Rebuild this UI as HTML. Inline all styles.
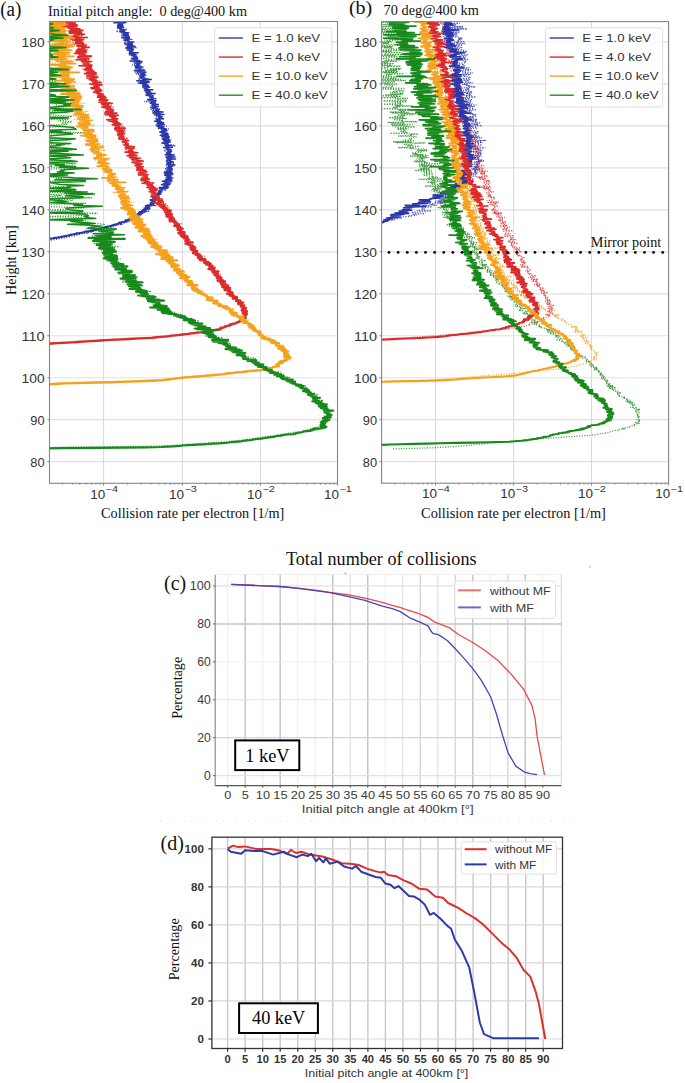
<!DOCTYPE html>
<html><head><meta charset="utf-8"><style>
html,body{margin:0;padding:0;background:#fff;}
body{width:685px;height:1083px;overflow:hidden;}
svg{display:block;}
</style></head><body>
<svg width="685" height="1083" viewBox="0 0 685 1083">
<rect width="685" height="1083" fill="#fff"/>
<clipPath id="ca"><rect x="49.5" y="21.5" width="288" height="461.8"/></clipPath>
<line x1="49.5" y1="461.7" x2="337.5" y2="461.7" stroke="#e0e0e0" stroke-width="1.2"/>
<line x1="49.5" y1="419.72" x2="337.5" y2="419.72" stroke="#e0e0e0" stroke-width="1.2"/>
<line x1="49.5" y1="377.74" x2="337.5" y2="377.74" stroke="#e0e0e0" stroke-width="1.2"/>
<line x1="49.5" y1="335.76" x2="337.5" y2="335.76" stroke="#e0e0e0" stroke-width="1.2"/>
<line x1="49.5" y1="293.78" x2="337.5" y2="293.78" stroke="#e0e0e0" stroke-width="1.2"/>
<line x1="49.5" y1="251.8" x2="337.5" y2="251.8" stroke="#e0e0e0" stroke-width="1.2"/>
<line x1="49.5" y1="209.82" x2="337.5" y2="209.82" stroke="#e0e0e0" stroke-width="1.2"/>
<line x1="49.5" y1="167.84" x2="337.5" y2="167.84" stroke="#e0e0e0" stroke-width="1.2"/>
<line x1="49.5" y1="125.86" x2="337.5" y2="125.86" stroke="#e0e0e0" stroke-width="1.2"/>
<line x1="49.5" y1="83.88" x2="337.5" y2="83.88" stroke="#e0e0e0" stroke-width="1.2"/>
<line x1="49.5" y1="41.9" x2="337.5" y2="41.9" stroke="#e0e0e0" stroke-width="1.2"/>
<line x1="103.6" y1="21.5" x2="103.6" y2="483.3" stroke="#d6d2d2" stroke-width="0.9"/>
<line x1="182.4" y1="21.5" x2="182.4" y2="483.3" stroke="#d6d2d2" stroke-width="0.9"/>
<line x1="260.4" y1="21.5" x2="260.4" y2="483.3" stroke="#d6d2d2" stroke-width="0.9"/>
<clipPath id="cb"><rect x="381.6" y="21.6" width="287" height="461.6"/></clipPath>
<line x1="381.6" y1="461.7" x2="668.6" y2="461.7" stroke="#e0e0e0" stroke-width="1.2"/>
<line x1="381.6" y1="419.72" x2="668.6" y2="419.72" stroke="#e0e0e0" stroke-width="1.2"/>
<line x1="381.6" y1="377.74" x2="668.6" y2="377.74" stroke="#e0e0e0" stroke-width="1.2"/>
<line x1="381.6" y1="335.76" x2="668.6" y2="335.76" stroke="#e0e0e0" stroke-width="1.2"/>
<line x1="381.6" y1="293.78" x2="668.6" y2="293.78" stroke="#e0e0e0" stroke-width="1.2"/>
<line x1="381.6" y1="251.8" x2="668.6" y2="251.8" stroke="#e0e0e0" stroke-width="1.2"/>
<line x1="381.6" y1="209.82" x2="668.6" y2="209.82" stroke="#e0e0e0" stroke-width="1.2"/>
<line x1="381.6" y1="167.84" x2="668.6" y2="167.84" stroke="#e0e0e0" stroke-width="1.2"/>
<line x1="381.6" y1="125.86" x2="668.6" y2="125.86" stroke="#e0e0e0" stroke-width="1.2"/>
<line x1="381.6" y1="83.88" x2="668.6" y2="83.88" stroke="#e0e0e0" stroke-width="1.2"/>
<line x1="381.6" y1="41.9" x2="668.6" y2="41.9" stroke="#e0e0e0" stroke-width="1.2"/>
<line x1="435.5" y1="21.6" x2="435.5" y2="483.2" stroke="#d6d2d2" stroke-width="0.9"/>
<line x1="513.6" y1="21.6" x2="513.6" y2="483.2" stroke="#d6d2d2" stroke-width="0.9"/>
<line x1="591.5" y1="21.6" x2="591.5" y2="483.2" stroke="#d6d2d2" stroke-width="0.9"/>
<g>
<path d="M47.5 19.6L47.5 20.7L47.5 21.8L47.5 22.9L47.5 24.0L47.5 25.1L52.6 26.2L63.1 27.3L47.5 28.4L47.5 29.5L47.5 30.6L47.5 31.7L47.5 32.8L47.5 33.9L47.5 35.0L58.4 36.1L47.5 37.2L47.5 38.3L47.5 39.4L47.5 40.5L47.5 41.6L47.5 42.7L47.5 43.8L47.5 44.9L47.5 46.0L47.5 47.1L47.5 48.2L49.2 49.3L47.5 50.4L47.5 51.5L47.5 52.6L50.1 53.7L47.5 54.8L47.5 55.9L47.5 57.0L47.5 58.1L47.5 59.2L47.5 60.3L49.9 61.4L47.5 62.5L47.5 63.6L47.5 64.7L47.5 65.8L47.5 66.9L47.5 68.0L47.5 69.1L47.5 70.2L56.8 71.3L47.5 72.4L47.5 73.5L47.5 74.6L47.5 75.7L47.5 76.8L47.5 77.9L47.5 79.0L47.5 80.1L56.2 81.2L47.5 82.3L47.5 83.4L47.5 84.5L59.1 85.6L47.5 86.7L47.5 87.8L47.5 88.9L47.5 90.0L56.0 91.1L47.5 92.2L47.5 93.3L47.5 94.4L47.5 95.5L47.5 96.6L47.5 97.7L54.4 98.8L47.5 99.9L70.8 101.0L47.5 102.1L56.1 103.2L55.9 104.3L57.1 105.4L74.2 106.5L47.5 107.6L47.5 108.7L47.5 109.8L59.0 110.9L47.5 112.0L47.5 113.1L47.5 114.2L56.4 115.3L72.3 116.4L47.5 117.5L47.5 118.6L67.9 119.7L58.0 120.8L72.0 121.9L61.6 123.0L67.6 124.1L49.1 125.2L65.6 126.3L47.5 127.4L47.5 128.5L47.5 129.6L53.6 130.7L64.5 131.8L85.8 132.9L47.5 134.0L47.5 135.1L47.5 136.2L47.5 137.3L61.9 138.4L47.5 139.5L47.5 140.6L47.5 141.7L53.5 142.8L47.5 143.9L65.0 145.0L53.7 146.1L47.5 147.2L47.5 148.3L75.5 149.4L67.4 150.5L47.5 151.6L59.4 152.7L64.6 153.8L47.5 154.9L47.5 156.0L47.5 157.1L47.5 158.2L47.5 159.3L47.5 160.4L75.3 161.5L47.5 162.6L75.9 163.7L47.5 164.8L50.9 165.9L47.5 167.0L84.0 168.1L47.5 169.2L47.5 170.3L47.5 171.4L47.5 172.5L47.5 173.6L63.1 174.7L47.5 175.8L47.5 176.9L62.6 178.0L55.2 179.1L84.8 180.2L47.5 181.3L47.5 182.4L47.5 183.5L47.5 184.6L47.5 185.7L64.9 186.8L47.5 187.9L47.5 189.0L68.9 190.1L56.2 191.2L47.5 192.3L93.3 193.4L47.5 194.5L61.5 195.6L47.5 196.7L91.8 197.8L57.8 198.9L73.2 200.0L68.6 201.1L55.5 202.2L85.9 203.3L47.5 204.4L47.5 205.5L47.5 206.6L84.6 207.7L73.2 208.8L47.5 209.9L67.9 211.0L47.5 212.1L97.8 213.2L77.4 214.3L87.3 215.4L47.5 216.5L81.0 217.6L81.3 218.7L47.5 219.8L85.8 220.9L88.5 222.0L91.6 223.1L105.0 224.2L101.6 225.3L100.2 226.4L92.5 227.5L86.3 228.6L108.8 229.7L109.3 230.8L100.1 231.9L106.3 233.0L108.6 234.1L109.2 235.2L110.0 236.3" fill="none" stroke="#2a962a" stroke-width="1.2" stroke-opacity="1.0" stroke-dasharray="1.1 1.5" clip-path="url(#ca)"/>
<path d="M93.1 235.7L92.3 236.1L109.2 236.6L102.0 237.0L105.1 237.5L110.7 237.9L91.7 238.4L98.5 238.8L105.2 239.3L106.8 239.7L101.7 240.2L111.2 240.6L105.9 241.1L96.7 241.5L98.7 242.0L109.9 242.4L107.8 242.9L93.3 243.3L113.4 243.8L108.9 244.2L113.4 244.7L103.3 245.1L104.0 245.6L99.3 246.0L120.4 246.5L105.1 246.9L115.1 247.4L102.9 247.8L107.5 248.3L97.9 248.7L105.0 249.2L112.3 249.6L101.0 250.1L113.0 250.5L109.5 251.0L102.8 251.4L105.8 251.9L106.2 252.3L108.5 252.8L106.4 253.2L105.3 253.7L108.1 254.1L104.9 254.6L103.9 255.0L110.3 255.5L115.2 255.9L103.8 256.4L111.6 256.8L108.8 257.3L107.5 257.7L116.8 258.2L110.5 258.6L120.7 259.1L110.0 259.5L116.0 260.0L113.5 260.4L111.3 260.9L118.2 261.3L115.0 261.8L119.1 262.2L116.4 262.7L111.8 263.1L116.9 263.6L118.1 264.0L122.8 264.5L114.4 264.9L118.9 265.4L111.4 265.8L123.0 266.3L115.3 266.7L112.3 267.2L120.9 267.6L126.8 268.1L114.9 268.5L117.4 269.0L119.4 269.4L118.0 269.9L125.5 270.3L120.4 270.8L121.2 271.2L127.6 271.7L121.8 272.1L127.7 272.6L121.7 273.0L121.0 273.5L118.5 273.9L135.8 274.4L126.2 274.8L129.2 275.3L128.3 275.7L129.6 276.2L129.5 276.6L138.2 277.1L125.4 277.5L123.5 278.0L126.3 278.4L125.3 278.9L135.0 279.3L135.7 279.8L128.2 280.2L126.7 280.7L131.7 281.1L139.8 281.6L121.7 282.0L136.8 282.5L130.2 282.9L139.9 283.4L131.1 283.8L134.9 284.3L130.1 284.7L132.8 285.2L143.5 285.6L141.5 286.1L136.6 286.5L135.1 287.0L131.1 287.4L138.0 287.9L140.1 288.3L140.3 288.8L140.7 289.2L136.8 289.7L141.8 290.1L142.4 290.6L148.5 291.0L151.4 291.5L143.5 291.9L141.3 292.4L144.8 292.8L143.0 293.3L143.0 293.7L146.4 294.2L142.8 294.6L150.1 295.1L147.7 295.5L149.7 296.0L148.4 296.4L146.7 296.9L146.3 297.3L149.7 297.8L149.0 298.2L152.7 298.7L152.3 299.1L147.3 299.6L153.6 300.0L148.5 300.5L152.0 300.9L153.8 301.4L147.2 301.8L156.5 302.3L157.4 302.7L156.7 303.2L156.3 303.6L157.1 304.1L155.3 304.5L158.7 305.0L158.3 305.4L161.5 305.9L157.0 306.3L163.4 306.8L163.7 307.2L163.3 307.7L162.9 308.1L167.5 308.6L159.5 309.0L168.6 309.5L168.6 309.9L169.5 310.4L170.7 310.8L167.5 311.3L169.9 311.7L174.3 312.2L174.3 312.6L174.4 313.1L168.7 313.5L177.6 314.0L181.2 314.4L181.9 314.9L180.4 315.3L175.1 315.8L186.2 316.2L183.5 316.7L175.7 317.1L187.8 317.6L181.7 318.0L183.4 318.5L186.8 318.9L194.8 319.4L189.5 319.8L192.7 320.3L199.0 320.7L199.2 321.2L193.7 321.6L193.9 322.1L190.8 322.5L193.6 323.0L198.5 323.4L199.0 323.9L198.6 324.3L202.5 324.8L196.7 325.2L199.9 325.7L203.4 326.1L203.5 326.6L205.8 327.0L204.0 327.5L202.0 327.9L205.0 328.4L200.7 328.8L199.0 329.3L207.6 329.7L205.9 330.2L207.8 330.6L201.2 331.1L206.6 331.5L206.4 332.0L206.1 332.4L201.8 332.9L209.2 333.3L214.2 333.8L213.0 334.2L210.3 334.7L213.0 335.1L216.4 335.6L204.9 336.0L214.7 336.5L217.7 336.9L218.8 337.4L223.0 337.8L221.7 338.3L219.6 338.7L220.2 339.2L222.5 339.6L218.7 340.1L221.1 340.5L224.9 341.0L229.1 341.4L222.7 341.9L223.7 342.3L225.2 342.8L229.7 343.2L225.8 343.7L231.4 344.1L224.1 344.6L227.3 345.0L227.9 345.5L231.8 345.9L233.3 346.4L225.7 346.8L228.3 347.3L233.1 347.7L230.5 348.2L228.5 348.6L237.4 349.1L236.3 349.5L237.0 350.0L234.6 350.4L240.1 350.9L236.8 351.3L241.7 351.8L236.1 352.2L237.0 352.7L241.0 353.1L238.9 353.6L243.9 354.0L243.3 354.5L240.4 354.9L244.2 355.4L243.7 355.8L248.3 356.3L244.3 356.7L245.7 357.2L251.4 357.6L255.2 358.1L255.3 358.5L250.3 359.0L251.5 359.4L256.2 359.9L252.1 360.3L250.4 360.8L254.4 361.2L256.2 361.7L253.3 362.1L251.7 362.6L253.2 363.0L260.1 363.5L256.8 363.9L259.4 364.4L261.3 364.8L263.2 365.3L261.4 365.7L264.6 366.2L261.5 366.6L263.8 367.1L262.8 367.5L269.7 368.0L267.3 368.4L266.2 368.9L268.1 369.3L269.3 369.8L272.7 370.2L267.3 370.7L269.7 371.1L272.4 371.6L281.1 372.0L277.8 372.5L275.8 372.9L278.9 373.4L283.4 373.8L278.2 374.3L278.7 374.7L283.7 375.2L282.7 375.6L284.0 376.1L281.8 376.5L289.0 377.0L289.2 377.4L287.1 377.9L288.3 378.3L282.2 378.8L289.9 379.2L288.7 379.7L291.2 380.1L292.7 380.6L291.0 381.0L288.4 381.5L294.6 381.9L292.6 382.4L294.5 382.8L294.7 383.3L296.3 383.7L292.1 384.2L302.0 384.6L300.3 385.1L303.3 385.5L306.4 386.0L302.2 386.4L298.3 386.9L301.3 387.3L301.3 387.8L303.8 388.2L306.0 388.7L301.3 389.1L307.9 389.6L303.8 390.0L309.0 390.5L308.5 390.9L308.5 391.4L309.6 391.8L308.9 392.3L309.1 392.7L306.8 393.2L311.3 393.6L316.3 394.1L317.0 394.5L315.6 395.0L314.4 395.4L311.3 395.9L317.0 396.3L313.7 396.8L314.1 397.2L313.9 397.7L315.4 398.1L314.5 398.6L315.9 399.0L313.9 399.5L316.2 399.9L323.3 400.4L318.0 400.8L318.1 401.3L320.5 401.7L321.5 402.2L317.4 402.6L320.2 403.1L323.4 403.5L322.3 404.0L322.3 404.4L326.2 404.9L321.1 405.3L323.4 405.8L322.4 406.2L327.8 406.7L319.8 407.1L323.3 407.6L324.1 408.0L327.5 408.5L327.7 408.9L330.0 409.4L323.1 409.8L329.1 410.3L326.8 410.7L326.2 411.2L329.3 411.6L325.9 412.1L323.1 412.5L327.3 413.0L324.5 413.4L326.5 413.9L328.9 414.3L328.6 414.8L331.5 415.2L327.1 415.7L323.6 416.1L325.3 416.6L324.7 417.0L323.7 417.5L327.5 417.9L324.6 418.4L321.2 418.8L327.4 419.3L325.2 419.7L326.1 420.2L325.3 420.6L326.3 421.1L324.8 421.5L327.3 422.0L325.4 422.4L325.2 422.9L325.0 423.3L321.0 423.8L323.5 424.2L323.1 424.7L323.8 425.1L320.4 425.6L325.9 426.0L322.1 426.5L318.4 426.9L316.0 427.4L316.9 427.8L315.3 428.3L312.0 428.7L311.3 429.2L307.8 429.6L307.8 430.1L303.5 430.5L302.4 431.0L301.7 431.4L301.7 431.9L293.4 432.3L291.6 432.8L288.4 433.2L288.1 433.7L282.4 434.1L280.5 434.6L278.2 435.0L273.9 435.5L270.8 435.9L268.3 436.4L263.0 436.8L260.6 437.3L258.6 437.7L256.0 438.2L252.4 438.6L247.4 439.1L245.5 439.5L243.4 440.0L239.4 440.4L234.9 440.9L229.8 441.3L226.5 441.8L219.9 442.2L212.7 442.7L205.7 443.1L199.7 443.6L191.1 444.0L184.7 444.5L178.2 444.9L173.2 445.4L164.0 445.8L146.0 446.3L110.3 446.7L63.4 447.2L47.5 447.6L47.5 448.1" fill="none" stroke="#2a962a" stroke-width="1.2" stroke-opacity="1.0" stroke-dasharray="1.1 1.5" clip-path="url(#ca)"/>
<path d="M60.1 19.5L66.3 19.9L54.6 20.4L47.5 20.8L56.2 21.3L58.3 21.7L59.0 22.2L67.4 22.6L60.6 23.1L64.0 23.5L51.0 24.0L64.5 24.4L72.9 24.9L63.9 25.3L60.4 25.8L59.8 26.2L70.9 26.7L52.6 27.1L58.2 27.6L62.0 28.0L64.0 28.5L56.1 28.9L61.1 29.4L57.3 29.8L60.0 30.3L58.3 30.7L51.6 31.2L59.1 31.6L65.1 32.1L52.9 32.5L57.8 33.0L63.8 33.4L52.4 33.9L60.7 34.3L52.5 34.8L67.0 35.2L74.8 35.7L72.9 36.1L58.2 36.6L64.5 37.0L60.5 37.5L60.4 37.9L69.9 38.4L51.2 38.8L66.7 39.3L59.6 39.7L69.0 40.2L61.2 40.6L55.6 41.1L61.8 41.5L64.8 42.0L60.3 42.4L63.2 42.9L56.8 43.3L47.5 43.8L65.9 44.2L64.7 44.7L61.2 45.1L60.7 45.6L66.9 46.0L57.4 46.5L55.9 46.9L59.2 47.4L67.9 47.8L51.7 48.3L67.9 48.7L56.4 49.2L53.6 49.6L68.4 50.1L59.9 50.5L52.4 51.0L58.3 51.4L66.4 51.9L68.0 52.3L58.0 52.8L63.2 53.2L65.1 53.7L56.7 54.1L62.9 54.6L60.6 55.0L57.5 55.5L57.8 55.9L61.3 56.4L61.1 56.8L57.5 57.3L58.4 57.7L67.8 58.2L62.3 58.6L66.5 59.1L68.4 59.5L64.8 60.0L75.0 60.4L56.3 60.9L66.2 61.3L59.5 61.8L72.6 62.2L71.7 62.7L50.0 63.1L55.9 63.6L65.7 64.0L66.5 64.5L66.2 64.9L61.6 65.4L64.7 65.8L65.9 66.3L61.8 66.7L68.2 67.2L49.4 67.6L66.1 68.1L56.7 68.5L68.1 69.0L61.5 69.4L57.8 69.9L65.0 70.3L57.9 70.8L58.0 71.2L54.5 71.7L63.2 72.1L66.2 72.6L69.2 73.0L62.9 73.5L69.5 73.9L64.0 74.4L63.5 74.8L67.2 75.3L69.9 75.7L62.5 76.2L63.2 76.6L63.8 77.1L65.2 77.5L60.2 78.0L70.4 78.4L63.1 78.9L67.8 79.3L61.3 79.8L67.5 80.2L67.9 80.7L63.9 81.1L76.5 81.6L68.3 82.0L75.6 82.5L71.6 82.9L63.7 83.4L65.4 83.8L69.7 84.3L68.1 84.7L68.4 85.2L67.0 85.6L59.8 86.1L68.0 86.5L58.5 87.0L71.6 87.4L66.5 87.9L66.8 88.3L69.5 88.8L72.2 89.2L64.1 89.7L62.7 90.1L66.2 90.6L61.7 91.0L67.0 91.5L79.6 91.9L66.9 92.4L75.3 92.8L65.7 93.3L73.8 93.7L71.0 94.2L72.3 94.6L75.4 95.1L81.2 95.5L73.9 96.0L73.6 96.4L68.6 96.9L76.0 97.3L72.2 97.8L77.4 98.2L73.4 98.7L81.9 99.1L64.6 99.6L72.6 100.0L78.2 100.5L72.6 100.9L70.7 101.4L73.3 101.8L68.3 102.3L75.4 102.7L86.3 103.2L80.6 103.6L70.4 104.1L71.7 104.5L74.2 105.0L80.9 105.4L72.8 105.9L73.7 106.3L81.2 106.8L81.4 107.2L76.1 107.7L73.1 108.1L71.4 108.6L75.6 109.0L69.0 109.5L82.6 109.9L76.7 110.4L81.9 110.8L88.3 111.3L85.4 111.7L75.2 112.2L84.3 112.6L85.7 113.1L77.4 113.5L76.7 114.0L80.5 114.4L74.1 114.9L87.7 115.3L70.9 115.8L76.7 116.2L80.4 116.7L80.7 117.1L82.6 117.6L83.1 118.0L81.1 118.5L87.1 118.9L73.0 119.4L82.4 119.8L79.4 120.3L83.2 120.7L83.6 121.2L78.9 121.6L80.2 122.1L86.4 122.5L84.7 123.0L80.5 123.4L92.1 123.9L93.4 124.3L77.7 124.8L85.3 125.2L94.7 125.7L87.6 126.1L85.5 126.6L83.9 127.0L82.8 127.5L84.4 127.9L83.3 128.4L88.9 128.8L84.5 129.3L84.6 129.7L81.8 130.2L86.8 130.6L83.6 131.1L86.9 131.5L92.2 132.0L89.7 132.4L90.6 132.9L90.3 133.3L89.3 133.8L88.9 134.2L88.4 134.7L93.0 135.1L85.9 135.6L95.8 136.0L90.9 136.5L88.0 136.9L89.2 137.4L88.7 137.8L92.2 138.3L89.0 138.7L96.5 139.2L89.1 139.6L83.5 140.1L89.7 140.5L84.9 141.0L92.8 141.4L97.3 141.9L95.8 142.3L88.3 142.8L90.7 143.2L100.7 143.7L95.3 144.1L94.2 144.6L98.4 145.0L103.9 145.5L99.7 145.9L95.5 146.4L96.5 146.8L97.7 147.3L93.2 147.7L91.7 148.2L96.1 148.6L92.6 149.1L96.1 149.5L96.9 150.0L105.5 150.4L93.9 150.9L96.8 151.3L96.9 151.8L99.3 152.2L101.8 152.7L96.4 153.1L95.4 153.6L92.7 154.0L95.5 154.5L101.1 154.9L99.5 155.4L95.9 155.8L98.5 156.3L100.2 156.7L102.1 157.2L98.4 157.6L99.9 158.1L94.5 158.5L97.1 159.0L107.2 159.4L93.9 159.9L100.7 160.3L102.9 160.8L101.0 161.2L99.7 161.7L102.5 162.1L102.9 162.6L102.8 163.0L96.8 163.5L102.9 163.9L100.7 164.4L101.9 164.8L104.8 165.3L106.4 165.7L107.5 166.2L103.0 166.6L108.1 167.1L109.1 167.5L109.3 168.0L110.4 168.4L105.5 168.9L105.7 169.3L109.4 169.8L102.3 170.2L108.0 170.7L105.8 171.1L106.7 171.6L102.5 172.0L105.7 172.5L109.0 172.9L112.4 173.4L113.1 173.8L109.8 174.3L109.8 174.7L108.0 175.2L112.5 175.6L110.6 176.1L113.8 176.5L117.9 177.0L112.2 177.4L107.6 177.9L110.0 178.3L108.3 178.8L109.4 179.2L118.1 179.7L114.7 180.1L109.1 180.6L116.7 181.0L118.9 181.5L113.8 181.9L113.0 182.4L114.4 182.8L116.7 183.3L118.1 183.7L120.2 184.2L120.5 184.6L120.7 185.1L121.5 185.5L119.5 186.0L112.5 186.4L117.3 186.9L119.1 187.3L117.0 187.8L121.5 188.2L117.6 188.7L115.9 189.1L124.0 189.6L121.7 190.0L120.4 190.5L123.0 190.9L123.7 191.4L121.6 191.8L112.6 192.3L118.7 192.7L119.7 193.2L118.2 193.6L122.3 194.1L125.8 194.5L120.5 195.0L118.6 195.4L129.2 195.9L121.4 196.3L119.1 196.8L124.1 197.2L124.9 197.7L121.5 198.1L126.6 198.6L122.7 199.0L121.5 199.5L125.3 199.9L127.5 200.4L123.2 200.8L126.6 201.3L125.4 201.7L135.1 202.2L123.9 202.6L130.9 203.1L126.6 203.5L126.6 204.0L129.6 204.4L130.4 204.9L131.8 205.3L129.0 205.8L126.3 206.2L126.8 206.7L130.4 207.1L130.9 207.6L133.8 208.0L130.9 208.5L133.2 208.9L134.9 209.4L130.9 209.8L125.9 210.3L127.1 210.7L126.6 211.2L136.5 211.6L129.0 212.1L135.9 212.5L134.1 213.0L137.9 213.4L135.9 213.9L132.7 214.3L132.7 214.8L133.9 215.2L134.4 215.7L132.5 216.1L134.3 216.6L139.7 217.0L129.7 217.5L136.1 217.9L132.8 218.4L136.4 218.8L138.7 219.3L136.2 219.7L139.0 220.2L132.2 220.6L140.6 221.1L135.7 221.5L139.7 222.0L138.7 222.4L130.7 222.9L136.5 223.3L139.7 223.8L144.0 224.2L140.5 224.7L140.7 225.1L136.1 225.6L144.8 226.0L146.2 226.5L141.3 226.9L140.9 227.4L137.1 227.8L144.8 228.3L150.4 228.7L144.9 229.2L146.9 229.6L145.1 230.1L141.0 230.5L148.1 231.0L141.0 231.4L144.3 231.9L146.1 232.3L148.2 232.8L147.2 233.2L147.5 233.7L144.6 234.1L143.5 234.6L147.7 235.0L145.9 235.5L144.6 235.9L145.1 236.4L147.7 236.8L144.3 237.3L146.1 237.7L145.7 238.2L151.2 238.6L152.2 239.1L157.0 239.5L147.7 240.0L150.4 240.4L155.2 240.9L152.5 241.3L152.6 241.8L158.6 242.2L153.4 242.7L151.6 243.1L151.6 243.6L156.4 244.0L156.8 244.5L152.7 244.9L154.1 245.4L158.6 245.8L159.1 246.3L156.3 246.7L160.1 247.2L160.3 247.6L154.5 248.1L158.8 248.5L161.1 249.0L158.9 249.4L155.2 249.9L160.5 250.3L163.6 250.8L166.1 251.2L156.7 251.7L169.6 252.1L160.3 252.6L166.0 253.0L167.1 253.5L166.9 253.9L165.1 254.4L162.2 254.8L167.1 255.3L164.1 255.7L159.9 256.2L173.8 256.6L168.8 257.1L172.0 257.5L165.5 258.0L171.9 258.4L172.6 258.9L172.9 259.3L169.3 259.8L166.7 260.2L169.7 260.7L165.0 261.1L166.7 261.6L171.5 262.0L169.2 262.5L171.6 262.9L172.2 263.4L177.6 263.8L176.4 264.3L173.5 264.7L177.0 265.2L172.5 265.6L174.0 266.1L177.4 266.5L172.6 267.0L175.3 267.4L173.2 267.9L177.1 268.3L181.1 268.8L175.8 269.2L178.6 269.7L176.3 270.1L176.2 270.6L176.4 271.0L183.1 271.5L185.7 271.9L181.7 272.4L179.3 272.8L183.1 273.3L181.1 273.7L184.1 274.2L183.3 274.6L183.7 275.1L184.9 275.5L182.6 276.0L183.4 276.4L180.8 276.9L184.2 277.3L182.4 277.8L185.7 278.2L184.3 278.7L187.1 279.1L188.3 279.6L184.5 280.0L186.3 280.5L186.5 280.9L190.7 281.4L193.3 281.8L191.8 282.3L189.6 282.7L194.0 283.2L187.9 283.6L195.0 284.1L190.7 284.5L186.5 285.0L198.9 285.4L197.0 285.9L191.8 286.3L194.9 286.8L194.5 287.2L195.7 287.7L192.8 288.1L195.0 288.6L198.0 289.0L198.0 289.5L200.6 289.9L198.7 290.4L204.1 290.8L198.1 291.3L200.7 291.7L196.7 292.2L198.7 292.6L204.7 293.1L200.5 293.5L204.2 294.0L203.5 294.4L202.1 294.9L204.2 295.3L204.6 295.8L205.3 296.2L208.6 296.7L209.1 297.1L207.3 297.6L207.4 298.0L210.6 298.5L210.6 298.9L213.7 299.4L217.8 299.8L214.9 300.3L213.9 300.7L214.5 301.2L213.9 301.6L214.6 302.1L215.2 302.5L217.3 303.0L218.0 303.4L221.2 303.9L219.8 304.3L221.0 304.8L219.8 305.2L226.3 305.7L224.9 306.1L228.2 306.6L227.0 307.0L229.2 307.5L226.5 307.9L229.2 308.4L233.9 308.8L226.9 309.3L232.3 309.7L234.1 310.2L232.3 310.6L233.6 311.1L235.3 311.5L232.1 312.0L234.9 312.4L233.0 312.9L234.0 313.3L234.7 313.8L236.3 314.2L237.4 314.7L238.6 315.1L235.5 315.6L242.8 316.0L241.7 316.5L241.4 316.9L239.9 317.4L240.9 317.8L242.7 318.3L243.0 318.7L239.4 319.2L244.7 319.6L249.5 320.1L240.7 320.5L246.8 321.0L246.0 321.4L245.6 321.9L249.0 322.3L244.6 322.8L247.7 323.2L250.7 323.7L248.0 324.1L248.1 324.6L249.6 325.0L249.1 325.5L253.4 325.9L249.2 326.4L253.2 326.8L249.6 327.3L253.8 327.7L252.9 328.2L248.7 328.6L254.1 329.1L252.7 329.5L254.4 330.0L258.7 330.4L254.2 330.9L254.9 331.3L260.2 331.8L258.3 332.2L261.5 332.7L259.8 333.1L258.2 333.6L260.3 334.0L263.3 334.5L263.4 334.9L262.3 335.4L263.1 335.8L263.5 336.3L263.3 336.7L268.7 337.2L265.9 337.6L264.6 338.1L266.6 338.5L269.6 339.0L270.3 339.4L269.7 339.9L269.6 340.3L271.7 340.8L269.4 341.2L270.9 341.7L275.5 342.1L274.0 342.6L276.3 343.0L278.5 343.5L278.2 343.9L277.8 344.4L282.2 344.8L280.2 345.3L279.0 345.7L281.4 346.2L281.3 346.6L279.6 347.1L281.6 347.5L281.6 348.0L279.0 348.4L282.5 348.9L282.8 349.3L282.9 349.8L281.3 350.2L283.9 350.7L284.9 351.1L285.5 351.6L283.7 352.0L287.1 352.5L284.2 352.9L286.2 353.4L289.0 353.8L285.8 354.3L286.3 354.7L289.1 355.2L286.7 355.6L286.9 356.1L287.7 356.5L289.0 357.0L283.3 357.4L285.3 357.9L284.6 358.3L284.0 358.8L283.9 359.2L283.4 359.7L284.7 360.1L282.1 360.6L283.1 361.0L282.9 361.5L280.5 361.9L281.2 362.4L282.9 362.8L280.3 363.3L278.3 363.7L278.4 364.2L276.6 364.6L277.5 365.1L277.5 365.5L274.4 366.0L274.2 366.4L274.8 366.9L271.6 367.3L271.1 367.8L267.9 368.2L265.6 368.7L262.6 369.1L261.7 369.6L254.5 370.0L249.9 370.5L245.4 370.9L241.4 371.4L238.3 371.8L234.0 372.3L231.9 372.7L226.3 373.2L223.4 373.6L218.2 374.1L214.0 374.5L207.5 375.0L203.1 375.4L197.4 375.9L191.6 376.3L184.8 376.8L182.1 377.2L177.3 377.7L173.9 378.1L170.7 378.6L167.0 379.0L162.6 379.5L155.3 379.9L146.0 380.4L134.8 380.8L122.0 381.3L106.7 381.7L88.0 382.2L70.4 382.6L59.0 383.1L53.1 383.5L47.5 384.0L47.5 384.4" fill="none" stroke="#f5aa30" stroke-width="1.2" stroke-opacity="1.0" stroke-dasharray="1.1 1.5" clip-path="url(#ca)"/>
<path d="M74.4 19.5L68.8 19.9L74.5 20.4L64.7 20.8L63.7 21.3L65.9 21.7L69.9 22.2L70.5 22.6L69.8 23.1L72.7 23.5L63.1 24.0L74.7 24.4L66.6 24.9L70.1 25.3L71.3 25.8L68.3 26.2L67.5 26.7L69.2 27.1L73.6 27.6L76.3 28.0L76.4 28.5L70.0 28.9L71.0 29.4L70.6 29.8L76.5 30.3L66.4 30.7L80.1 31.2L73.2 31.6L72.1 32.1L76.9 32.5L79.9 33.0L77.3 33.4L80.3 33.9L76.8 34.3L81.3 34.8L81.6 35.2L76.4 35.7L82.7 36.1L77.8 36.6L77.7 37.0L73.9 37.5L76.6 37.9L80.9 38.4L73.0 38.8L80.8 39.3L79.8 39.7L79.7 40.2L70.3 40.6L78.5 41.1L81.5 41.5L76.3 42.0L79.7 42.4L70.6 42.9L82.2 43.3L77.3 43.8L83.2 44.2L73.2 44.7L82.8 45.1L79.5 45.6L83.5 46.0L77.2 46.5L78.5 46.9L89.1 47.4L78.0 47.8L78.6 48.3L80.3 48.7L77.8 49.2L85.9 49.6L87.9 50.1L79.3 50.5L75.8 51.0L86.3 51.4L86.2 51.9L85.4 52.3L86.7 52.8L79.7 53.2L82.3 53.7L78.2 54.1L78.3 54.6L86.8 55.0L81.3 55.5L91.7 55.9L84.2 56.4L82.0 56.8L87.1 57.3L90.7 57.7L86.4 58.2L80.8 58.6L86.4 59.1L90.0 59.5L83.9 60.0L83.2 60.4L89.4 60.9L86.7 61.3L82.8 61.8L85.4 62.2L84.3 62.7L88.0 63.1L87.6 63.6L91.2 64.0L90.0 64.5L82.7 64.9L89.4 65.4L91.2 65.8L89.9 66.3L92.0 66.7L87.0 67.2L85.9 67.6L92.2 68.1L85.9 68.5L82.5 69.0L93.0 69.4L87.5 69.9L89.0 70.3L85.7 70.8L86.1 71.2L86.8 71.7L89.6 72.1L92.1 72.6L83.7 73.0L93.7 73.5L87.6 73.9L88.2 74.4L93.9 74.8L91.7 75.3L87.2 75.7L98.2 76.2L89.7 76.6L93.4 77.1L93.4 77.5L97.5 78.0L91.7 78.4L96.5 78.9L91.1 79.3L97.2 79.8L91.4 80.2L92.8 80.7L100.2 81.1L95.3 81.6L94.9 82.0L101.8 82.5L96.0 82.9L92.5 83.4L97.5 83.8L91.7 84.3L99.1 84.7L99.5 85.2L94.1 85.6L94.1 86.1L96.8 86.5L96.4 87.0L93.5 87.4L98.5 87.9L90.5 88.3L95.7 88.8L95.9 89.2L96.5 89.7L98.5 90.1L93.9 90.6L99.7 91.0L97.5 91.5L96.2 91.9L94.2 92.4L94.9 92.8L99.9 93.3L96.0 93.7L99.4 94.2L102.6 94.6L102.8 95.1L104.6 95.5L99.1 96.0L97.0 96.4L103.7 96.9L101.8 97.3L104.5 97.8L101.4 98.2L105.4 98.7L104.6 99.1L104.5 99.6L104.2 100.0L104.3 100.5L104.1 100.9L104.4 101.4L107.1 101.8L102.9 102.3L110.0 102.7L104.8 103.2L108.4 103.6L105.5 104.1L105.3 104.5L112.5 105.0L105.7 105.4L103.1 105.9L105.1 106.3L106.5 106.8L114.2 107.2L108.6 107.7L111.1 108.1L105.5 108.6L109.8 109.0L111.0 109.5L114.7 109.9L107.4 110.4L111.6 110.8L110.9 111.3L107.2 111.7L110.4 112.2L109.9 112.6L103.9 113.1L112.9 113.5L113.0 114.0L110.3 114.4L107.8 114.9L116.5 115.3L113.1 115.8L115.6 116.2L117.0 116.7L111.4 117.1L115.6 117.6L112.7 118.0L113.4 118.5L113.6 118.9L114.0 119.4L117.6 119.8L114.9 120.3L114.2 120.7L114.1 121.2L116.2 121.6L112.7 122.1L114.1 122.5L115.7 123.0L114.4 123.4L115.9 123.9L114.7 124.3L122.8 124.8L121.0 125.2L118.6 125.7L117.3 126.1L124.2 126.6L118.9 127.0L117.9 127.5L119.3 127.9L119.5 128.4L123.1 128.8L119.0 129.3L125.6 129.7L116.9 130.2L121.9 130.6L117.0 131.1L125.7 131.5L119.5 132.0L120.6 132.4L123.7 132.9L124.9 133.3L118.1 133.8L120.6 134.2L117.8 134.7L122.5 135.1L122.1 135.6L121.6 136.0L120.8 136.5L121.9 136.9L121.1 137.4L125.1 137.8L128.2 138.3L118.3 138.7L123.9 139.2L123.3 139.6L126.2 140.1L122.2 140.5L124.8 141.0L122.4 141.4L127.7 141.9L126.2 142.3L125.7 142.8L127.5 143.2L125.9 143.7L122.3 144.1L128.8 144.6L128.2 145.0L127.1 145.5L130.7 145.9L131.6 146.4L125.1 146.8L126.3 147.3L133.3 147.7L133.1 148.2L127.1 148.6L126.1 149.1L127.9 149.5L128.6 150.0L125.7 150.4L130.6 150.9L127.0 151.3L127.5 151.8L133.8 152.2L129.5 152.7L131.5 153.1L133.7 153.6L134.5 154.0L131.5 154.5L132.8 154.9L130.6 155.4L138.2 155.8L135.3 156.3L130.5 156.7L133.9 157.2L136.2 157.6L135.8 158.1L139.8 158.5L138.8 159.0L133.6 159.4L135.1 159.9L132.0 160.3L136.6 160.8L136.6 161.2L144.0 161.7L136.9 162.1L131.0 162.6L135.2 163.0L137.7 163.5L134.1 163.9L135.4 164.4L137.1 164.8L139.3 165.3L138.2 165.7L136.4 166.2L141.4 166.6L137.9 167.1L138.3 167.5L136.1 168.0L138.0 168.4L142.2 168.9L136.2 169.3L140.7 169.8L143.2 170.2L140.4 170.7L142.3 171.1L138.9 171.6L145.8 172.0L145.5 172.5L143.3 172.9L138.1 173.4L140.3 173.8L146.1 174.3L148.4 174.7L144.8 175.2L147.6 175.6L142.8 176.1L144.2 176.5L145.0 177.0L146.4 177.4L141.4 177.9L148.3 178.3L149.6 178.8L143.2 179.2L142.9 179.7L147.7 180.1L145.3 180.6L140.9 181.0L149.7 181.5L148.2 181.9L146.8 182.4L153.9 182.8L148.9 183.3L146.8 183.7L149.4 184.2L146.6 184.6L147.6 185.1L150.9 185.5L148.7 186.0L149.2 186.4L155.1 186.9L153.2 187.3L153.3 187.8L152.9 188.2L153.0 188.7L155.8 189.1L152.3 189.6L157.4 190.0L150.4 190.5L152.5 190.9L149.9 191.4L152.8 191.8L155.3 192.3L158.0 192.7L152.9 193.2L154.9 193.6L154.2 194.1L153.5 194.5L152.7 195.0L156.2 195.4L151.9 195.9L156.9 196.3L156.9 196.8L155.5 197.2L155.0 197.7L154.3 198.1L162.8 198.6L155.1 199.0L162.7 199.5L160.6 199.9L158.5 200.4L156.9 200.8L162.7 201.3L164.7 201.7L158.4 202.2L160.4 202.6L164.0 203.1L162.6 203.5L167.0 204.0L161.1 204.4L164.1 204.9L160.1 205.3L168.6 205.8L162.0 206.2L158.8 206.7L164.2 207.1L164.5 207.6L169.8 208.0L164.6 208.5L165.8 208.9L167.5 209.4L170.2 209.8L166.6 210.3L169.5 210.7L168.6 211.2L167.0 211.6L168.2 212.1L168.4 212.5L166.5 213.0L171.8 213.4L166.0 213.9L172.3 214.3L172.1 214.8L170.0 215.2L168.7 215.7L170.3 216.1L172.2 216.6L173.2 217.0L172.4 217.5L174.4 217.9L171.1 218.4L173.2 218.8L169.4 219.3L175.1 219.7L174.0 220.2L173.0 220.6L176.9 221.1L176.1 221.5L168.5 222.0L175.3 222.4L172.2 222.9L178.2 223.3L181.7 223.8L175.3 224.2L176.9 224.7L176.5 225.1L178.1 225.6L179.1 226.0L180.8 226.5L176.1 226.9L182.0 227.4L176.9 227.8L179.8 228.3L182.1 228.7L181.4 229.2L178.2 229.6L179.0 230.1L179.8 230.5L181.0 231.0L183.9 231.4L179.0 231.9L183.0 232.3L183.6 232.8L183.8 233.2L183.9 233.7L186.5 234.1L184.6 234.6L185.7 235.0L185.4 235.5L188.2 235.9L180.8 236.4L187.7 236.8L184.9 237.3L185.1 237.7L184.0 238.2L182.5 238.6L185.8 239.1L185.5 239.5L188.2 240.0L184.5 240.4L190.7 240.9L188.7 241.3L188.0 241.8L187.4 242.2L187.5 242.7L187.2 243.1L188.6 243.6L190.1 244.0L190.0 244.5L187.9 244.9L190.5 245.4L189.6 245.8L192.0 246.3L195.7 246.7L193.6 247.2L192.1 247.6L189.9 248.1L190.6 248.5L190.5 249.0L195.5 249.4L193.0 249.9L194.9 250.3L194.0 250.8L195.7 251.2L198.5 251.7L195.0 252.1L196.0 252.6L195.5 253.0L199.1 253.5L195.9 253.9L196.1 254.4L196.1 254.8L196.5 255.3L200.4 255.7L204.7 256.2L198.6 256.6L202.6 257.1L201.8 257.5L199.7 258.0L201.7 258.4L202.2 258.9L201.8 259.3L207.1 259.8L200.6 260.2L205.2 260.7L205.5 261.1L204.3 261.6L206.1 262.0L207.9 262.5L207.0 262.9L208.0 263.4L208.9 263.8L204.5 264.3L211.2 264.7L213.1 265.2L211.2 265.6L211.7 266.1L207.9 266.5L210.6 267.0L209.8 267.4L210.7 267.9L213.8 268.3L211.2 268.8L212.7 269.2L210.1 269.7L213.5 270.1L214.3 270.6L213.4 271.0L213.7 271.5L218.5 271.9L213.6 272.4L214.3 272.8L215.1 273.3L218.8 273.7L220.7 274.2L218.0 274.6L216.6 275.1L217.4 275.5L220.3 276.0L217.3 276.4L221.6 276.9L221.8 277.3L219.9 277.8L221.2 278.2L221.7 278.7L223.3 279.1L219.3 279.6L223.3 280.0L221.1 280.5L220.8 280.9L222.5 281.4L222.3 281.8L221.3 282.3L220.7 282.7L222.0 283.2L226.2 283.6L227.3 284.1L225.5 284.5L226.7 285.0L224.3 285.4L225.3 285.9L226.2 286.3L224.4 286.8L224.8 287.2L226.9 287.7L226.5 288.1L225.7 288.6L228.3 289.0L227.6 289.5L229.9 289.9L228.7 290.4L228.6 290.8L229.6 291.3L229.5 291.7L229.2 292.2L229.9 292.6L232.0 293.1L232.3 293.5L233.6 294.0L229.6 294.4L232.0 294.9L232.4 295.3L233.7 295.8L233.3 296.2L233.7 296.7L236.0 297.1L235.6 297.6L234.2 298.0L238.3 298.5L238.3 298.9L236.5 299.4L239.0 299.8L237.2 300.3L240.3 300.7L238.8 301.2L238.4 301.6L239.4 302.1L239.3 302.5L241.0 303.0L241.3 303.4L241.4 303.9L240.9 304.3L236.9 304.8L242.4 305.2L239.9 305.7L243.2 306.1L244.7 306.6L243.8 307.0L243.2 307.5L243.7 307.9L244.1 308.4L243.7 308.8L243.9 309.3L243.7 309.7L246.7 310.2L245.2 310.6L246.6 311.1L245.0 311.5L245.5 312.0L245.2 312.4L246.0 312.9L246.4 313.3L245.5 313.8L244.2 314.2L243.9 314.7L246.9 315.1L244.2 315.6L244.0 316.0L245.9 316.5L245.2 316.9L244.2 317.4L242.8 317.8L245.7 318.3L243.0 318.7L242.9 319.2L241.7 319.6L239.9 320.1L239.5 320.5L240.6 321.0L239.6 321.4L237.8 321.9L235.5 322.3L233.8 322.8L233.5 323.2L230.9 323.7L231.8 324.1L230.6 324.6L230.9 325.0L227.8 325.5L225.2 325.9L223.8 326.4L220.4 326.8L221.8 327.3L220.9 327.7L220.5 328.2L218.7 328.6L217.0 329.1L214.8 329.5L212.9 330.0L210.8 330.4L206.1 330.9L203.4 331.3L199.4 331.8L197.8 332.2L193.9 332.7L189.8 333.1L184.9 333.6L181.9 334.0L178.0 334.5L174.4 334.9L170.3 335.4L166.4 335.8L161.5 336.3L157.1 336.7L151.3 337.2L144.3 337.6L135.9 338.1L126.5 338.5L117.6 339.0L108.8 339.4L101.5 339.9L94.1 340.3L86.9 340.8L80.6 341.2L73.0 341.7L66.0 342.1L57.9 342.6L50.2 343.0L44.8 343.5L40.4 343.9" fill="none" stroke="#e04040" stroke-width="1.2" stroke-opacity="1.0" stroke-dasharray="1.1 1.5" clip-path="url(#ca)"/>
<path d="M117.2 21.4L116.5 21.8L121.3 22.3L119.1 22.7L120.7 23.2L118.8 23.6L120.7 24.1L118.2 24.5L120.0 25.0L121.5 25.4L120.3 25.9L119.2 26.3L117.8 26.8L120.9 27.2L121.5 27.7L120.1 28.1L119.1 28.6L122.4 29.0L127.3 29.5L120.7 29.9L122.5 30.4L122.8 30.8L115.9 31.3L122.6 31.7L120.8 32.2L126.1 32.6L122.4 33.1L121.4 33.5L123.0 34.0L124.2 34.4L122.7 34.9L124.2 35.3L121.3 35.8L124.3 36.2L127.0 36.7L130.2 37.1L127.4 37.6L126.6 38.0L129.1 38.5L129.0 38.9L130.8 39.4L129.7 39.8L127.0 40.3L128.2 40.7L128.2 41.2L128.8 41.6L128.8 42.1L126.6 42.5L123.6 43.0L127.3 43.4L124.2 43.9L129.5 44.3L129.5 44.8L125.6 45.2L131.6 45.7L132.2 46.1L130.5 46.6L134.5 47.0L135.2 47.5L127.9 47.9L133.5 48.4L132.3 48.8L132.4 49.3L133.8 49.7L130.0 50.2L130.4 50.6L130.0 51.1L130.4 51.5L132.2 52.0L129.0 52.4L130.2 52.9L134.3 53.3L132.9 53.8L134.2 54.2L128.8 54.7L131.7 55.1L132.4 55.6L134.0 56.0L132.7 56.5L136.6 56.9L134.3 57.4L134.6 57.8L134.8 58.3L136.7 58.7L133.9 59.2L138.0 59.6L136.6 60.1L136.0 60.5L135.9 61.0L137.2 61.4L138.6 61.9L138.6 62.3L137.4 62.8L138.8 63.2L137.1 63.7L140.1 64.1L137.1 64.6L132.2 65.0L140.8 65.5L137.9 65.9L134.9 66.4L137.5 66.8L136.0 67.3L143.5 67.7L139.8 68.2L134.8 68.6L140.2 69.1L138.0 69.5L144.0 70.0L136.8 70.4L134.0 70.9L139.9 71.3L139.0 71.8L139.0 72.2L134.9 72.7L141.5 73.1L144.7 73.6L136.0 74.0L143.8 74.5L139.7 74.9L147.1 75.4L142.5 75.8L141.1 76.3L144.5 76.7L143.2 77.2L140.6 77.6L144.0 78.1L141.2 78.5L138.1 79.0L147.8 79.4L142.1 79.9L141.6 80.3L144.1 80.8L139.6 81.2L140.3 81.7L142.6 82.1L142.7 82.6L144.3 83.0L147.1 83.5L143.3 83.9L145.9 84.4L146.4 84.8L142.3 85.3L145.8 85.7L143.0 86.2L148.2 86.6L146.9 87.1L146.0 87.5L142.8 88.0L146.6 88.4L144.5 88.9L148.4 89.3L146.5 89.8L145.0 90.2L149.5 90.7L149.2 91.1L146.1 91.6L150.7 92.0L147.2 92.5L147.3 92.9L148.6 93.4L146.6 93.8L147.6 94.3L148.5 94.7L152.9 95.2L153.0 95.6L148.8 96.1L153.7 96.5L149.7 97.0L150.9 97.4L152.4 97.9L151.1 98.3L156.6 98.8L151.3 99.2L147.9 99.7L154.4 100.1L150.2 100.6L150.7 101.0L144.0 101.5L154.3 101.9L154.1 102.4L154.2 102.8L154.8 103.3L156.8 103.7L152.6 104.2L155.3 104.6L151.2 105.1L152.3 105.5L156.1 106.0L154.6 106.4L150.4 106.9L154.9 107.3L153.7 107.8L152.2 108.2L155.6 108.7L153.6 109.1L150.8 109.6L152.2 110.0L159.7 110.5L151.5 110.9L156.1 111.4L157.3 111.8L157.5 112.3L152.9 112.7L155.4 113.2L156.8 113.6L158.7 114.1L155.1 114.5L154.0 115.0L159.7 115.4L160.2 115.9L158.5 116.3L156.1 116.8L158.9 117.2L158.3 117.7L160.4 118.1L155.1 118.6L158.8 119.0L158.3 119.5L156.0 119.9L159.6 120.4L159.3 120.8L158.3 121.3L160.6 121.7L156.1 122.2L159.7 122.6L161.2 123.1L161.0 123.5L163.2 124.0L157.4 124.4L156.8 124.9L161.5 125.3L162.2 125.8L166.7 126.2L162.9 126.7L159.2 127.1L163.7 127.6L159.6 128.0L158.1 128.5L168.9 128.9L163.1 129.4L164.3 129.8L164.0 130.3L167.4 130.7L163.6 131.2L166.2 131.6L160.5 132.1L159.7 132.5L167.2 133.0L167.5 133.4L165.1 133.9L164.5 134.3L164.5 134.8L162.5 135.2L168.4 135.7L166.2 136.1L166.0 136.6L165.8 137.0L167.7 137.5L166.4 137.9L167.2 138.4L162.4 138.8L166.9 139.3L171.3 139.7L164.5 140.2L165.6 140.6L168.4 141.1L168.7 141.5L168.0 142.0L162.4 142.4L167.9 142.9L163.7 143.3L164.8 143.8L168.4 144.2L166.4 144.7L169.3 145.1L175.4 145.6L169.5 146.0L169.4 146.5L165.4 146.9L166.2 147.4L165.2 147.8L166.7 148.3L165.4 148.7L166.6 149.2L167.8 149.6L165.9 150.1L165.0 150.5L165.2 151.0L170.0 151.4L169.1 151.9L171.6 152.3L171.8 152.8L168.4 153.2L171.0 153.7L165.7 154.1L175.2 154.6L172.5 155.0L169.0 155.5L166.6 155.9L170.6 156.4L164.9 156.8L167.6 157.3L171.5 157.7L169.8 158.2L168.4 158.6L172.0 159.1L167.0 159.5L170.3 160.0L168.3 160.4L167.5 160.9L170.8 161.3L167.1 161.8L174.4 162.2L168.1 162.7L174.6 163.1L166.8 163.6L171.1 164.0L166.5 164.5L166.2 164.9L169.9 165.4L171.2 165.8L166.3 166.3L172.5 166.7L167.5 167.2L169.8 167.6L170.5 168.1L171.0 168.5L165.0 169.0L173.5 169.4L170.9 169.9L168.4 170.3L166.9 170.8L165.3 171.2L166.1 171.7L170.7 172.1L168.5 172.6L166.5 173.0L168.0 173.5L173.0 173.9L168.3 174.4L167.7 174.8L172.2 175.3L170.1 175.7L169.0 176.2L167.4 176.6L165.1 177.1L165.9 177.5L167.5 178.0L168.0 178.4L169.3 178.9L169.6 179.3L168.8 179.8L168.7 180.2L165.8 180.7L163.1 181.1L166.7 181.6L165.6 182.0L166.2 182.5L166.9 182.9L164.6 183.4L164.8 183.8L166.9 184.3L167.2 184.7L165.3 185.2L167.6 185.6L165.7 186.1L163.7 186.5L165.6 187.0L169.2 187.4L163.3 187.9L166.8 188.3L166.8 188.8L166.6 189.2L161.2 189.7L166.7 190.1L162.2 190.6L160.9 191.0L160.5 191.5L161.7 191.9L160.1 192.4L159.2 192.8L161.7 193.3L157.2 193.7L156.2 194.2L159.4 194.6L158.9 195.1L159.3 195.5L154.7 196.0L158.6 196.4L157.2 196.9L159.4 197.3L153.4 197.8L156.0 198.2L154.8 198.7L152.1 199.1L153.6 199.6L156.8 200.0L153.6 200.5L152.9 200.9L155.6 201.4L155.6 201.8L155.4 202.3L151.9 202.7L153.0 203.2L154.7 203.6L151.4 204.1L150.9 204.5L153.3 205.0L154.2 205.4L149.1 205.9L146.2 206.3L147.7 206.8L147.9 207.2L148.9 207.7L149.6 208.1L147.8 208.6L146.3 209.0L147.2 209.5L144.9 209.9L145.8 210.4L144.3 210.8L149.1 211.3L145.6 211.7L142.5 212.2L141.7 212.6L142.0 213.1L139.6 213.5L140.4 214.0L139.8 214.4L141.7 214.9L139.1 215.3L137.9 215.8L136.4 216.2L136.0 216.7L136.9 217.1L135.9 217.6L137.0 218.0L133.7 218.5L135.2 218.9L133.2 219.4L131.8 219.8L128.1 220.3L128.0 220.7L129.6 221.2L129.3 221.6L126.6 222.1L126.1 222.5L123.3 223.0L122.0 223.4L120.3 223.9L121.0 224.3L118.8 224.8L116.7 225.2L115.1 225.7L114.7 226.1L112.9 226.6L110.0 227.0L111.4 227.5L108.1 227.9L106.3 228.4L106.2 228.8L103.9 229.3L100.9 229.7L99.6 230.2L95.9 230.6L94.3 231.1L90.5 231.5L91.9 232.0L86.6 232.4L87.0 232.9L83.4 233.3L81.1 233.8L79.8 234.2L78.1 234.7L76.4 235.1L75.5 235.6L72.2 236.0L70.6 236.5L67.2 236.9L66.0 237.4L63.3 237.8L60.5 238.3L58.2 238.7L55.5 239.2L52.7 239.6L49.3 240.1L44.6 240.5L39.2 241.0" fill="none" stroke="#3a44b0" stroke-width="1.6" stroke-opacity="1.0" stroke-dasharray="1.1 1.5" clip-path="url(#ca)"/>
<path d="M121.0 20.1L115.2 20.4L117.9 20.7L123.3 21.0L113.1 21.3L118.0 21.6L121.4 21.9L115.8 22.2L126.1 22.5L113.7 22.8L123.4 23.1L123.8 23.4L122.3 23.7L119.6 24.0L121.0 24.3L118.0 24.6L122.2 24.9L117.6 25.2L119.7 25.5L122.9 25.8L117.8 26.1L119.7 26.4L121.1 26.7L117.6 27.0L123.7 27.3L121.8 27.6L117.5 27.9L121.1 28.2L119.5 28.5L119.9 28.8L121.8 29.1L120.1 29.4L124.3 29.7L120.4 30.0L124.6 30.3L122.3 30.6L124.6 30.9L121.4 31.2L121.6 31.5L120.2 31.8L124.6 32.1L125.6 32.4L128.7 32.7L126.8 33.0L124.5 33.3L123.6 33.6L125.2 33.9L124.4 34.2L128.2 34.5L127.1 34.8L123.0 35.1L123.5 35.4L128.7 35.7L126.3 36.0L125.1 36.3L128.8 36.6L125.1 36.9L125.6 37.2L125.3 37.5L121.8 37.8L128.9 38.1L124.0 38.4L125.8 38.7L125.5 39.0L129.2 39.3L127.5 39.6L127.8 39.9L123.9 40.2L127.9 40.5L124.7 40.8L129.2 41.1L129.4 41.4L128.7 41.7L133.8 42.0L130.3 42.3L130.6 42.6L129.6 42.9L128.9 43.2L131.8 43.5L132.3 43.8L126.6 44.1L132.5 44.4L131.3 44.7L132.5 45.0L131.4 45.3L127.3 45.6L127.6 45.9L135.1 46.2L131.4 46.5L127.4 46.8L131.8 47.1L130.2 47.4L126.7 47.7L125.8 48.0L127.6 48.3L132.3 48.6L131.6 48.9L131.2 49.2L132.6 49.5L133.5 49.8L127.0 50.1L131.6 50.4L130.4 50.7L129.5 51.0L131.3 51.3L132.5 51.6L132.2 51.9L129.4 52.2L131.9 52.5L138.2 52.8L130.7 53.1L129.3 53.4L134.2 53.7L135.1 54.0L134.9 54.3L131.1 54.6L136.4 54.9L132.2 55.2L131.4 55.5L132.8 55.8L134.2 56.1L136.3 56.4L136.2 56.7L134.7 57.0L137.2 57.3L135.2 57.6L137.3 57.9L131.8 58.2L131.5 58.5L137.4 58.8L132.1 59.1L134.9 59.4L135.5 59.7L134.7 60.0L134.9 60.3L139.5 60.6L130.0 60.9L138.5 61.2L142.1 61.5L136.6 61.8L136.6 62.1L138.6 62.4L141.4 62.7L134.1 63.0L137.4 63.3L136.8 63.6L138.8 63.9L137.9 64.2L139.2 64.5L136.7 64.8L138.0 65.1L136.3 65.4L136.4 65.7L137.8 66.0L137.9 66.3L135.5 66.6L142.4 66.9L138.3 67.2L135.3 67.5L141.6 67.8L137.1 68.1L140.3 68.4L139.2 68.7L139.9 69.0L139.9 69.3L138.1 69.6L139.8 69.9L144.8 70.2L134.3 70.5L140.2 70.8L141.2 71.1L137.6 71.4L136.9 71.7L145.8 72.0L139.6 72.3L145.8 72.6L142.1 72.9L141.1 73.2L142.2 73.5L142.7 73.8L144.2 74.1L142.4 74.4L141.8 74.7L142.0 75.0L145.1 75.3L143.8 75.6L139.4 75.9L140.5 76.2L143.0 76.5L140.7 76.8L141.4 77.1L140.1 77.4L142.0 77.7L143.8 78.0L145.3 78.3L143.0 78.6L148.2 78.9L143.0 79.2L151.3 79.5L145.9 79.8L144.8 80.1L142.4 80.4L136.7 80.7L143.5 81.0L144.4 81.3L148.9 81.6L140.8 81.9L149.1 82.2L143.8 82.5L146.4 82.8L138.3 83.1L145.1 83.4L144.1 83.7L146.7 84.0L145.4 84.3L142.4 84.6L147.8 84.9L147.2 85.2L147.1 85.5L148.3 85.8L148.6 86.1L145.9 86.4L142.7 86.7L142.8 87.0L149.7 87.3L148.3 87.6L146.8 87.9L145.6 88.2L146.9 88.5L147.0 88.8L146.2 89.1L145.4 89.4L152.8 89.7L148.0 90.0L146.0 90.3L144.4 90.6L146.0 90.9L149.7 91.2L150.0 91.5L147.6 91.8L148.4 92.1L147.7 92.4L145.8 92.7L152.0 93.0L149.7 93.3L155.2 93.6L147.1 93.9L148.8 94.2L151.5 94.5L148.8 94.8L146.0 95.1L147.3 95.4L150.0 95.7L150.8 96.0L149.8 96.3L152.7 96.6L152.8 96.9L151.2 97.2L150.6 97.5L150.0 97.8L152.2 98.1L153.2 98.4L151.2 98.7L152.3 99.0L150.4 99.3L147.8 99.6L149.0 99.9L153.6 100.2L152.9 100.5L155.9 100.8L152.1 101.1L154.3 101.4L155.6 101.7L154.9 102.0L150.9 102.3L152.1 102.6L153.0 102.9L150.3 103.2L154.2 103.5L155.7 103.8L152.0 104.1L158.3 104.4L152.7 104.7L153.0 105.0L153.0 105.3L152.0 105.6L155.0 105.9L154.1 106.2L158.4 106.5L155.8 106.8L155.7 107.1L153.9 107.4L151.0 107.7L154.5 108.0L152.7 108.3L157.4 108.6L155.0 108.9L159.5 109.2L157.2 109.5L157.6 109.8L156.1 110.1L156.2 110.4L157.5 110.7L158.3 111.0L154.2 111.3L157.4 111.6L163.0 111.9L156.2 112.2L155.8 112.5L154.8 112.8L153.0 113.1L159.9 113.4L157.1 113.7L157.9 114.0L162.0 114.3L163.8 114.6L155.2 114.9L160.3 115.2L159.3 115.5L158.8 115.8L159.1 116.1L158.0 116.4L162.2 116.7L159.8 117.0L159.3 117.3L161.7 117.6L160.9 117.9L159.9 118.2L159.7 118.5L163.5 118.8L160.4 119.1L158.9 119.4L157.1 119.7L158.5 120.0L156.8 120.3L159.9 120.6L160.4 120.9L154.5 121.2L160.0 121.5L161.7 121.8L160.6 122.1L157.8 122.4L163.7 122.7L158.7 123.0L157.4 123.3L157.9 123.6L160.8 123.9L163.5 124.2L164.1 124.5L161.7 124.8L158.1 125.1L159.6 125.4L159.1 125.7L161.1 126.0L157.0 126.3L162.0 126.6L163.5 126.9L161.6 127.2L163.2 127.5L159.7 127.8L158.5 128.1L160.7 128.4L165.5 128.7L165.2 129.0L161.5 129.3L165.9 129.6L162.0 129.9L166.9 130.2L164.3 130.5L162.0 130.8L165.3 131.1L161.4 131.4L161.1 131.7L159.8 132.0L164.4 132.3L163.7 132.6L163.7 132.9L162.9 133.2L167.8 133.5L163.1 133.8L162.4 134.1L167.6 134.4L168.2 134.7L165.5 135.0L160.2 135.3L163.2 135.6L166.5 135.9L165.0 136.2L169.1 136.5L161.7 136.8L167.0 137.1L163.8 137.4L168.9 137.7L165.4 138.0L168.3 138.3L164.1 138.6L162.2 138.9L163.1 139.2L164.5 139.5L163.5 139.8L169.3 140.1L169.7 140.4L167.1 140.7L163.8 141.0L166.2 141.3L164.9 141.6L170.4 141.9L167.6 142.2L168.1 142.5L165.9 142.8L161.9 143.1L165.2 143.4L164.4 143.7L168.2 144.0L167.6 144.3L165.4 144.6L166.5 144.9L171.6 145.2L165.2 145.5L165.4 145.8L167.2 146.1L166.1 146.4L166.9 146.7L169.4 147.0L172.5 147.3L163.6 147.6L168.2 147.9L168.4 148.2L168.2 148.5L168.0 148.8L167.7 149.1L171.2 149.4L167.5 149.7L168.5 150.0L168.9 150.3L169.2 150.6L168.6 150.9L171.6 151.2L169.1 151.5L169.6 151.8L169.1 152.1L166.8 152.4L167.3 152.7L166.8 153.0L169.9 153.3L167.7 153.6L166.8 153.9L170.2 154.2L170.9 154.5L165.1 154.8L173.9 155.1L169.7 155.4L169.3 155.7L172.3 156.0L169.8 156.3L168.1 156.6L175.1 156.9L166.9 157.2L169.4 157.5L171.7 157.8L166.9 158.1L169.3 158.4L170.6 158.7L175.6 159.0L167.3 159.3L169.5 159.6L171.2 159.9L169.8 160.2L166.6 160.5L170.6 160.8L169.8 161.1L170.7 161.4L172.4 161.7L172.1 162.0L170.6 162.3L170.3 162.6L166.8 162.9L169.2 163.2L170.1 163.5L168.5 163.8L169.8 164.1L167.5 164.4L173.4 164.7L174.9 165.0L168.6 165.3L170.5 165.6L168.9 165.9L172.7 166.2L170.6 166.5L169.7 166.8L169.0 167.1L169.8 167.4L167.0 167.7L171.2 168.0L167.7 168.3L170.8 168.6L169.8 168.9L172.2 169.2L169.4 169.5L172.0 169.8L167.1 170.1L170.9 170.4L168.8 170.7L169.8 171.0L169.5 171.3L171.6 171.6L164.4 171.9L170.0 172.2L165.6 172.5L172.1 172.8L164.4 173.1L166.7 173.4L165.1 173.7L172.9 174.0L165.9 174.3L169.2 174.6L167.6 174.9L164.6 175.2L168.0 175.5L170.3 175.8L168.3 176.1L170.9 176.4L167.8 176.7L168.6 177.0L167.6 177.3L169.2 177.6L172.8 177.9L169.2 178.2L168.7 178.5L166.8 178.8L166.4 179.1L171.4 179.4L165.5 179.7L165.9 180.0L167.6 180.3L166.8 180.6L172.1 180.9L162.3 181.2L168.4 181.5L169.1 181.8L164.9 182.1L165.9 182.4L168.2 182.7L170.8 183.0L165.0 183.3L163.4 183.6L168.9 183.9L169.9 184.2L165.7 184.5L161.4 184.8L169.1 185.1L165.3 185.4L167.9 185.7L165.2 186.0L164.2 186.3L163.8 186.6L167.6 186.9L167.2 187.2L159.3 187.5L161.6 187.8L167.0 188.1L162.1 188.4L159.7 188.7L162.3 189.0L161.7 189.3L161.4 189.6L160.3 189.9L160.3 190.2L159.7 190.5L161.0 190.8L158.4 191.1L159.1 191.4L159.1 191.7L161.8 192.0L159.6 192.3L158.3 192.6L159.3 192.9L158.8 193.2L159.9 193.5L158.5 193.8L160.8 194.1L159.7 194.4L156.7 194.7L155.8 195.0L158.2 195.3L157.3 195.6L155.9 195.9L153.1 196.2L152.3 196.5L156.3 196.8L156.9 197.1L156.8 197.4L152.7 197.7L157.0 198.0L153.9 198.3L155.5 198.6L155.4 198.9L153.0 199.2L153.2 199.5L150.4 199.8L152.4 200.1L150.6 200.4L154.5 200.7L153.7 201.0L155.1 201.3L153.9 201.6L152.0 201.9L153.5 202.2L152.0 202.5L153.6 202.8L152.9 203.1L150.4 203.4L151.9 203.7L151.7 204.0L150.8 204.3L152.6 204.6L153.7 204.9L149.9 205.2L149.6 205.5" fill="none" stroke="#2b36a8" stroke-width="1.5" stroke-opacity="1.0" stroke-linejoin="round" clip-path="url(#ca)"/>
<path d="M146.6 205.2L149.9 205.5L149.0 205.8L145.8 206.1L149.6 206.4L149.7 206.7L147.1 207.0L147.4 207.3L146.1 207.6L148.5 207.9L144.4 208.2L146.1 208.5L149.4 208.8L145.9 209.1L146.3 209.4L144.9 209.7L142.9 210.0L144.4 210.3L144.7 210.6L142.1 210.9L143.9 211.2L144.9 211.5L144.3 211.8L139.8 212.1L140.4 212.4L139.0 212.7L142.7 213.0L141.6 213.3L141.3 213.6L138.6 213.9L137.7 214.2L139.1 214.5L138.7 214.8L136.9 215.1L137.8 215.4L138.1 215.7L137.0 216.0L134.7 216.3L132.7 216.6L134.7 216.9L134.8 217.2L133.6 217.5L132.8 217.8L131.8 218.1L133.1 218.4L131.4 218.7L130.9 219.0L128.7 219.3L128.5 219.6L128.8 219.9L126.5 220.2L125.4 220.5L125.8 220.8L126.9 221.1L124.8 221.4L125.6 221.7L122.7 222.0L121.6 222.3L119.3 222.6L119.4 222.9L121.0 223.2L118.7 223.5L118.2 223.8L117.2 224.1L115.4 224.4L114.2 224.7L113.6 225.0L113.2 225.3L111.9 225.6L110.9 225.9L109.5 226.2L107.4 226.5L106.9 226.8L105.1 227.1L106.2 227.4L101.6 227.7L102.5 228.0L104.1 228.3L99.8 228.6L97.7 228.9L97.5 229.2L97.5 229.5L94.6 229.8L94.0 230.1L92.1 230.4L90.1 230.7L92.3 231.0L87.7 231.3L85.7 231.6L84.3 231.9L83.7 232.2L82.3 232.5L81.2 232.8L79.2 233.1L76.4 233.4L76.9 233.7L74.8 234.0L73.5 234.3L71.0 234.6L70.5 234.9L69.0 235.2L68.2 235.5L65.7 235.8L65.4 236.1L63.9 236.4L61.5 236.7L60.2 237.0L58.4 237.3L57.6 237.6L54.1 237.9L53.2 238.2L50.6 238.5L48.7 238.8L46.3 239.1L42.5 239.4L39.1 239.7L35.2 240.0" fill="none" stroke="#2b36a8" stroke-width="2.1" stroke-opacity="1.0" stroke-linejoin="round" clip-path="url(#ca)"/>
<path d="M79.3 20.1L74.9 20.4L75.9 20.7L65.1 21.0L66.2 21.3L76.1 21.6L70.5 21.9L70.4 22.2L73.1 22.5L66.2 22.8L75.3 23.1L72.1 23.4L74.2 23.7L69.3 24.0L74.5 24.3L69.4 24.6L76.7 24.9L77.5 25.2L76.7 25.5L75.1 25.8L75.7 26.1L61.4 26.4L76.7 26.7L72.1 27.0L73.8 27.3L72.3 27.6L67.7 27.9L71.4 28.2L76.6 28.5L79.9 28.8L71.4 29.1L70.3 29.4L80.3 29.7L70.6 30.0L83.1 30.3L74.7 30.6L71.0 30.9L78.8 31.2L81.9 31.5L69.1 31.8L81.5 32.1L74.1 32.4L81.4 32.7L73.9 33.0L69.1 33.3L77.7 33.6L79.6 33.9L84.4 34.2L83.0 34.5L79.0 34.8L75.3 35.1L74.3 35.4L75.4 35.7L73.4 36.0L75.7 36.3L66.8 36.6L77.7 36.9L77.0 37.2L87.4 37.5L80.4 37.8L75.6 38.1L79.9 38.4L73.0 38.7L75.5 39.0L70.8 39.3L83.7 39.6L80.5 39.9L73.8 40.2L78.2 40.5L82.2 40.8L80.6 41.1L80.3 41.4L75.7 41.7L76.6 42.0L79.5 42.3L82.7 42.6L76.2 42.9L75.2 43.2L83.8 43.5L76.1 43.8L83.8 44.1L80.7 44.4L83.2 44.7L86.5 45.0L82.7 45.3L83.1 45.6L76.9 45.9L77.8 46.2L82.8 46.5L86.2 46.8L85.8 47.1L89.2 47.4L82.0 47.7L81.7 48.0L84.7 48.3L81.2 48.6L81.0 48.9L77.5 49.2L84.9 49.5L77.6 49.8L83.4 50.1L76.5 50.4L85.7 50.7L78.1 51.0L84.9 51.3L76.3 51.6L80.5 51.9L86.4 52.2L79.4 52.5L82.6 52.8L80.8 53.1L74.5 53.4L83.8 53.7L84.3 54.0L79.0 54.3L85.0 54.6L80.4 54.9L79.8 55.2L83.4 55.5L81.1 55.8L91.5 56.1L78.4 56.4L86.4 56.7L87.4 57.0L77.3 57.3L78.3 57.6L86.3 57.9L82.9 58.2L85.9 58.5L88.6 58.8L83.6 59.1L81.4 59.4L76.0 59.7L86.0 60.0L82.3 60.3L86.6 60.6L86.5 60.9L81.2 61.2L91.7 61.5L89.7 61.8L89.1 62.1L82.5 62.4L85.2 62.7L84.9 63.0L85.5 63.3L83.3 63.6L88.5 63.9L88.0 64.2L88.6 64.5L85.8 64.8L91.9 65.1L88.4 65.4L78.9 65.7L85.9 66.0L88.0 66.3L91.4 66.6L87.4 66.9L87.7 67.2L86.5 67.5L91.0 67.8L87.4 68.1L87.1 68.4L86.7 68.7L91.1 69.0L87.6 69.3L84.1 69.6L91.6 69.9L87.5 70.2L91.0 70.5L91.2 70.8L94.0 71.1L93.6 71.4L88.5 71.7L89.9 72.0L86.4 72.3L96.1 72.6L92.2 72.9L95.4 73.2L90.0 73.5L84.5 73.8L96.2 74.1L91.7 74.4L91.9 74.7L91.8 75.0L93.8 75.3L93.5 75.6L86.8 75.9L95.5 76.2L90.5 76.5L90.8 76.8L97.9 77.1L95.4 77.4L91.5 77.7L86.8 78.0L93.4 78.3L94.7 78.6L92.8 78.9L89.2 79.2L90.8 79.5L89.4 79.8L94.2 80.1L96.2 80.4L97.0 80.7L91.6 81.0L94.7 81.3L95.9 81.6L92.6 81.9L93.9 82.2L101.2 82.5L95.2 82.8L97.5 83.1L93.4 83.4L95.0 83.7L89.6 84.0L95.1 84.3L99.0 84.6L102.0 84.9L99.3 85.2L97.8 85.5L95.9 85.8L93.9 86.1L95.4 86.4L98.0 86.7L93.7 87.0L99.2 87.3L93.3 87.6L90.9 87.9L93.4 88.2L91.5 88.5L92.5 88.8L100.4 89.1L96.4 89.4L97.8 89.7L100.8 90.0L101.3 90.3L95.9 90.6L101.7 90.9L98.9 91.2L97.8 91.5L99.3 91.8L93.6 92.1L95.7 92.4L97.9 92.7L100.3 93.0L97.4 93.3L98.3 93.6L101.8 93.9L103.3 94.2L101.4 94.5L103.1 94.8L98.1 95.1L98.5 95.4L100.6 95.7L98.8 96.0L98.3 96.3L105.1 96.6L99.6 96.9L97.4 97.2L102.0 97.5L106.3 97.8L101.2 98.1L104.9 98.4L100.0 98.7L100.0 99.0L99.6 99.3L101.5 99.6L107.7 99.9L98.9 100.2L107.6 100.5L99.8 100.8L102.3 101.1L105.8 101.4L105.4 101.7L104.6 102.0L99.0 102.3L105.3 102.6L101.3 102.9L112.4 103.2L104.2 103.5L105.7 103.8L101.9 104.1L104.1 104.4L101.9 104.7L108.9 105.0L105.4 105.3L108.1 105.6L104.5 105.9L105.3 106.2L110.8 106.5L104.2 106.8L101.9 107.1L108.7 107.4L104.2 107.7L106.5 108.0L110.7 108.3L105.7 108.6L111.0 108.9L106.5 109.2L113.2 109.5L112.8 109.8L107.6 110.1L108.5 110.4L106.9 110.7L110.1 111.0L113.1 111.3L105.5 111.6L112.7 111.9L106.2 112.2L107.7 112.5L105.1 112.8L116.9 113.1L110.9 113.4L111.7 113.7L109.0 114.0L114.4 114.3L105.1 114.6L111.6 114.9L118.3 115.2L110.7 115.5L112.0 115.8L114.1 116.1L109.8 116.4L112.5 116.7L115.5 117.0L113.3 117.3L114.0 117.6L112.0 117.9L114.1 118.2L113.5 118.5L117.8 118.8L115.8 119.1L113.0 119.4L106.6 119.7L116.2 120.0L116.5 120.3L111.6 120.6L108.5 120.9L111.2 121.2L117.6 121.5L111.7 121.8L113.7 122.1L115.9 122.4L119.1 122.7L115.5 123.0L115.4 123.3L114.2 123.6L120.9 123.9L119.3 124.2L116.0 124.5L112.2 124.8L114.2 125.1L118.5 125.4L114.7 125.7L119.7 126.0L118.3 126.3L118.2 126.6L119.5 126.9L119.2 127.2L115.3 127.5L117.0 127.8L125.1 128.1L114.7 128.4L117.0 128.7L121.8 129.0L118.3 129.3L116.5 129.6L115.1 129.9L120.8 130.2L122.4 130.5L123.7 130.8L119.9 131.1L123.0 131.4L117.0 131.7L120.7 132.0L118.3 132.3L121.0 132.6L122.9 132.9L124.0 133.2L118.0 133.5L124.9 133.8L119.9 134.1L118.4 134.4L121.1 134.7L117.4 135.0L121.9 135.3L122.9 135.6L121.6 135.9L123.9 136.2L121.6 136.5L122.7 136.8L118.6 137.1L123.1 137.4L120.6 137.7L122.0 138.0L123.2 138.3L124.2 138.6L118.9 138.9L119.3 139.2L123.2 139.5L125.6 139.8L125.5 140.1L127.2 140.4L128.5 140.7L126.3 141.0L125.0 141.3L122.2 141.6L122.6 141.9L124.1 142.2L126.5 142.5L126.5 142.8L126.0 143.1L125.7 143.4L128.1 143.7L127.1 144.0L127.5 144.3L127.7 144.6L125.4 144.9L124.1 145.2L128.7 145.5L128.6 145.8L126.9 146.1L126.5 146.4L134.5 146.7L125.9 147.0L127.6 147.3L129.2 147.6L125.2 147.9L129.0 148.2L134.1 148.5L131.7 148.8L131.0 149.1L131.1 149.4L129.8 149.7L132.4 150.0L129.4 150.3L128.8 150.6L130.5 150.9L132.9 151.2L131.4 151.5L132.6 151.8L125.0 152.1L134.4 152.4L137.9 152.7L135.1 153.0L130.5 153.3L129.2 153.6L132.6 153.9L129.1 154.2L134.2 154.5L130.8 154.8L135.2 155.1L136.5 155.4L126.9 155.7L133.8 156.0L131.1 156.3L129.2 156.6L131.6 156.9L132.9 157.2L136.7 157.5L129.6 157.8L137.1 158.1L140.0 158.4L136.1 158.7L136.1 159.0L134.7 159.3L131.6 159.6L136.6 159.9L136.3 160.2L137.5 160.5L142.8 160.8L137.8 161.1L137.1 161.4L140.5 161.7L132.4 162.0L133.1 162.3L135.5 162.6L134.9 162.9L138.8 163.2L136.2 163.5L142.1 163.8L141.7 164.1L139.7 164.4L136.6 164.7L139.6 165.0L140.3 165.3L135.2 165.6L139.4 165.9L140.5 166.2L139.3 166.5L143.3 166.8L142.5 167.1L136.9 167.4L139.8 167.7L137.2 168.0L141.4 168.3L137.5 168.6L142.7 168.9L141.3 169.2L143.1 169.5L140.2 169.8L136.7 170.1L145.8 170.4L140.6 170.7L145.1 171.0L142.6 171.3L143.5 171.6L146.8 171.9L142.9 172.2L146.0 172.5L138.2 172.8L144.8 173.1L141.9 173.4L142.4 173.7L143.0 174.0L144.1 174.3L147.8 174.6L138.4 174.9L143.7 175.2L141.8 175.5L147.1 175.8L143.0 176.1L145.5 176.4L143.4 176.7L146.4 177.0L147.6 177.3L143.9 177.6L145.3 177.9L141.5 178.2L146.3 178.5L148.0 178.8L144.3 179.1L149.0 179.4L140.6 179.7L141.4 180.0L142.8 180.3L145.4 180.6L146.9 180.9L146.8 181.2L147.0 181.5L149.3 181.8L146.3 182.1L144.3 182.4L144.6 182.7L153.7 183.0L142.0 183.3L147.9 183.6L152.4 183.9L150.0 184.2L146.7 184.5L149.1 184.8L151.6 185.1L152.6 185.4L147.3 185.7L151.8 186.0L150.6 186.3L153.1 186.6L154.0 186.9L149.6 187.2L146.9 187.5L151.9 187.8L155.7 188.1L153.0 188.4L152.0 188.7L157.8 189.0L149.1 189.3L154.3 189.6L150.7 189.9L152.4 190.2L152.7 190.5L156.6 190.8L150.5 191.1L151.7 191.4L149.1 191.7L154.7 192.0L152.4 192.3L154.9 192.6L151.2 192.9L153.3 193.2L157.0 193.5L154.1 193.8L156.3 194.1L156.3 194.4L154.2 194.7L151.4 195.0L158.0 195.3L156.1 195.6L158.4 195.9L151.0 196.2L152.1 196.5L151.1 196.8L154.5 197.1L159.5 197.4L158.5 197.7L157.2 198.0L157.8 198.3L159.6 198.6L157.2 198.9L159.1 199.2L158.7 199.5L153.1 199.8L157.8 200.1L162.4 200.4L158.2 200.7L159.1 201.0L158.1 201.3L158.7 201.6L162.9 201.9L159.6 202.2L158.0 202.5L153.1 202.8L159.6 203.1L156.4 203.4L156.9 203.7L163.6 204.0L163.6 204.3L157.4 204.6L164.4 204.9L163.7 205.2L160.9 205.5L164.8 205.8L159.3 206.1L160.5 206.4L160.2 206.7L161.2 207.0L166.3 207.3L161.1 207.6L161.8 207.9L162.5 208.2L165.5 208.5L164.4 208.8L167.5 209.1L164.0 209.4L162.8 209.7" fill="none" stroke="#dc2a2a" stroke-width="1.6" stroke-opacity="1.0" stroke-linejoin="round" clip-path="url(#ca)"/>
<path d="M164.5 209.4L166.0 209.7L163.9 210.0L167.0 210.3L170.9 210.6L165.4 210.9L167.1 211.2L170.4 211.5L165.8 211.8L165.6 212.1L165.2 212.4L168.9 212.7L169.4 213.0L168.1 213.3L168.7 213.6L171.8 213.9L171.1 214.2L166.0 214.5L169.4 214.8L169.9 215.1L171.6 215.4L169.6 215.7L168.8 216.0L169.4 216.3L166.6 216.6L170.8 216.9L169.7 217.2L172.4 217.5L169.2 217.8L170.7 218.1L169.7 218.4L169.7 218.7L173.9 219.0L171.5 219.3L173.8 219.6L170.4 219.9L173.4 220.2L169.5 220.5L172.5 220.8L172.6 221.1L175.3 221.4L174.6 221.7L174.0 222.0L176.5 222.3L175.2 222.6L176.2 222.9L176.9 223.2L175.3 223.5L175.0 223.8L176.6 224.1L175.1 224.4L177.1 224.7L178.9 225.0L178.5 225.3L176.0 225.6L174.2 225.9L177.2 226.2L177.2 226.5L180.1 226.8L177.1 227.1L177.6 227.4L179.9 227.7L177.5 228.0L178.4 228.3L182.7 228.6L182.4 228.9L180.7 229.2L180.1 229.5L177.7 229.8L181.2 230.1L180.3 230.4L180.9 230.7L179.5 231.0L180.8 231.3L180.6 231.6L181.9 231.9L184.5 232.2L182.4 232.5L178.3 232.8L180.0 233.1L178.9 233.4L180.8 233.7L183.9 234.0L183.7 234.3L181.8 234.6L183.8 234.9L181.9 235.2L180.7 235.5L181.0 235.8L182.3 236.1L187.3 236.4L181.7 236.7L187.3 237.0L187.7 237.3L184.7 237.6L185.2 237.9L184.2 238.2L185.7 238.5L187.3 238.8L186.1 239.1L188.4 239.4L188.9 239.7L187.4 240.0L187.6 240.3L187.0 240.6L188.0 240.9L185.3 241.2L188.6 241.5L188.4 241.8L186.4 242.1L192.7 242.4L186.6 242.7L187.1 243.0L189.6 243.3L185.4 243.6L187.9 243.9L186.6 244.2L187.9 244.5L189.8 244.8L190.9 245.1L192.7 245.4L192.3 245.7L193.3 246.0L192.3 246.3L190.5 246.6L193.8 246.9L190.9 247.2L190.8 247.5L195.2 247.8L194.0 248.1L193.1 248.4L194.4 248.7L194.9 249.0L190.8 249.3L193.5 249.6L191.6 249.9L194.3 250.2L193.1 250.5L197.2 250.8L195.8 251.1L193.5 251.4L195.3 251.7L193.3 252.0L195.9 252.3L197.1 252.6L196.8 252.9L192.9 253.2L196.2 253.5L198.1 253.8L197.9 254.1L199.8 254.4L195.5 254.7L199.2 255.0L197.3 255.3L199.1 255.6L199.8 255.9L200.6 256.2L198.5 256.5L200.2 256.8L198.0 257.1L197.9 257.4L201.8 257.7L201.0 258.0L198.4 258.3L200.1 258.6L202.0 258.9L205.1 259.2L204.5 259.5L204.3 259.8L199.9 260.1L203.3 260.4L204.6 260.7L204.8 261.0L205.1 261.3L204.3 261.6L208.2 261.9L208.0 262.2L205.5 262.5L204.2 262.8L209.9 263.1L205.6 263.4L209.0 263.7L210.6 264.0L205.8 264.3L208.3 264.6L207.5 264.9L209.3 265.2L209.2 265.5L212.4 265.8L210.3 266.1L209.6 266.4L211.9 266.7L209.7 267.0L209.8 267.3L214.7 267.6L209.6 267.9L210.5 268.2L211.7 268.5L210.1 268.8L208.5 269.1L214.3 269.4L211.4 269.7L212.1 270.0L212.7 270.3L211.9 270.6L212.0 270.9L214.4 271.2L218.5 271.5L215.9 271.8L216.1 272.1L212.6 272.4L215.3 272.7L213.6 273.0L217.2 273.3L215.7 273.6L216.4 273.9L216.4 274.2L215.8 274.5L214.5 274.8L218.3 275.1L215.2 275.4L215.8 275.7L217.5 276.0L217.0 276.3L218.8 276.6L220.3 276.9L219.3 277.2L219.4 277.5L219.3 277.8L220.9 278.1L216.7 278.4L220.5 278.7L218.6 279.0L218.3 279.3L220.6 279.6L220.1 279.9L221.9 280.2L223.0 280.5L217.6 280.8L221.5 281.1L225.0 281.4L223.4 281.7L224.6 282.0L222.6 282.3L220.3 282.6L221.0 282.9L224.2 283.2L224.8 283.5L222.3 283.8L223.2 284.1L224.3 284.4L221.3 284.7L223.7 285.0L227.1 285.3L228.2 285.6L224.8 285.9L228.0 286.2L224.5 286.5L224.3 286.8L222.3 287.1L227.5 287.4L225.6 287.7L230.1 288.0L227.1 288.3L227.1 288.6L224.3 288.9L229.6 289.2L227.0 289.5L227.5 289.8L224.6 290.1L229.6 290.4L229.9 290.7L227.7 291.0L229.0 291.3L229.7 291.6L230.8 291.9L229.8 292.2L232.5 292.5L229.7 292.8L229.4 293.1L229.9 293.4L227.0 293.7L229.9 294.0L232.9 294.3L232.0 294.6L230.7 294.9L232.7 295.2L229.5 295.5L232.4 295.8L233.9 296.1L234.5 296.4L232.6 296.7L235.4 297.0L237.1 297.3L234.1 297.6L236.1 297.9L233.1 298.2L232.8 298.5L236.9 298.8L236.4 299.1L236.9 299.4L236.1 299.7L236.8 300.0L238.8 300.3L240.4 300.6L237.9 300.9L236.1 301.2L240.6 301.5L239.9 301.8L240.3 302.1L239.9 302.4L243.2 302.7L240.3 303.0L241.1 303.3L238.0 303.6L240.1 303.9L240.1 304.2L241.3 304.5L242.0 304.8L240.6 305.1L244.3 305.4L240.6 305.7L241.7 306.0L242.8 306.3L241.0 306.6L243.7 306.9L244.0 307.2L242.9 307.5L246.1 307.8L243.8 308.1L244.2 308.4L242.7 308.7L241.9 309.0L243.5 309.3L244.1 309.6L244.0 309.9L245.8 310.2L241.7 310.5L243.5 310.8L242.7 311.1L247.0 311.4L244.5 311.7L244.6 312.0L243.9 312.3L246.5 312.6L244.8 312.9L245.6 313.2L242.6 313.5L246.8 313.8L245.7 314.1L245.8 314.4L246.7 314.7L244.7 315.0L244.6 315.3L245.7 315.6L245.2 315.9L244.2 316.2L244.4 316.5L243.6 316.8L244.9 317.1L245.0 317.4L243.7 317.7L245.7 318.0L241.4 318.3L242.8 318.6L244.9 318.9L242.1 319.2L240.6 319.5L243.8 319.8L242.5 320.1L240.3 320.4L242.3 320.7L239.9 321.0L239.1 321.3L239.9 321.6L238.9 321.9L237.5 322.2L237.5 322.5L236.0 322.8L236.2 323.1L235.2 323.4L235.0 323.7L232.8 324.0L230.9 324.3L230.0 324.6L230.1 324.9L230.9 325.2L229.3 325.5L227.0 325.8L227.7 326.1L225.0 326.4L226.2 326.7L224.2 327.0L224.5 327.3L223.5 327.6L221.9 327.9L221.6 328.2L219.6 328.5L219.5 328.8L219.5 329.1L220.8 329.4L217.0 329.7L215.2 330.0L213.0 330.3L213.0 330.6L209.3 330.9L208.0 331.2L206.9 331.5L203.7 331.8L203.4 332.1L200.8 332.4L197.3 332.7L194.9 333.0L192.0 333.3L189.5 333.6L188.1 333.9L185.6 334.2L183.0 334.5L180.4 334.8L177.5 335.1L175.5 335.4L172.0 335.7L170.1 336.0L168.0 336.3L165.0 336.6L161.1 336.9L157.9 337.2L155.1 337.5L151.5 337.8L145.8 338.1L141.1 338.4L135.5 338.7L129.6 339.0L122.5 339.3L116.9 339.6L110.9 339.9L106.7 340.2L101.1 340.5L96.1 340.8L91.4 341.1L87.2 341.4L82.4 341.7L77.3 342.0L72.9 342.3L67.6 342.6L62.5 342.9L57.0 343.2L52.0 343.5L48.0 343.8L44.4 344.1L41.7 344.4" fill="none" stroke="#dc2a2a" stroke-width="2.3" stroke-opacity="1.0" stroke-linejoin="round" clip-path="url(#ca)"/>
<path d="M63.1 20.1L55.9 20.4L49.9 20.7L63.3 21.0L47.5 21.3L47.5 21.6L62.9 21.9L62.4 22.2L64.6 22.5L56.5 22.8L49.3 23.1L54.5 23.4L62.0 23.7L52.8 24.0L53.3 24.3L48.6 24.6L50.3 24.9L64.0 25.2L61.4 25.5L50.4 25.8L51.0 26.1L54.6 26.4L62.2 26.7L50.5 27.0L57.4 27.3L47.5 27.6L50.0 27.9L61.5 28.2L64.7 28.5L50.8 28.8L53.5 29.1L64.1 29.4L56.1 29.7L55.1 30.0L62.3 30.3L60.2 30.6L66.3 30.9L64.2 31.2L55.1 31.5L58.1 31.8L58.6 32.1L49.9 32.4L52.5 32.7L65.5 33.0L48.5 33.3L65.7 33.6L61.0 33.9L58.2 34.2L62.7 34.5L62.4 34.8L67.2 35.1L56.6 35.4L57.8 35.7L57.7 36.0L71.7 36.3L65.6 36.6L53.3 36.9L57.2 37.2L54.8 37.5L59.5 37.8L60.9 38.1L74.5 38.4L47.5 38.7L66.2 39.0L62.4 39.3L55.0 39.6L58.6 39.9L56.4 40.2L60.0 40.5L66.2 40.8L49.8 41.1L68.2 41.4L57.3 41.7L69.5 42.0L62.4 42.3L67.8 42.6L63.5 42.9L66.8 43.2L60.2 43.5L54.5 43.8L64.2 44.1L64.5 44.4L73.4 44.7L47.5 45.0L58.7 45.3L66.8 45.6L52.0 45.9L58.6 46.2L73.6 46.5L69.1 46.8L54.5 47.1L69.2 47.4L67.6 47.7L65.1 48.0L62.6 48.3L61.7 48.6L54.7 48.9L57.0 49.2L64.8 49.5L61.1 49.8L71.9 50.1L58.2 50.4L47.5 50.7L58.2 51.0L62.1 51.3L62.7 51.6L60.8 51.9L55.2 52.2L69.7 52.5L56.3 52.8L64.9 53.1L58.7 53.4L53.0 53.7L69.3 54.0L47.5 54.3L55.3 54.6L63.2 54.9L58.4 55.2L65.2 55.5L60.0 55.8L57.9 56.1L73.9 56.4L59.3 56.7L59.7 57.0L54.1 57.3L56.2 57.6L64.8 57.9L64.3 58.2L60.9 58.5L56.6 58.8L65.1 59.1L50.6 59.4L58.9 59.7L59.5 60.0L55.9 60.3L62.0 60.6L57.1 60.9L56.3 61.2L72.1 61.5L65.7 61.8L68.5 62.1L61.6 62.4L67.2 62.7L66.1 63.0L68.7 63.3L75.6 63.6L60.2 63.9L63.1 64.2L61.3 64.5L47.5 64.8L53.5 65.1L61.9 65.4L65.6 65.7L58.5 66.0L68.6 66.3L69.5 66.6L59.7 66.9L70.4 67.2L72.3 67.5L64.9 67.8L56.7 68.1L70.8 68.4L61.5 68.7L60.4 69.0L63.2 69.3L59.6 69.6L68.8 69.9L67.2 70.2L69.7 70.5L66.2 70.8L58.5 71.1L62.1 71.4L68.0 71.7L60.9 72.0L79.5 72.3L62.0 72.6L60.1 72.9L69.8 73.2L67.6 73.5L63.4 73.8L62.4 74.1L66.1 74.4L68.3 74.7L68.0 75.0L62.3 75.3L66.4 75.6L68.6 75.9L68.3 76.2L47.7 76.5L59.6 76.8L60.3 77.1L63.3 77.4L65.6 77.7L69.6 78.0L68.0 78.3L64.2 78.6L65.1 78.9L74.3 79.2L62.0 79.5L66.9 79.8L73.5 80.1L67.3 80.4L55.1 80.7L67.7 81.0L63.9 81.3L65.4 81.6L71.5 81.9L68.6 82.2L65.0 82.5L71.0 82.8L68.8 83.1L67.3 83.4L68.4 83.7L68.3 84.0L65.5 84.3L65.1 84.6L67.7 84.9L63.0 85.2L61.7 85.5L74.6 85.8L67.1 86.1L68.4 86.4L68.1 86.7L69.1 87.0L69.3 87.3L69.7 87.6L65.7 87.9L74.4 88.2L66.6 88.5L75.3 88.8L61.0 89.1L65.4 89.4L75.6 89.7L70.2 90.0L67.8 90.3L73.0 90.6L66.2 90.9L71.8 91.2L60.8 91.5L69.4 91.8L68.6 92.1L74.4 92.4L76.1 92.7L67.9 93.0L79.8 93.3L69.3 93.6L62.4 93.9L60.9 94.2L79.8 94.5L72.1 94.8L69.5 95.1L69.1 95.4L67.5 95.7L79.3 96.0L72.5 96.3L81.5 96.6L72.1 96.9L61.9 97.2L77.2 97.5L71.5 97.8L72.2 98.1L80.8 98.4L72.2 98.7L79.0 99.0L73.6 99.3L70.2 99.6L76.1 99.9L71.0 100.2L79.7 100.5L78.5 100.8L74.4 101.1L77.0 101.4L76.9 101.7L73.1 102.0L78.7 102.3L73.5 102.6L77.6 102.9L70.4 103.2L75.4 103.5L77.0 103.8L71.6 104.1L73.4 104.4L73.1 104.7L79.0 105.0L72.5 105.3L78.0 105.6L83.2 105.9L78.1 106.2L69.3 106.5L77.4 106.8L81.8 107.1L75.9 107.4L82.5 107.7L80.5 108.0L79.8 108.3L76.9 108.6L76.0 108.9L77.3 109.2L79.0 109.5L81.2 109.8L80.9 110.1L77.9 110.4L79.7 110.7L81.3 111.0L72.4 111.3L76.4 111.6L76.4 111.9L79.2 112.2L79.0 112.5L79.2 112.8L76.6 113.1L83.5 113.4L81.9 113.7L73.5 114.0L80.9 114.3L76.0 114.6L88.6 114.9L79.1 115.2L79.5 115.5L81.7 115.8L80.5 116.1L81.2 116.4L88.3 116.7L82.6 117.0L85.3 117.3L86.7 117.6L77.6 117.9L89.2 118.2L85.0 118.5L86.2 118.8L78.4 119.1L85.7 119.4L84.0 119.7L80.0 120.0L92.2 120.3L84.9 120.6L81.5 120.9L83.5 121.2L86.6 121.5L87.6 121.8L85.3 122.1L88.1 122.4L89.3 122.7L77.9 123.0L81.1 123.3L79.3 123.6L83.8 123.9L89.6 124.2L86.3 124.5L79.3 124.8L82.5 125.1L88.2 125.4L81.8 125.7L83.7 126.0L85.5 126.3L76.8 126.6L87.8 126.9L86.1 127.2L87.2 127.5L80.9 127.8L81.9 128.1L82.8 128.4L86.5 128.7L85.9 129.0L86.4 129.3L93.4 129.6L91.6 129.9L83.4 130.2L83.9 130.5L93.8 130.8L85.7 131.1L92.8 131.4L93.9 131.7L85.4 132.0L86.7 132.3L88.3 132.6L84.7 132.9L84.4 133.2L87.0 133.5L92.2 133.8L87.2 134.1L88.4 134.4L87.5 134.7L84.1 135.0L95.7 135.3L80.5 135.6L87.5 135.9L92.5 136.2L84.9 136.5L93.1 136.8L95.8 137.1L87.5 137.4L91.9 137.7L86.8 138.0L93.4 138.3L91.9 138.6L92.5 138.9L97.2 139.2L93.8 139.5L97.4 139.8L94.7 140.1L87.6 140.4L93.5 140.7L94.5 141.0L87.1 141.3L98.0 141.6L93.2 141.9L94.5 142.2L89.7 142.5L93.6 142.8L94.6 143.1L92.3 143.4L94.0 143.7L85.6 144.0L99.2 144.3L89.8 144.6L85.8 144.9L90.6 145.2L91.2 145.5L96.6 145.8L91.2 146.1L95.9 146.4L91.2 146.7L103.4 147.0L97.2 147.3L102.7 147.6L91.6 147.9L98.0 148.2L92.1 148.5L98.0 148.8L98.5 149.1L90.1 149.4L91.9 149.7L92.0 150.0L90.9 150.3L93.9 150.6L93.2 150.9L91.6 151.2L97.4 151.5L99.2 151.8L92.5 152.1L95.5 152.4L97.7 152.7L97.0 153.0L95.4 153.3L101.1 153.6L101.4 153.9L101.0 154.2L97.9 154.5L106.0 154.8L105.3 155.1L97.6 155.4L98.8 155.7L103.7 156.0L96.7 156.3L101.2 156.6L100.1 156.9L97.5 157.2L99.4 157.5L94.7 157.8L98.6 158.1L93.5 158.4L109.0 158.7L106.3 159.0L105.5 159.3L102.3 159.6L105.0 159.9L106.1 160.2L105.3 160.5L105.1 160.8L98.8 161.1L103.7 161.4L100.4 161.7L98.3 162.0L98.5 162.3L104.2 162.6L106.5 162.9L98.1 163.2L109.1 163.5L108.3 163.8L102.0 164.1L101.8 164.4L103.3 164.7L107.0 165.0L102.5 165.3L100.1 165.6L105.2 165.9L97.1 166.2L104.8 166.5L108.4 166.8L105.6 167.1L107.4 167.4L106.6 167.7L107.5 168.0L105.7 168.3L102.6 168.6L104.8 168.9L105.6 169.2L110.3 169.5L111.7 169.8L107.8 170.1L104.1 170.4L104.4 170.7L106.4 171.0L112.0 171.3L108.7 171.6L107.6 171.9L105.4 172.2L111.2 172.5L109.4 172.8L108.5 173.1L109.3 173.4L114.9 173.7L108.9 174.0L115.3 174.3L114.1 174.6L110.3 174.9L113.3 175.2L110.2 175.5L108.0 175.8L110.1 176.1L108.2 176.4L113.2 176.7L111.7 177.0L113.8 177.3L114.8 177.6L101.8 177.9L113.5 178.2L106.6 178.5L113.4 178.8L110.0 179.1L113.5 179.4L117.9 179.7L107.8 180.0L114.3 180.3L113.6 180.6L107.7 180.9L116.4 181.2L114.5 181.5L112.9 181.8L112.3 182.1L125.6 182.4L113.8 182.7L109.3 183.0L112.3 183.3L114.4 183.6L114.5 183.9L115.7 184.2L112.6 184.5L118.1 184.8L114.8 185.1L112.1 185.4L114.1 185.7L115.7 186.0L119.9 186.3L118.9 186.6L116.3 186.9L117.7 187.2L118.5 187.5L124.7 187.8L116.1 188.1L119.8 188.4L120.8 188.7L115.4 189.0L119.4 189.3L119.5 189.6L117.5 189.9L121.1 190.2L122.8 190.5L123.3 190.8L119.1 191.1L120.5 191.4L127.8 191.7L116.6 192.0L121.1 192.3L123.4 192.6L121.2 192.9L123.0 193.2L121.6 193.5L123.6 193.8L125.5 194.1L120.8 194.4L122.3 194.7L121.6 195.0L120.6 195.3L122.0 195.6L118.6 195.9L124.9 196.2L128.1 196.5L128.3 196.8L127.1 197.1L119.9 197.4L128.2 197.7L121.1 198.0L123.4 198.3L129.7 198.6L120.4 198.9L126.8 199.2L125.1 199.5L123.9 199.8L121.7 200.1L126.0 200.4L123.3 200.7L128.4 201.0L129.1 201.3L120.9 201.6L123.9 201.9L124.6 202.2L122.0 202.5L122.4 202.8L126.4 203.1L125.6 203.4L121.1 203.7L124.9 204.0L128.5 204.3L123.1 204.6L124.2 204.9L132.4 205.2L131.7 205.5L122.4 205.8L123.5 206.1L129.2 206.4L124.3 206.7L127.5 207.0L127.1 207.3L130.5 207.6L120.7 207.9L122.0 208.2L125.3 208.5L132.6 208.8L129.1 209.1L124.3 209.4L131.5 209.7" fill="none" stroke="#f5a11c" stroke-width="1.7" stroke-opacity="1.0" stroke-linejoin="round" clip-path="url(#ca)"/>
<path d="M132.0 209.4L129.1 209.7L129.1 210.0L131.7 210.3L134.3 210.6L131.1 210.9L132.5 211.2L130.8 211.5L130.0 211.8L128.5 212.1L132.4 212.4L130.8 212.7L131.1 213.0L135.0 213.3L133.8 213.6L135.2 213.9L127.7 214.2L134.6 214.5L131.1 214.8L130.6 215.1L130.7 215.4L137.3 215.7L136.3 216.0L131.7 216.3L130.6 216.6L134.3 216.9L133.0 217.2L139.8 217.5L130.3 217.8L129.4 218.1L134.4 218.4L135.4 218.7L136.0 219.0L138.1 219.3L142.3 219.6L135.1 219.9L134.7 220.2L131.2 220.5L137.5 220.8L139.5 221.1L136.3 221.4L140.9 221.7L137.6 222.0L142.3 222.3L138.9 222.6L134.9 222.9L136.4 223.2L133.9 223.5L133.5 223.8L139.7 224.1L141.7 224.4L145.1 224.7L139.3 225.0L139.0 225.3L136.6 225.6L143.0 225.9L141.5 226.2L138.7 226.5L142.8 226.8L142.6 227.1L135.6 227.4L143.5 227.7L142.0 228.0L140.6 228.3L140.8 228.6L147.3 228.9L146.9 229.2L148.0 229.5L139.5 229.8L141.2 230.1L146.0 230.4L140.0 230.7L141.7 231.0L138.8 231.3L149.6 231.6L147.5 231.9L146.0 232.2L145.6 232.5L144.0 232.8L144.3 233.1L147.4 233.4L143.9 233.7L149.7 234.0L145.0 234.3L144.2 234.6L150.6 234.9L146.7 235.2L149.0 235.5L146.5 235.8L141.6 236.1L149.7 236.4L144.6 236.7L151.7 237.0L144.6 237.3L144.0 237.6L150.3 237.9L150.9 238.2L150.3 238.5L146.9 238.8L153.0 239.1L146.7 239.4L149.8 239.7L149.2 240.0L150.6 240.3L154.2 240.6L150.4 240.9L154.0 241.2L154.6 241.5L148.3 241.8L150.0 242.1L152.5 242.4L152.2 242.7L154.9 243.0L149.1 243.3L156.6 243.6L156.9 243.9L154.7 244.2L151.7 244.5L155.7 244.8L154.5 245.1L157.8 245.4L156.3 245.7L158.8 246.0L155.9 246.3L161.2 246.6L151.5 246.9L155.2 247.2L159.5 247.5L154.4 247.8L160.7 248.1L155.8 248.4L159.5 248.7L157.1 249.0L158.6 249.3L160.5 249.6L160.0 249.9L159.6 250.2L166.5 250.5L161.1 250.8L158.9 251.1L164.1 251.4L164.0 251.7L165.4 252.0L167.1 252.3L160.3 252.6L165.7 252.9L166.2 253.2L163.5 253.5L164.4 253.8L156.3 254.1L162.8 254.4L169.1 254.7L160.2 255.0L163.7 255.3L166.0 255.6L167.0 255.9L169.9 256.2L161.6 256.5L166.4 256.8L168.7 257.1L163.5 257.4L167.0 257.7L172.1 258.0L170.9 258.3L169.2 258.6L161.5 258.9L168.0 259.2L169.6 259.5L168.1 259.8L169.0 260.1L177.1 260.4L169.1 260.7L167.5 261.0L170.7 261.3L169.6 261.6L169.9 261.9L170.7 262.2L173.1 262.5L172.0 262.8L168.7 263.1L171.6 263.4L173.4 263.7L171.3 264.0L175.5 264.3L174.9 264.6L170.8 264.9L174.3 265.2L178.6 265.5L177.8 265.8L174.2 266.1L176.7 266.4L173.2 266.7L171.6 267.0L176.7 267.3L176.2 267.6L177.1 267.9L176.1 268.2L177.2 268.5L175.5 268.8L178.1 269.1L179.2 269.4L177.4 269.7L179.7 270.0L173.9 270.3L176.5 270.6L182.1 270.9L183.1 271.2L179.8 271.5L179.2 271.8L176.8 272.1L180.9 272.4L182.1 272.7L177.1 273.0L182.2 273.3L182.3 273.6L182.5 273.9L179.1 274.2L183.3 274.5L178.8 274.8L186.0 275.1L183.1 275.4L180.4 275.7L186.5 276.0L186.3 276.3L182.5 276.6L189.3 276.9L182.2 277.2L185.5 277.5L187.8 277.8L180.2 278.1L187.9 278.4L185.8 278.7L186.2 279.0L184.0 279.3L187.5 279.6L184.5 279.9L185.1 280.2L186.6 280.5L185.1 280.8L191.7 281.1L185.5 281.4L187.1 281.7L188.3 282.0L189.4 282.3L191.4 282.6L191.8 282.9L189.6 283.2L189.7 283.5L190.9 283.8L192.9 284.1L193.0 284.4L190.6 284.7L187.5 285.0L197.1 285.3L194.7 285.6L193.5 285.9L194.0 286.2L192.4 286.5L191.7 286.8L193.5 287.1L194.1 287.4L193.5 287.7L192.0 288.0L194.8 288.3L197.1 288.6L195.1 288.9L196.6 289.2L192.4 289.5L196.8 289.8L197.3 290.1L195.3 290.4L194.5 290.7L199.5 291.0L197.2 291.3L200.3 291.6L198.8 291.9L201.3 292.2L199.7 292.5L197.6 292.8L201.0 293.1L200.8 293.4L203.3 293.7L201.3 294.0L201.9 294.3L204.9 294.6L205.9 294.9L205.5 295.2L206.5 295.5L205.7 295.8L206.8 296.1L207.5 296.4L207.0 296.7L206.8 297.0L207.4 297.3L212.6 297.6L208.1 297.9L208.1 298.2L208.3 298.5L209.5 298.8L210.6 299.1L208.3 299.4L207.0 299.7L212.3 300.0L208.9 300.3L213.2 300.6L213.5 300.9L216.1 301.2L217.7 301.5L215.6 301.8L214.3 302.1L213.6 302.4L214.9 302.7L217.1 303.0L213.4 303.3L218.3 303.6L218.7 303.9L220.6 304.2L219.1 304.5L220.6 304.8L219.4 305.1L220.5 305.4L218.4 305.7L222.8 306.0L226.2 306.3L223.9 306.6L224.9 306.9L222.7 307.2L228.1 307.5L224.2 307.8L227.9 308.1L227.0 308.4L225.4 308.7L229.9 309.0L228.4 309.3L229.2 309.6L230.2 309.9L229.8 310.2L229.6 310.5L231.7 310.8L230.5 311.1L231.8 311.4L230.9 311.7L229.7 312.0L231.7 312.3L232.5 312.6L234.0 312.9L236.7 313.2L231.5 313.5L235.4 313.8L231.3 314.1L234.0 314.4L235.4 314.7L232.4 315.0L233.6 315.3L237.9 315.6L238.1 315.9L238.1 316.2L237.2 316.5L243.3 316.8L239.2 317.1L238.2 317.4L243.5 317.7L241.8 318.0L240.2 318.3L243.6 318.6L242.0 318.9L243.3 319.2L242.8 319.5L240.8 319.8L245.0 320.1L243.8 320.4L241.9 320.7L242.7 321.0L246.3 321.3L244.1 321.6L245.3 321.9L246.8 322.2L246.1 322.5L243.3 322.8L247.8 323.1L248.7 323.4L248.9 323.7L250.6 324.0L248.6 324.3L249.7 324.6L251.6 324.9L248.4 325.2L252.5 325.5L252.9 325.8L251.4 326.1L253.8 326.4L252.2 326.7L249.4 327.0L253.5 327.3L252.3 327.6L252.8 327.9L252.7 328.2L255.3 328.5L254.1 328.8L252.2 329.1L254.7 329.4L255.5 329.7L253.2 330.0L254.1 330.3L254.6 330.6L254.5 330.9L256.6 331.2L258.2 331.5L260.2 331.8L259.3 332.1L259.4 332.4L260.0 332.7L260.7 333.0L258.0 333.3L260.3 333.6L260.0 333.9L259.6 334.2L259.4 334.5L259.8 334.8L260.6 335.1L259.3 335.4L262.9 335.7L262.3 336.0L263.0 336.3L263.9 336.6L265.0 336.9L263.1 337.2L264.5 337.5L262.3 337.8L261.8 338.1L262.8 338.4L269.5 338.7L264.1 339.0L268.7 339.3L271.0 339.6L268.1 339.9L272.4 340.2L273.3 340.5L272.2 340.8L275.3 341.1L272.8 341.4L270.9 341.7L273.7 342.0L272.5 342.3L271.6 342.6L272.1 342.9L278.9 343.2L274.5 343.5L275.9 343.8L275.2 344.1L277.1 344.4L276.9 344.7L277.1 345.0L276.1 345.3L276.2 345.6L277.8 345.9L280.0 346.2L283.4 346.5L282.0 346.8L283.6 347.1L281.6 347.4L281.0 347.7L279.1 348.0L281.7 348.3L278.3 348.6L281.8 348.9L285.3 349.2L283.4 349.5L285.1 349.8L282.8 350.1L281.4 350.4L283.2 350.7L283.6 351.0L286.6 351.3L288.2 351.6L283.9 351.9L284.8 352.2L285.4 352.5L285.2 352.8L284.0 353.1L286.4 353.4L287.0 353.7L287.2 354.0L284.8 354.3L286.7 354.6L284.2 354.9L288.7 355.2L285.6 355.5L286.9 355.8L286.7 356.1L286.5 356.4L285.7 356.7L284.5 357.0L290.2 357.3L287.7 357.6L287.5 357.9L290.3 358.2L286.5 358.5L287.3 358.8L286.2 359.1L287.8 359.4L286.3 359.7L285.6 360.0L284.4 360.3L284.8 360.6L285.8 360.9L280.3 361.2L282.9 361.5L282.0 361.8L281.8 362.1L278.8 362.4L282.5 362.7L279.8 363.0L280.3 363.3L279.5 363.6L277.4 363.9L278.8 364.2L276.4 364.5L277.2 364.8L277.7 365.1L277.6 365.4L277.2 365.7L276.4 366.0L278.8 366.3L276.0 366.6L273.2 366.9L273.3 367.2L272.5 367.5L272.3 367.8L271.0 368.1L269.7 368.4L271.7 368.7L268.3 369.0L266.0 369.3L263.9 369.6L261.5 369.9L260.5 370.2L256.7 370.5L254.4 370.8L246.9 371.1L247.5 371.4L245.3 371.7L243.4 372.0L238.7 372.3L234.4 372.6L234.1 372.9L230.4 373.2L226.8 373.5L225.3 373.8L224.2 374.1L221.6 374.4L218.3 374.7L213.9 375.0L213.8 375.3L207.4 375.6L204.7 375.9L199.9 376.2L198.2 376.5L193.6 376.8L190.2 377.1L186.1 377.4L182.7 377.7L180.0 378.0L176.1 378.3L175.7 378.6L173.4 378.9L170.4 379.2L168.2 379.5L165.5 379.8L162.8 380.1L158.1 380.4L152.4 380.7L145.5 381.0L137.4 381.3L129.5 381.6L121.1 381.9L111.3 382.2L99.5 382.5L87.1 382.8L75.1 383.1L65.1 383.4L58.7 383.7L54.3 384.0L50.8 384.3L47.5 384.6L47.5 384.9L47.5 385.2" fill="none" stroke="#f5a11c" stroke-width="2.4" stroke-opacity="1.0" stroke-linejoin="round" clip-path="url(#ca)"/>
<path d="M47.5 20.1L47.5 21.0L47.5 22.0L47.5 22.9L52.7 23.9L47.5 24.8L47.5 25.8L47.5 26.7L53.5 27.7L47.5 28.6L47.5 29.6L59.4 30.5L47.5 31.5L47.5 32.4L47.5 33.4L53.8 34.3L67.8 35.3L47.5 36.2L47.5 37.2L63.1 38.1L47.5 39.1L53.1 40.0L47.5 41.0L47.5 41.9L47.5 42.9L47.5 43.8L47.5 44.8L47.5 45.7L47.5 46.7L65.9 47.6L47.5 48.6L47.5 49.5L57.9 50.5L47.5 51.4L47.5 52.4L50.8 53.3L47.5 54.3L52.4 55.2L47.5 56.2L57.8 57.1L47.5 58.1L47.5 59.0L47.5 60.0L47.5 60.9L47.5 61.9L47.5 62.8L47.5 63.8L47.5 64.7L47.5 65.7L47.5 66.6L47.5 67.6L47.5 68.5L68.6 69.5L47.5 70.4L47.5 71.4L57.8 72.3L47.5 73.3L49.8 74.2L61.1 75.2L47.5 76.1L47.5 77.1L47.5 78.0L56.0 79.0L47.5 79.9L47.5 80.9L47.6 81.8L47.5 82.8L65.6 83.7L47.5 84.7L47.5 85.6L68.6 86.6L47.5 87.5L47.5 88.5L47.5 89.4L76.5 90.4L47.5 91.3L47.5 92.3L47.5 93.2L47.5 94.2L55.2 95.1L47.5 96.1L68.7 97.0L64.7 98.0L47.5 98.9L74.0 99.9L47.5 100.8L65.9 101.8L47.5 102.7L71.2 103.7L63.4 104.6L70.2 105.6L60.0 106.5L47.5 107.5L47.5 108.4L81.2 109.4L54.0 110.3L72.4 111.3L65.5 112.2L47.5 113.2L47.5 114.1L47.5 115.1L47.5 116.0L48.2 117.0L68.7 117.9L47.5 118.9L47.5 119.8L47.5 120.8L47.5 121.7L47.5 122.7L47.5 123.6L47.5 124.6L47.5 125.5L61.6 126.5L73.5 127.4L74.5 128.4L76.1 129.3L47.5 130.3L61.4 131.2L47.5 132.2L70.3 133.1L72.4 134.1L59.9 135.0L47.5 136.0L47.5 136.9L47.5 137.9L75.4 138.8L67.8 139.8L47.5 140.7L47.5 141.7L47.5 142.6L70.7 143.6L56.3 144.5L60.8 145.5L47.5 146.4L47.5 147.4L66.6 148.3L76.3 149.3L47.5 150.2L68.0 151.2L47.5 152.1L47.5 153.1L67.9 154.0L83.3 155.0L47.5 155.9L65.2 156.9L70.6 157.8L47.5 158.8L47.5 159.7L71.4 160.7L77.2 161.6L47.5 162.6L47.5 163.5L64.4 164.5L55.3 165.4L75.7 166.4L59.4 167.3L88.5 168.3L70.6 169.2L60.3 170.2L63.8 171.1L57.3 172.1L74.1 173.0L47.5 174.0L67.6 174.9L47.5 175.9L59.6 176.8L74.1 177.8L97.3 178.7L54.7 179.7L85.4 180.6L85.0 181.6L49.5 182.5L54.8 183.5L60.4 184.4L83.6 185.4L67.2 186.3L70.5 187.3L47.5 188.2L74.4 189.2L76.0 190.1L47.5 191.1L87.3 192.0L64.7 193.0L94.4 193.9L70.6 194.9L65.4 195.8L83.0 196.8L81.0 197.7L47.5 198.7L47.5 199.6L60.5 200.6L67.1 201.5L47.5 202.5L67.5 203.4L82.5 204.4L74.1 205.3L102.3 206.3L78.4 207.2L65.9 208.2L67.2 209.1L70.2 210.1L83.0 211.0L82.0 212.0L47.5 212.9L85.3 213.9L85.5 214.8L88.4 215.8L84.0 216.7L89.5 217.7L95.7 218.6L47.5 219.6L83.0 220.5L71.0 221.5L82.2 222.4L94.7 223.4L67.5 224.3L89.7 225.3L100.6 226.2L91.9 227.2L88.0 228.1L116.4 229.1L113.3 230.0L98.8 231.0L113.2 231.9L113.1 232.9L93.1 233.8L124.4 234.8L95.8 235.7L101.5 236.7" fill="none" stroke="#17891a" stroke-width="1.5" stroke-opacity="1.0" stroke-linejoin="round" clip-path="url(#ca)"/>
<path d="M100.6 236.7L110.8 237.0L99.9 237.3L98.1 237.6L88.6 237.9L95.1 238.2L108.3 238.5L124.8 238.8L94.6 239.1L96.2 239.4L105.8 239.7L106.8 240.0L99.0 240.3L104.3 240.6L93.0 240.9L101.9 241.2L109.9 241.5L114.8 241.8L103.0 242.1L102.5 242.4L107.2 242.7L111.4 243.0L107.5 243.3L99.8 243.6L106.8 243.9L110.6 244.2L100.4 244.5L96.7 244.8L108.0 245.1L107.2 245.4L110.8 245.7L105.7 246.0L101.5 246.3L102.8 246.6L99.5 246.9L100.2 247.2L102.5 247.5L103.1 247.8L112.1 248.1L99.2 248.4L105.8 248.7L103.0 249.0L114.3 249.3L107.8 249.6L104.6 249.9L111.0 250.2L107.2 250.5L104.5 250.8L114.9 251.1L110.8 251.4L116.0 251.7L113.3 252.0L111.6 252.3L108.5 252.6L102.7 252.9L111.7 253.2L108.7 253.5L111.9 253.8L108.7 254.1L105.5 254.4L104.2 254.7L112.8 255.0L115.9 255.3L108.3 255.6L112.2 255.9L116.9 256.2L106.3 256.5L108.9 256.8L105.4 257.1L116.8 257.4L112.5 257.7L109.3 258.0L103.7 258.3L111.1 258.6L117.0 258.9L111.0 259.2L110.7 259.5L116.0 259.8L107.3 260.1L113.7 260.4L116.6 260.7L110.3 261.0L110.3 261.3L115.7 261.6L114.3 261.9L113.9 262.2L116.3 262.5L116.6 262.8L111.5 263.1L113.0 263.4L118.5 263.7L122.0 264.0L123.4 264.3L113.2 264.6L122.7 264.9L121.4 265.2L117.9 265.5L120.7 265.8L122.5 266.1L127.3 266.4L114.3 266.7L122.3 267.0L119.1 267.3L119.1 267.6L125.7 267.9L124.4 268.2L116.2 268.5L119.9 268.8L122.5 269.1L115.2 269.4L126.0 269.7L122.0 270.0L123.3 270.3L124.4 270.6L131.4 270.9L123.6 271.2L122.0 271.5L131.9 271.8L121.9 272.1L122.1 272.4L118.4 272.7L130.0 273.0L126.5 273.3L127.7 273.6L126.6 273.9L125.5 274.2L122.8 274.5L123.1 274.8L128.8 275.1L127.7 275.4L134.8 275.7L124.3 276.0L125.8 276.3L123.6 276.6L134.6 276.9L123.2 277.2L132.4 277.5L135.7 277.8L128.9 278.1L133.0 278.4L120.6 278.7L128.6 279.0L123.2 279.3L131.6 279.6L131.2 279.9L128.0 280.2L135.8 280.5L133.5 280.8L129.9 281.1L130.2 281.4L126.3 281.7L132.2 282.0L142.5 282.3L130.5 282.6L135.7 282.9L131.7 283.2L137.9 283.5L136.6 283.8L133.9 284.1L127.5 284.4L133.3 284.7L141.0 285.0L135.0 285.3L139.1 285.6L134.6 285.9L128.9 286.2L139.1 286.5L138.9 286.8L135.3 287.1L136.5 287.4L139.7 287.7L136.2 288.0L140.5 288.3L138.5 288.6L129.6 288.9L139.3 289.2L137.7 289.5L137.0 289.8L142.6 290.1L139.1 290.4L143.8 290.7L146.4 291.0L142.7 291.3L136.0 291.6L139.7 291.9L146.9 292.2L142.4 292.5L140.4 292.8L143.7 293.1L146.6 293.4L145.9 293.7L147.8 294.0L142.1 294.3L144.7 294.6L145.1 294.9L146.4 295.2L138.2 295.5L146.2 295.8L142.0 296.1L153.6 296.4L154.6 296.7L155.4 297.0L152.2 297.3L147.3 297.6L153.5 297.9L149.1 298.2L152.8 298.5L147.0 298.8L148.6 299.1L153.2 299.4L158.9 299.7L151.9 300.0L161.5 300.3L163.9 300.6L147.9 300.9L153.4 301.2L150.0 301.5L153.7 301.8L152.4 302.1L154.7 302.4L159.2 302.7L159.5 303.0L157.2 303.3L156.5 303.6L157.4 303.9L157.8 304.2L160.0 304.5L158.1 304.8L160.5 305.1L153.7 305.4L162.5 305.7L166.7 306.0L160.9 306.3L155.1 306.6L166.4 306.9L160.2 307.2L150.2 307.5L161.6 307.8L165.2 308.1L164.8 308.4L168.7 308.7L166.7 309.0L165.3 309.3L157.6 309.6L161.4 309.9L167.0 310.2L169.4 310.5L163.3 310.8L165.5 311.1L170.2 311.4L161.5 311.7L162.0 312.0L169.1 312.3L171.6 312.6L169.3 312.9L162.9 313.2L172.4 313.5L167.8 313.8L176.0 314.1L173.8 314.4L175.8 314.7L177.9 315.0L174.2 315.3L180.2 315.6L182.7 315.9L180.5 316.2L185.0 316.5L178.6 316.8L185.5 317.1L184.0 317.4L180.3 317.7L184.6 318.0L183.7 318.3L184.3 318.6L187.3 318.9L191.6 319.2L187.0 319.5L189.3 319.8L184.0 320.1L190.4 320.4L194.9 320.7L194.1 321.0L193.4 321.3L190.3 321.6L189.1 321.9L192.9 322.2L188.8 322.5L189.7 322.8L198.2 323.1L191.9 323.4L202.3 323.7L190.9 324.0L198.2 324.3L192.8 324.6L198.2 324.9L194.2 325.2L198.6 325.5L198.3 325.8L197.6 326.1L201.5 326.4L205.6 326.7L198.4 327.0L204.1 327.3L201.6 327.6L201.6 327.9L210.0 328.2L194.7 328.5L200.5 328.8L196.8 329.1L202.6 329.4L203.3 329.7L218.1 330.0L206.1 330.3L211.6 330.6L210.3 330.9L204.5 331.2L208.1 331.5L212.7 331.8L207.9 332.1L208.4 332.4L209.8 332.7L203.2 333.0L206.0 333.3L210.5 333.6L211.6 333.9L206.9 334.2L209.4 334.5L210.6 334.8L210.9 335.1L214.3 335.4L212.7 335.7L213.4 336.0L208.4 336.3L210.1 336.6L215.3 336.9L209.1 337.2L216.0 337.5L213.3 337.8L213.2 338.1L218.6 338.4L214.6 338.7L214.4 339.0L215.5 339.3L218.4 339.6L228.0 339.9L212.0 340.2L219.5 340.5L219.2 340.8L223.7 341.1L219.7 341.4L213.1 341.7L226.2 342.0L218.6 342.3L222.5 342.6L218.6 342.9L220.0 343.2L222.4 343.5L227.3 343.8L227.7 344.1L223.4 344.4L227.5 344.7L225.0 345.0L227.1 345.3L227.7 345.6L229.6 345.9L226.1 346.2L228.1 346.5L229.7 346.8L229.7 347.1L227.3 347.4L235.9 347.7L229.3 348.0L233.6 348.3L232.3 348.6L236.0 348.9L225.6 349.2L239.6 349.5L232.8 349.8L230.0 350.1L234.8 350.4L242.0 350.7L236.9 351.0L231.9 351.3L234.8 351.6L240.9 351.9L232.8 352.2L237.1 352.5L237.2 352.8L245.3 353.1L238.2 353.4L243.6 353.7L237.9 354.0L238.0 354.3L244.1 354.6L243.4 354.9L236.7 355.2L244.4 355.5L244.9 355.8L241.6 356.1L244.6 356.4L245.2 356.7L243.4 357.0L243.6 357.3L243.9 357.6L245.6 357.9L242.9 358.2L247.3 358.5L243.5 358.8L248.7 359.1L248.7 359.4L246.4 359.7L252.5 360.0L256.2 360.3L254.9 360.6L247.5 360.9L255.8 361.2L253.3 361.5L253.0 361.8L252.0 362.1L254.2 362.4L258.8 362.7L256.9 363.0L254.7 363.3L254.5 363.6L255.8 363.9L259.2 364.2L263.4 364.5L255.6 364.8L259.2 365.1L258.6 365.4L258.1 365.7L262.0 366.0L262.9 366.3L258.0 366.6L259.6 366.9L266.4 367.2L264.5 367.5L265.7 367.8L263.4 368.1L264.3 368.4L267.2 368.7L265.1 369.0L264.0 369.3L267.6 369.6L270.6 369.9L265.9 370.2L272.2 370.5L271.8 370.8L268.1 371.1L271.0 371.4L271.5 371.7L273.9 372.0L274.5 372.3L269.8 372.6L270.3 372.9L277.3 373.2L275.4 373.5L276.8 373.8L277.2 374.1L281.0 374.4L274.3 374.7L281.0 375.0L276.5 375.3L281.2 375.6L283.4 375.9L276.9 376.2L282.1 376.5L280.9 376.8L281.4 377.1L282.9 377.4L280.6 377.7L281.4 378.0L286.1 378.3L287.2 378.6L284.1 378.9L282.4 379.2L292.7 379.5L290.1 379.8L288.8 380.1L285.9 380.4L287.6 380.7L290.3 381.0L287.8 381.3L295.0 381.6L291.8 381.9L293.1 382.2L290.0 382.5L290.9 382.8L291.8 383.1L295.1 383.4L294.3 383.7L294.9 384.0L297.0 384.3L297.3 384.6L301.1 384.9L297.4 385.2L295.9 385.5L299.0 385.8L303.3 386.1L298.7 386.4L300.8 386.7L300.3 387.0L302.8 387.3L302.9 387.6L300.7 387.9L302.7 388.2L306.1 388.5L307.0 388.8L307.1 389.1L307.4 389.4L304.8 389.7L305.2 390.0L308.9 390.3L304.0 390.6L307.2 390.9L303.1 391.2L307.2 391.5L306.8 391.8L305.9 392.1L310.7 392.4L307.7 392.7L308.9 393.0L309.5 393.3L308.6 393.6L314.2 393.9L309.7 394.2L311.6 394.5L308.1 394.8L310.4 395.1L311.0 395.4L311.3 395.7L310.8 396.0L312.8 396.3L316.5 396.6L312.6 396.9L312.8 397.2L312.5 397.5L319.9 397.8L318.0 398.1L315.7 398.4L316.3 398.7L313.2 399.0L314.9 399.3L316.1 399.6L316.2 399.9L314.1 400.2L314.7 400.5L318.2 400.8L318.0 401.1L312.4 401.4L318.2 401.7L321.4 402.0L317.1 402.3L319.5 402.6L315.8 402.9L321.7 403.2L317.3 403.5L317.3 403.8L319.8 404.1L326.7 404.4L319.7 404.7L318.5 405.0L322.9 405.3L322.6 405.6L326.4 405.9L319.5 406.2L319.0 406.5L322.4 406.8L324.4 407.1L324.6 407.4L326.6 407.7L320.7 408.0L322.6 408.3L324.6 408.6L327.2 408.9L326.6 409.2L324.7 409.5L323.6 409.8L328.4 410.1L328.8 410.4L333.3 410.7L326.6 411.0L331.1 411.3L324.5 411.6L326.3 411.9L326.1 412.2L326.7 412.5L325.9 412.8L326.7 413.1L328.0 413.4L327.1 413.7L329.7 414.0L327.9 414.3L328.1 414.6L331.5 414.9L328.7 415.2L328.3 415.5L327.8 415.8L327.8 416.1L328.9 416.4L325.6 416.7L330.0 417.0L330.9 417.3L329.8 417.6L325.7 417.9L323.0 418.2L325.6 418.5L326.8 418.8L328.2 419.1L325.7 419.4L325.2 419.7L329.4 420.0L324.1 420.3L327.9 420.6L327.4 420.9L322.2 421.2L325.7 421.5L323.7 421.8L322.7 422.1L320.7 422.4L321.2 422.7L325.4 423.0L323.6 423.3L324.9 423.6L322.0 423.9L323.5 424.2L323.5 424.5L320.8 424.8L320.5 425.1L324.6 425.4L323.9 425.7L321.6 426.0L323.0 426.3L324.3 426.6L326.4 426.9L320.8 427.2L323.1 427.5L325.1 427.8L320.3 428.1L321.9 428.4L313.3 428.7L319.3 429.0L315.4 429.3L310.6 429.6L313.9 429.9L312.9 430.2L311.7 430.5L310.2 430.8L306.8 431.1L304.2 431.4L303.2 431.7L302.4 432.0L301.5 432.3L298.4 432.6L297.6 432.9L297.2 433.2L294.6 433.5L295.8 433.8L293.8 434.1L287.0 434.4L286.0 434.7L283.1 435.0L281.4 435.3L282.0 435.6L277.8 435.9L275.8 436.2L274.8 436.5L274.2 436.8L270.6 437.1L268.4 437.4L267.9 437.7L265.2 438.0L262.9 438.3L261.3 438.6L256.7 438.9L256.0 439.2L252.9 439.5L252.6 439.8L250.2 440.1L246.0 440.4L246.2 440.7L241.4 441.0L241.3 441.3L237.8 441.6L234.1 441.9L231.1 442.2L228.8 442.5L225.9 442.8L221.7 443.1L218.7 443.4L212.6 443.7L208.8 444.0L203.7 444.3L197.2 444.6L193.7 444.9L187.7 445.2L182.4 445.5L179.8 445.8L176.5 446.1L173.1 446.4L167.3 446.7L161.3 447.0L146.7 447.3L122.7 447.6L96.9 447.9L63.2 448.2L47.5 448.5L47.5 448.8L47.5 449.1" fill="none" stroke="#17891a" stroke-width="2.2" stroke-opacity="1.0" stroke-linejoin="round" clip-path="url(#ca)"/>
</g>
<g>
<path d="M389.6 20.1L385.5 20.5L379.6 20.9L393.8 21.3L391.0 21.7L379.6 22.1L388.9 22.5L394.5 22.9L387.2 23.3L395.1 23.7L394.9 24.1L379.6 24.5L385.7 24.9L392.7 25.3L396.6 25.7L401.0 26.1L379.6 26.5L388.0 26.9L395.0 27.3L399.5 27.7L403.7 28.1L380.4 28.5L385.5 28.9L379.6 29.3L396.1 29.7L379.6 30.1L399.4 30.5L397.3 30.9L393.3 31.3L379.6 31.7L383.0 32.1L395.7 32.5L379.6 32.9L387.0 33.3L388.2 33.7L397.1 34.1L391.7 34.5L391.7 34.9L385.3 35.3L389.3 35.7L388.1 36.1L395.8 36.5L387.8 36.9L398.6 37.3L379.6 37.7L400.1 38.1L388.0 38.5L399.5 38.9L390.3 39.3L397.1 39.7L402.9 40.1L384.7 40.5L390.3 40.9L388.2 41.3L391.5 41.7L379.6 42.1L388.2 42.5L387.6 42.9L382.8 43.3L388.1 43.7L379.6 44.1L402.3 44.5L393.9 44.9L406.7 45.3L382.2 45.7L379.7 46.1L392.6 46.5L379.6 46.9L392.1 47.3L383.9 47.7L387.2 48.1L392.4 48.5L390.6 48.9L406.8 49.3L395.9 49.7L379.6 50.1L399.0 50.5L379.6 50.9L391.1 51.3L379.6 51.7L383.0 52.1L402.1 52.5L385.5 52.9L384.7 53.3L385.5 53.7L387.7 54.1L403.4 54.5L380.1 54.9L379.6 55.3L395.7 55.7L379.6 56.1L387.4 56.5L400.7 56.9L390.7 57.3L386.4 57.7L384.4 58.1L382.6 58.5L385.5 58.9L392.0 59.3L401.8 59.7L399.4 60.1L385.8 60.5L384.3 60.9L397.0 61.3L379.6 61.7L387.0 62.1L388.0 62.5L381.0 62.9L382.1 63.3L394.0 63.7L379.6 64.1L382.9 64.5L385.2 64.9L391.7 65.3L379.6 65.7L400.7 66.1L388.3 66.5L388.8 66.9L387.9 67.3L385.1 67.7L382.4 68.1L401.4 68.5L393.0 68.9L390.2 69.3L400.1 69.7L384.9 70.1L396.8 70.5L391.5 70.9L383.4 71.3L398.1 71.7L379.6 72.1L397.1 72.5L383.5 72.9L395.0 73.3L403.7 73.7L396.5 74.1L386.1 74.5L391.2 74.9L388.3 75.3L381.2 75.7L381.8 76.1L392.0 76.5L396.4 76.9L379.6 77.3L391.0 77.7L396.2 78.1L392.7 78.5L382.9 78.9L401.0 79.3L381.1 79.7L397.6 80.1L406.1 80.5L379.6 80.9L394.2 81.3L394.8 81.7L394.0 82.1L385.3 82.5L389.4 82.9L379.8 83.3L393.4 83.7L397.0 84.1L386.4 84.5L384.2 84.9L388.2 85.3L392.3 85.7L393.0 86.1L391.6 86.5L393.2 86.9L381.2 87.3L379.6 87.7L398.2 88.1L405.2 88.5L380.5 88.9L387.2 89.3L395.6 89.7L401.4 90.1L398.8 90.5L404.3 90.9L392.9 91.3L397.0 91.7L397.1 92.1L389.9 92.5L404.0 92.9L399.1 93.3L402.3 93.7L390.6 94.1L402.9 94.5L385.1 94.9L397.6 95.3L379.6 95.7L385.8 96.1L400.8 96.5L390.8 96.9L396.2 97.3L381.0 97.7L408.1 98.1L400.1 98.5L394.9 98.9L398.8 99.3L398.1 99.7L407.4 100.1L397.4 100.5L383.3 100.9L393.7 101.3L406.7 101.7L400.8 102.1L392.7 102.5L401.4 102.9L397.4 103.3L401.6 103.7L383.4 104.1L389.3 104.5L402.5 104.9L395.2 105.3L400.1 105.7L413.5 106.1L394.8 106.5L399.5 106.9L393.1 107.3L392.7 107.7L397.3 108.1L386.1 108.5L380.9 108.9L409.6 109.3L397.6 109.7L407.8 110.1L399.8 110.5L400.1 110.9L404.5 111.3L405.0 111.7L389.5 112.1L409.3 112.5L391.7 112.9L401.4 113.3L420.6 113.7L400.7 114.1L413.6 114.5L397.5 114.9L405.4 115.3L401.0 115.7L404.1 116.1L394.0 116.5L393.6 116.9L403.8 117.3L388.8 117.7L394.7 118.1L406.7 118.5L396.8 118.9L394.8 119.3L393.2 119.7L403.3 120.1L399.4 120.5L403.6 120.9L401.1 121.3L417.4 121.7L399.4 122.1L387.6 122.5L404.1 122.9L403.3 123.3L404.7 123.7L391.0 124.1L412.6 124.5L403.6 124.9L403.7 125.3L391.8 125.7L408.0 126.1L403.9 126.5L415.1 126.9L401.5 127.3L395.3 127.7L406.0 128.1L398.1 128.5L408.5 128.9L397.1 129.3L404.6 129.7L404.0 130.1L405.7 130.5L402.1 130.9L400.0 131.3L406.0 131.7L402.1 132.1L407.9 132.5L404.8 132.9L390.0 133.3L406.8 133.7L417.9 134.1L409.9 134.5L412.3 134.9L411.3 135.3L404.5 135.7L398.2 136.1L414.5 136.5L416.5 136.9L413.0 137.3L412.1 137.7L412.1 138.1L409.1 138.5L411.5 138.9L409.8 139.3L412.3 139.7L403.0 140.1L405.6 140.5L414.6 140.9L408.1 141.3L393.0 141.7L411.9 142.1L394.4 142.5L425.4 142.9L416.8 143.3L416.6 143.7L407.1 144.1L403.9 144.5L410.8 144.9L412.7 145.3L407.1 145.7L414.1 146.1L418.1 146.5L417.6 146.9L406.0 147.3L398.1 147.7L413.9 148.1L409.4 148.5L417.5 148.9L426.3 149.3L426.5 149.7L417.0 150.1L423.1 150.5L427.1 150.9L416.0 151.3L417.9 151.7L422.2 152.1L416.1 152.5L413.1 152.9L411.6 153.3L417.2 153.7L413.0 154.1L423.2 154.5L415.5 154.9L428.3 155.3L426.8 155.7L410.0 156.1L426.4 156.5L416.3 156.9L428.8 157.3L423.1 157.7L419.5 158.1L424.7 158.5L416.5 158.9L422.9 159.3L423.5 159.7L420.1 160.1L424.0 160.5L414.7 160.9L425.6 161.3L413.8 161.7L426.5 162.1L425.8 162.5L427.6 162.9L419.2 163.3L443.8 163.7L422.0 164.1L424.8 164.5L418.9 164.9L433.8 165.3L421.3 165.7L431.3 166.1L418.5 166.5L427.1 166.9L422.8 167.3L431.7 167.7L423.8 168.1L420.2 168.5L429.1 168.9L418.5 169.3L420.2 169.7L431.6 170.1L414.7 170.5L431.9 170.9L424.6 171.3L421.5 171.7L429.1 172.1L431.7 172.5L424.2 172.9L427.0 173.3L433.2 173.7L433.1 174.1L428.3 174.5L424.0 174.9L423.1 175.3L425.5 175.7L433.4 176.1L432.9 176.5L431.4 176.9L438.1 177.3L428.2 177.7L427.9 178.1L428.1 178.5L441.8 178.9L418.7 179.3L432.6 179.7L433.7 180.1L431.7 180.5L445.0 180.9L438.5 181.3L436.4 181.7L427.2 182.1L435.3 182.5L430.7 182.9L433.3 183.3L434.5 183.7L431.0 184.1L437.4 184.5L443.2 184.9L440.2 185.3L436.1 185.7L424.9 186.1L441.4 186.5L441.6 186.9L435.2 187.3L434.1 187.7L440.3 188.1L433.0 188.5L441.7 188.9L432.3 189.3L433.4 189.7L438.5 190.1L431.4 190.5L439.0 190.9L442.0 191.3L433.0 191.7L444.4 192.1L437.3 192.5L443.0 192.9L441.5 193.3L438.5 193.7L438.3 194.1L432.8 194.5L437.8 194.9L437.7 195.3L449.2 195.7L446.3 196.1L435.3 196.5L445.5 196.9L442.9 197.3L440.3 197.7L444.2 198.1L445.8 198.5L439.8 198.9L441.2 199.3L443.3 199.7L438.3 200.1L443.5 200.5L442.4 200.9L439.9 201.3L439.3 201.7L444.3 202.1L446.8 202.5L444.6 202.9L439.7 203.3L446.5 203.7L444.1 204.1L446.0 204.5L448.4 204.9L440.0 205.3L443.2 205.7L441.5 206.1L440.5 206.5L452.0 206.9L447.9 207.3L437.4 207.7L446.1 208.1L442.4 208.5L449.0 208.9L445.1 209.3L444.3 209.7L445.6 210.1L446.7 210.5L445.5 210.9L444.7 211.3L445.2 211.7L447.8 212.1L441.9 212.5L446.2 212.9L446.0 213.3L444.9 213.7L449.5 214.1L442.4 214.5L445.9 214.9L444.4 215.3L449.6 215.7L446.2 216.1L448.3 216.5L449.7 216.9L443.0 217.3L450.4 217.7L446.4 218.1L448.4 218.5L449.1 218.9L452.6 219.3L452.6 219.7L456.3 220.1L451.2 220.5L449.3 220.9L449.5 221.3L453.6 221.7L457.1 222.1L453.2 222.5L450.5 222.9L453.6 223.3L453.9 223.7L453.5 224.1L451.4 224.5L446.0 224.9L453.0 225.3L458.5 225.7L456.2 226.1L449.0 226.5L456.5 226.9L451.1 227.3L463.7 227.7L458.5 228.1L454.6 228.5L461.3 228.9L456.8 229.3L461.4 229.7L460.2 230.1L456.9 230.5L463.0 230.9L457.4 231.3L466.0 231.7L462.6 232.1L459.8 232.5L458.0 232.9L468.7 233.3L468.7 233.7L461.2 234.1L470.2 234.5L466.3 234.9L465.7 235.3L466.6 235.7L466.5 236.1L471.8 236.5L468.6 236.9L463.3 237.3L474.8 237.7L471.8 238.1L466.6 238.5L469.0 238.9L467.7 239.3L470.6 239.7L471.8 240.1L471.6 240.5L469.5 240.9L469.1 241.3L473.7 241.7L471.3 242.1L477.7 242.5L469.8 242.9L474.1 243.3L472.3 243.7L470.3 244.1L475.9 244.5L472.8 244.9L470.3 245.3L471.9 245.7L475.4 246.1L469.9 246.5L476.5 246.9L474.9 247.3L472.6 247.7L476.7 248.1L477.8 248.5L475.1 248.9L474.1 249.3L478.3 249.7L477.6 250.1L471.9 250.5L473.8 250.9L474.0 251.3L473.7 251.7L471.3 252.1L477.1 252.5L475.4 252.9L475.7 253.3L478.9 253.7L474.6 254.1L476.0 254.5L477.0 254.9L475.6 255.3L476.6 255.7L478.9 256.1L477.4 256.5L480.7 256.9L476.2 257.3L478.7 257.7L475.3 258.1L478.5 258.5L477.5 258.9L482.5 259.3L481.4 259.7L481.2 260.1L484.5 260.5L483.9 260.9L482.6 261.3L479.8 261.7L478.4 262.1L481.9 262.5L481.5 262.9L481.2 263.3L482.4 263.7L479.7 264.1L487.0 264.5L481.5 264.9L482.9 265.3L486.0 265.7L481.5 266.1L487.4 266.5L487.8 266.9L485.4 267.3L484.1 267.7L485.8 268.1L483.1 268.5L490.5 268.9L487.9 269.3L486.6 269.7L486.5 270.1L490.1 270.5L492.4 270.9L486.8 271.3L488.6 271.7L486.4 272.1L491.9 272.5L491.2 272.9L496.0 273.3L491.3 273.7L491.0 274.1L490.7 274.5L494.4 274.9L489.5 275.3L494.9 275.7L494.2 276.1L493.0 276.5L492.5 276.9L497.0 277.3L499.0 277.7L494.6 278.1L497.0 278.5L499.9 278.9L495.4 279.3L496.5 279.7L494.9 280.1L497.5 280.5L498.0 280.9L497.7 281.3L497.4 281.7L496.1 282.1L496.9 282.5L498.1 282.9L501.7 283.3L499.8 283.7L499.5 284.1L502.9 284.5L503.1 284.9L500.8 285.3L501.4 285.7L504.4 286.1L504.2 286.5L502.2 286.9L504.7 287.3L504.5 287.7L507.1 288.1L503.6 288.5L507.4 288.9L506.9 289.3L504.4 289.7L508.8 290.1L508.9 290.5L504.9 290.9L511.7 291.3L506.0 291.7L506.8 292.1L508.3 292.5L510.7 292.9L510.7 293.3L509.7 293.7L512.9 294.1L511.4 294.5L513.6 294.9L516.6 295.3L511.9 295.7L507.0 296.1L511.3 296.5L510.5 296.9L513.0 297.3L513.3 297.7L511.1 298.1L511.5 298.5L513.5 298.9L514.0 299.3L509.7 299.7L516.8 300.1L515.3 300.5L515.5 300.9L516.4 301.3L514.2 301.7L516.3 302.1L518.7 302.5L519.1 302.9L518.2 303.3L517.1 303.7L516.4 304.1L520.8 304.5L519.6 304.9L518.1 305.3L515.0 305.7L517.8 306.1L516.1 306.5L522.5 306.9L520.8 307.3L519.3 307.7L520.6 308.1L526.4 308.5L524.1 308.9L519.5 309.3L522.2 309.7L520.4 310.1L519.9 310.5L523.8 310.9L528.5 311.3L527.2 311.7L524.7 312.1L524.3 312.5L525.7 312.9L527.7 313.3L523.3 313.7L522.8 314.1L530.4 314.5L527.7 314.9L530.6 315.3L528.3 315.7L531.1 316.1L527.5 316.5L530.0 316.9L532.4 317.3L531.7 317.7L529.3 318.1L532.3 318.5L529.7 318.9L528.7 319.3L532.8 319.7L534.9 320.1L534.3 320.5L530.7 320.9L535.2 321.3L535.3 321.7L533.6 322.1L530.3 322.5L537.4 322.9L537.7 323.3L537.5 323.7L533.8 324.1L534.8 324.5L540.1 324.9L540.3 325.3L540.3 325.7L539.5 326.1L541.4 326.5L540.4 326.9L541.7 327.3L541.5 327.7L544.6 328.1L544.3 328.5L547.8 328.9L548.2 329.3L546.1 329.7L551.8 330.1L546.8 330.5L550.5 330.9L552.3 331.3L553.3 331.7L547.2 332.1L553.9 332.5L554.9 332.9L555.9 333.3L549.5 333.7L553.0 334.1L554.6 334.5L554.5 334.9L558.4 335.3L555.1 335.7L559.2 336.1L558.4 336.5L555.1 336.9L556.4 337.3L557.9 337.7L559.4 338.1L561.6 338.5L559.8 338.9L562.4 339.3L558.1 339.7L555.8 340.1L561.4 340.5L563.3 340.9L562.2 341.3L561.4 341.7L564.6 342.1L567.9 342.5L564.5 342.9L563.7 343.3L564.0 343.7L569.7 344.1L566.4 344.5L568.0 344.9L569.6 345.3L569.8 345.7L566.5 346.1L570.5 346.5L570.8 346.9L570.6 347.3L572.1 347.7L569.6 348.1L571.0 348.5L570.7 348.9L573.6 349.3L571.4 349.7L573.9 350.1L571.6 350.5L574.0 350.9L574.0 351.3L575.0 351.7L576.0 352.1L575.9 352.5L576.4 352.9L573.4 353.3L579.9 353.7L577.2 354.1L578.4 354.5L577.8 354.9L581.7 355.3L578.7 355.7L581.9 356.1L583.6 356.5L585.0 356.9L584.7 357.3L584.1 357.7L581.3 358.1L586.4 358.5L586.7 358.9L586.5 359.3L587.0 359.7L586.1 360.1L585.5 360.5L589.0 360.9L589.8 361.3L586.0 361.7L590.1 362.1L589.3 362.5L590.9 362.9L590.3 363.3L592.3 363.7L592.5 364.1L592.7 364.5L589.0 364.9L593.5 365.3L592.5 365.7L590.7 366.1L594.5 366.5L591.1 366.9L595.6 367.3L597.4 367.7L593.8 368.1L596.8 368.5L596.3 368.9L597.1 369.3L593.8 369.7L597.7 370.1L597.2 370.5L598.7 370.9L597.7 371.3L600.0 371.7L598.9 372.1L600.0 372.5L601.6 372.9L599.8 373.3L601.6 373.7L600.5 374.1L601.4 374.5L599.9 374.9L602.5 375.3L603.7 375.7L601.7 376.1L603.6 376.5L603.3 376.9L600.9 377.3L603.8 377.7L605.8 378.1L603.0 378.5L601.0 378.9L604.8 379.3L603.7 379.7L608.5 380.1L605.4 380.5L605.8 380.9L605.0 381.3L606.9 381.7L605.8 382.1L605.6 382.5L607.4 382.9L606.4 383.3L610.6 383.7L606.5 384.1L608.8 384.5L608.1 384.9L607.2 385.3L613.0 385.7L606.7 386.1L613.3 386.5L608.6 386.9L611.7 387.3L615.9 387.7L608.5 388.1L610.3 388.5L615.4 388.9L613.8 389.3L612.9 389.7L614.3 390.1L613.1 390.5L615.4 390.9L618.3 391.3L615.5 391.7L616.9 392.1L619.2 392.5L621.1 392.9L617.1 393.3L619.1 393.7L618.1 394.1L618.5 394.5L619.4 394.9L619.5 395.3L618.1 395.7L618.2 396.1L620.9 396.5L623.0 396.9L625.4 397.3L622.8 397.7L624.0 398.1L626.0 398.5L626.6 398.9L625.6 399.3L626.3 399.7L630.2 400.1L626.8 400.5L627.0 400.9L625.5 401.3L629.6 401.7L628.8 402.1L633.1 402.5L629.6 402.9L632.1 403.3L632.8 403.7L634.5 404.1L629.7 404.5L635.1 404.9L632.8 405.3L633.0 405.7L633.0 406.1L633.2 406.5L633.6 406.9L630.4 407.3L635.8 407.7L635.3 408.1L633.8 408.5L635.6 408.9L640.0 409.3L636.8 409.7L635.7 410.1L639.6 410.5L635.4 410.9L636.8 411.3L636.3 411.7L637.1 412.1L639.0 412.5L638.9 412.9L636.8 413.3L638.1 413.7L638.6 414.1L637.9 414.5L638.7 414.9L637.6 415.3L637.7 415.7L639.1 416.1L637.3 416.5L639.9 416.9L638.8 417.3L637.5 417.7L638.0 418.1L638.1 418.5L638.5 418.9L638.8 419.3L638.0 419.7L636.6 420.1L640.3 420.5L639.1 420.9L637.4 421.3L638.5 421.7L637.0 422.1L635.7 422.5L635.8 422.9L639.7 423.3L636.5 423.7L636.1 424.1L633.2 424.5L634.1 424.9L635.9 425.3L632.0 425.7L632.0 426.1L631.2 426.5L629.0 426.9L629.2 427.3L625.8 427.7L624.8 428.1L621.8 428.5L625.2 428.9L620.3 429.3L618.6 429.7L619.1 430.1L615.0 430.5L614.3 430.9L611.7 431.3L611.3 431.7L609.1 432.1L608.7 432.5L605.9 432.9L603.2 433.3L601.4 433.7L599.2 434.1L595.9 434.5L594.4 434.9L589.7 435.3L584.0 435.7L576.9 436.1L573.6 436.5L565.9 436.9L562.5 437.3L556.7 437.7L550.1 438.1L544.1 438.5L538.6 438.9L536.5 439.3L528.7 439.7L524.0 440.1L520.8 440.5L515.8 440.9L512.1 441.3L505.2 441.7L501.1 442.1L501.4 442.5L493.3 442.9L488.7 443.3L485.2 443.7L482.2 444.1L476.4 444.5L473.9 444.9L469.7 445.3L466.0 445.7L460.9 446.1L455.1 446.5L448.9 446.9L441.1 447.3L435.2 447.7L422.0 448.1L408.2 448.5L391.6 448.9" fill="none" stroke="#2f922f" stroke-width="1.2" stroke-opacity="0.95" stroke-dasharray="1.1 1.5" clip-path="url(#cb)"/>
<path d="M426.4 20.1L430.0 20.5L427.4 20.9L430.6 21.3L428.4 21.7L426.8 22.1L433.1 22.5L427.8 22.9L424.4 23.3L427.9 23.7L430.9 24.1L425.5 24.5L431.9 24.9L432.0 25.3L436.6 25.7L427.5 26.1L432.0 26.5L424.3 26.9L428.5 27.3L430.4 27.7L431.5 28.1L430.1 28.5L430.0 28.9L428.4 29.3L429.0 29.7L431.6 30.1L432.5 30.5L432.9 30.9L434.2 31.3L434.9 31.7L425.1 32.1L429.4 32.5L430.7 32.9L429.1 33.3L434.8 33.7L433.9 34.1L431.2 34.5L432.0 34.9L435.9 35.3L430.6 35.7L430.8 36.1L434.9 36.5L433.6 36.9L436.8 37.3L433.4 37.7L434.7 38.1L430.5 38.5L429.3 38.9L432.5 39.3L423.9 39.7L434.0 40.1L436.0 40.5L433.1 40.9L432.2 41.3L436.6 41.7L433.0 42.1L436.4 42.5L440.5 42.9L435.8 43.3L436.6 43.7L435.2 44.1L434.5 44.5L434.7 44.9L434.1 45.3L437.5 45.7L428.7 46.1L433.2 46.5L436.3 46.9L431.5 47.3L434.0 47.7L432.2 48.1L436.0 48.5L437.4 48.9L439.4 49.3L436.4 49.7L432.5 50.1L435.8 50.5L436.9 50.9L439.7 51.3L428.2 51.7L436.5 52.1L429.4 52.5L437.8 52.9L437.0 53.3L437.2 53.7L438.6 54.1L437.0 54.5L433.8 54.9L437.1 55.3L439.9 55.7L435.7 56.1L436.3 56.5L432.3 56.9L440.1 57.3L434.8 57.7L434.1 58.1L435.2 58.5L433.9 58.9L435.9 59.3L441.0 59.7L439.5 60.1L441.6 60.5L441.9 60.9L434.3 61.3L438.8 61.7L442.2 62.1L444.8 62.5L432.9 62.9L433.0 63.3L439.2 63.7L436.7 64.1L434.6 64.5L439.1 64.9L435.4 65.3L430.8 65.7L438.1 66.1L438.6 66.5L440.3 66.9L441.4 67.3L439.1 67.7L437.8 68.1L436.5 68.5L433.4 68.9L437.4 69.3L442.1 69.7L441.0 70.1L445.6 70.5L438.6 70.9L433.5 71.3L441.9 71.7L442.7 72.1L435.7 72.5L434.4 72.9L440.1 73.3L442.0 73.7L436.2 74.1L438.8 74.5L437.5 74.9L436.3 75.3L436.0 75.7L440.7 76.1L439.2 76.5L438.3 76.9L432.2 77.3L446.2 77.7L437.7 78.1L440.3 78.5L437.3 78.9L442.2 79.3L436.3 79.7L441.4 80.1L440.6 80.5L444.2 80.9L437.9 81.3L439.5 81.7L440.9 82.1L448.3 82.5L437.1 82.9L442.8 83.3L439.9 83.7L443.1 84.1L444.3 84.5L442.7 84.9L443.2 85.3L443.4 85.7L440.7 86.1L442.0 86.5L437.6 86.9L441.8 87.3L440.6 87.7L442.3 88.1L445.5 88.5L444.5 88.9L444.9 89.3L447.0 89.7L436.2 90.1L445.1 90.5L443.8 90.9L443.7 91.3L440.0 91.7L446.0 92.1L447.9 92.5L447.7 92.9L444.3 93.3L446.7 93.7L447.7 94.1L450.6 94.5L448.9 94.9L445.6 95.3L445.6 95.7L445.9 96.1L446.2 96.5L444.1 96.9L448.2 97.3L443.7 97.7L443.5 98.1L447.2 98.5L444.5 98.9L445.6 99.3L440.0 99.7L449.1 100.1L446.7 100.5L446.5 100.9L448.4 101.3L447.8 101.7L445.0 102.1L453.6 102.5L446.1 102.9L450.6 103.3L453.4 103.7L445.9 104.1L448.3 104.5L445.6 104.9L451.5 105.3L447.3 105.7L445.1 106.1L452.7 106.5L451.6 106.9L446.1 107.3L452.6 107.7L449.7 108.1L457.6 108.5L454.6 108.9L447.7 109.3L448.7 109.7L447.0 110.1L450.2 110.5L450.1 110.9L452.3 111.3L450.4 111.7L445.7 112.1L447.9 112.5L454.9 112.9L454.2 113.3L450.3 113.7L450.5 114.1L450.5 114.5L451.2 114.9L446.1 115.3L454.1 115.7L449.4 116.1L452.0 116.5L443.9 116.9L452.5 117.3L456.0 117.7L445.1 118.1L456.8 118.5L453.7 118.9L450.1 119.3L447.6 119.7L456.1 120.1L453.5 120.5L454.6 120.9L452.0 121.3L450.5 121.7L455.8 122.1L450.3 122.5L456.0 122.9L448.3 123.3L450.6 123.7L449.1 124.1L457.7 124.5L448.4 124.9L450.4 125.3L456.0 125.7L454.7 126.1L460.8 126.5L459.9 126.9L456.2 127.3L456.5 127.7L448.9 128.1L451.9 128.5L453.7 128.9L454.2 129.3L450.6 129.7L452.1 130.1L452.4 130.5L458.3 130.9L456.5 131.3L454.2 131.7L454.5 132.1L456.3 132.5L453.4 132.9L454.8 133.3L450.4 133.7L457.7 134.1L458.7 134.5L457.0 134.9L457.4 135.3L457.1 135.7L462.2 136.1L456.8 136.5L452.2 136.9L453.1 137.3L458.5 137.7L459.7 138.1L458.8 138.5L459.1 138.9L457.2 139.3L452.3 139.7L454.7 140.1L451.4 140.5L455.8 140.9L452.9 141.3L457.4 141.7L456.6 142.1L451.4 142.5L459.5 142.9L459.6 143.3L453.3 143.7L457.9 144.1L459.7 144.5L456.7 144.9L460.2 145.3L458.3 145.7L461.0 146.1L458.4 146.5L457.5 146.9L459.5 147.3L460.4 147.7L458.9 148.1L456.9 148.5L455.9 148.9L457.2 149.3L456.7 149.7L459.1 150.1L459.1 150.5L458.4 150.9L458.7 151.3L459.3 151.7L463.5 152.1L462.4 152.5L457.3 152.9L460.3 153.3L458.1 153.7L458.9 154.1L458.5 154.5L457.5 154.9L455.4 155.3L452.2 155.7L460.1 156.1L463.1 156.5L457.0 156.9L461.2 157.3L458.7 157.7L460.7 158.1L457.6 158.5L459.4 158.9L459.8 159.3L453.2 159.7L460.9 160.1L460.0 160.5L453.2 160.9L462.4 161.3L460.5 161.7L461.3 162.1L461.8 162.5L459.6 162.9L457.8 163.3L459.7 163.7L459.8 164.1L467.6 164.5L466.6 164.9L459.9 165.3L460.2 165.7L462.5 166.1L463.3 166.5L459.7 166.9L458.9 167.3L467.5 167.7L465.0 168.1L457.6 168.5L457.1 168.9L459.9 169.3L463.0 169.7L464.0 170.1L461.6 170.5L458.0 170.9L463.4 171.3L464.6 171.7L463.0 172.1L461.6 172.5L464.8 172.9L463.1 173.3L460.2 173.7L463.8 174.1L459.9 174.5L466.5 174.9L465.2 175.3L461.1 175.7L464.6 176.1L467.7 176.5L458.1 176.9L464.0 177.3L469.2 177.7L460.1 178.1L464.2 178.5L460.7 178.9L464.8 179.3L458.2 179.7L460.5 180.1L463.8 180.5L465.8 180.9L466.6 181.3L466.9 181.7L469.1 182.1L467.9 182.5L468.1 182.9L463.3 183.3L465.8 183.7L475.5 184.1L473.0 184.5L469.0 184.9L468.9 185.3L469.7 185.7L465.9 186.1L472.7 186.5L466.2 186.9L467.2 187.3L473.7 187.7L461.7 188.1L468.8 188.5L463.0 188.9L466.2 189.3L467.9 189.7L467.3 190.1L468.9 190.5L466.4 190.9L468.4 191.3L465.4 191.7L467.8 192.1L465.1 192.5L471.1 192.9L465.7 193.3L471.4 193.7L468.4 194.1L468.9 194.5L473.2 194.9L470.3 195.3L464.8 195.7L471.7 196.1L462.2 196.5L471.3 196.9L469.5 197.3L466.9 197.7L471.2 198.1L470.2 198.5L476.9 198.9L470.1 199.3L476.9 199.7L475.5 200.1L470.0 200.5L469.6 200.9L475.7 201.3L471.8 201.7L472.7 202.1L471.7 202.5L469.2 202.9L471.7 203.3L470.1 203.7L468.7 204.1L472.3 204.5L478.2 204.9L477.9 205.3L473.3 205.7L474.0 206.1L475.2 206.5L477.7 206.9L474.9 207.3L472.9 207.7L473.2 208.1L477.6 208.5L481.9 208.9L473.0 209.3L469.2 209.7L477.3 210.1L474.9 210.5L475.7 210.9L478.8 211.3L475.7 211.7L472.0 212.1L470.4 212.5L475.8 212.9L472.9 213.3L477.0 213.7L472.8 214.1L475.5 214.5L472.6 214.9L475.8 215.3L475.7 215.7L478.6 216.1L480.8 216.5L476.8 216.9L475.1 217.3L482.9 217.7L478.7 218.1L479.5 218.5L479.6 218.9L482.0 219.3L481.0 219.7L480.2 220.1L480.6 220.5L476.4 220.9L477.2 221.3L478.7 221.7L479.3 222.1L479.3 222.5L480.2 222.9L479.6 223.3L478.5 223.7L475.5 224.1L482.1 224.5L481.6 224.9L477.9 225.3L481.7 225.7L481.5 226.1L480.8 226.5L475.9 226.9L477.8 227.3L479.5 227.7L485.4 228.1L479.1 228.5L480.6 228.9L478.8 229.3L480.5 229.7L482.8 230.1L476.7 230.5L474.9 230.9L484.1 231.3L482.6 231.7L481.1 232.1L485.4 232.5L485.5 232.9L477.8 233.3L482.9 233.7L486.3 234.1L481.9 234.5L483.0 234.9L486.4 235.3L483.4 235.7L481.2 236.1L482.7 236.5L481.2 236.9L486.2 237.3L480.6 237.7L487.6 238.1L481.1 238.5L485.5 238.9L481.9 239.3L485.0 239.7L488.5 240.1L488.9 240.5L489.6 240.9L486.2 241.3L486.9 241.7L487.4 242.1L488.5 242.5L486.2 242.9L490.1 243.3L488.3 243.7L490.5 244.1L489.0 244.5L489.7 244.9L486.4 245.3L487.4 245.7L485.4 246.1L488.0 246.5L488.5 246.9L491.2 247.3L486.2 247.7L497.4 248.1L489.4 248.5L492.9 248.9L492.6 249.3L484.2 249.7L489.8 250.1L494.2 250.5L485.0 250.9L492.9 251.3L489.0 251.7L490.3 252.1L492.1 252.5L487.3 252.9L492.5 253.3L490.7 253.7L490.6 254.1L494.3 254.5L501.1 254.9L493.8 255.3L494.5 255.7L493.3 256.1L491.9 256.5L494.4 256.9L497.6 257.3L494.7 257.7L496.5 258.1L494.1 258.5L500.8 258.9L491.3 259.3L496.7 259.7L496.8 260.1L496.4 260.5L493.4 260.9L493.6 261.3L495.9 261.7L496.9 262.1L494.1 262.5L494.7 262.9L498.6 263.3L499.9 263.7L496.5 264.1L496.4 264.5L496.6 264.9L504.1 265.3L499.9 265.7L498.8 266.1L501.5 266.5L504.7 266.9L502.4 267.3L496.8 267.7L500.0 268.1L499.6 268.5L500.0 268.9L498.3 269.3L500.4 269.7L499.1 270.1L502.5 270.5L502.1 270.9L499.2 271.3L498.8 271.7L501.8 272.1L504.5 272.5L504.5 272.9L503.5 273.3L496.7 273.7L503.1 274.1L502.9 274.5L504.1 274.9L502.4 275.3L504.5 275.7L504.2 276.1L511.9 276.5L507.8 276.9L506.2 277.3L506.8 277.7L507.0 278.1L507.9 278.5L507.0 278.9L508.1 279.3L510.7 279.7L510.6 280.1L509.8 280.5L512.3 280.9L510.3 281.3L508.1 281.7L506.8 282.1L509.4 282.5L511.0 282.9L512.4 283.3L514.1 283.7L511.0 284.1L510.9 284.5L514.6 284.9L515.8 285.3L512.7 285.7L514.8 286.1L517.3 286.5L515.5 286.9L515.1 287.3L511.3 287.7L518.7 288.1L517.7 288.5L517.0 288.9L516.2 289.3L515.0 289.7L517.8 290.1L518.2 290.5L521.0 290.9L516.8 291.3L522.6 291.7L520.1 292.1L522.9 292.5L519.0 292.9L522.1 293.3L524.2 293.7L522.5 294.1L519.8 294.5L522.5 294.9L524.7 295.3L521.3 295.7L521.8 296.1L525.6 296.5L523.8 296.9L527.6 297.3L524.4 297.7L523.6 298.1L526.3 298.5L531.4 298.9L527.3 299.3L529.5 299.7L530.6 300.1L528.9 300.5L533.5 300.9L532.3 301.3L533.4 301.7L529.9 302.1L530.3 302.5L529.0 302.9L534.6 303.3L535.2 303.7L537.7 304.1L539.8 304.5L537.1 304.9L537.7 305.3L539.7 305.7L542.4 306.1L538.5 306.5L542.0 306.9L540.9 307.3L541.4 307.7L544.2 308.1L541.8 308.5L541.9 308.9L545.9 309.3L545.2 309.7L545.3 310.1L546.2 310.5L548.0 310.9L547.0 311.3L549.8 311.7L549.8 312.1L552.4 312.5L552.7 312.9L552.5 313.3L551.2 313.7L552.5 314.1L551.8 314.5L559.1 314.9L553.9 315.3L556.1 315.7L558.3 316.1L553.9 316.5L555.6 316.9L557.2 317.3L556.8 317.7L557.0 318.1L559.1 318.5L563.2 318.9L562.9 319.3L562.3 319.7L563.0 320.1L560.6 320.5L565.7 320.9L565.9 321.3L563.8 321.7L566.9 322.1L566.8 322.5L566.9 322.9L566.7 323.3L567.9 323.7L568.1 324.1L571.3 324.5L571.8 324.9L572.3 325.3L572.0 325.7L572.1 326.1L577.2 326.5L570.6 326.9L576.8 327.3L575.7 327.7L575.7 328.1L575.1 328.5L576.1 328.9L574.8 329.3L574.9 329.7L577.6 330.1L575.2 330.5L580.2 330.9L581.0 331.3L573.1 331.7L576.9 332.1L580.6 332.5L580.8 332.9L581.0 333.3L581.9 333.7L582.8 334.1L583.3 334.5L585.3 334.9L582.4 335.3L584.2 335.7L580.0 336.1L583.0 336.5L581.4 336.9L586.3 337.3L588.3 337.7L585.3 338.1L582.3 338.5L584.7 338.9L585.2 339.3L585.8 339.7L587.6 340.1L587.6 340.5L581.6 340.9L588.9 341.3L585.9 341.7L586.1 342.1L589.7 342.5L587.1 342.9L585.5 343.3L585.8 343.7L588.4 344.1L590.2 344.5L591.4 344.9L588.9 345.3L588.7 345.7L592.4 346.1L589.2 346.5L592.7 346.9L591.0 347.3L591.3 347.7L590.8 348.1L592.0 348.5L591.1 348.9L591.1 349.3L592.4 349.7L592.0 350.1L594.0 350.5L594.1 350.9L593.9 351.3L594.5 351.7L594.8 352.1L598.3 352.5L595.8 352.9L595.2 353.3L595.8 353.7L597.4 354.1L596.0 354.5L596.1 354.9L595.8 355.3L596.4 355.7L596.6 356.1L596.6 356.5L593.1 356.9L593.8 357.3L591.2 357.7L596.2 358.1L596.4 358.5L596.4 358.9L594.3 359.3L595.5 359.7L593.3 360.1L592.8 360.5L590.3 360.9L590.8 361.3L590.3 361.7L591.6 362.1L591.6 362.5L587.4 362.9L587.3 363.3L585.8 363.7L582.9 364.1L580.2 364.5L580.0 364.9L577.6 365.3L577.4 365.7L575.8 366.1L573.7 366.5L571.6 366.9L570.1 367.3L565.9 367.7L565.5 368.1L559.7 368.5L558.9 368.9L556.3 369.3L551.8 369.7L547.6 370.1L546.2 370.5L540.6 370.9L537.6 371.3L532.9 371.7L527.3 372.1L522.6 372.5L519.1 372.9L513.8 373.3L507.8 373.7L504.1 374.1L499.7 374.5L494.5 374.9L489.6 375.3L484.5 375.7L479.8 376.1L474.5 376.5L469.7 376.9L467.3 377.3L461.6 377.7L457.7 378.1L451.8 378.5L447.8 378.9L441.7 379.3L437.7 379.7L427.9 380.1L419.6 380.5L411.7 380.9L402.9 381.3L393.2 381.7L386.3 382.1L379.9 382.5" fill="none" stroke="#f3a730" stroke-width="1.2" stroke-opacity="0.95" stroke-dasharray="1.1 1.5" clip-path="url(#cb)"/>
<path d="M437.3 20.1L444.1 20.5L440.1 20.9L438.6 21.3L441.0 21.7L440.7 22.1L437.7 22.5L450.4 22.9L441.2 23.3L440.3 23.7L446.0 24.1L442.9 24.5L447.9 24.9L442.5 25.3L444.8 25.7L444.0 26.1L444.4 26.5L443.2 26.9L443.7 27.3L450.0 27.7L442.0 28.1L442.6 28.5L443.4 28.9L446.6 29.3L446.2 29.7L448.1 30.1L440.4 30.5L446.0 30.9L444.6 31.3L444.4 31.7L446.0 32.1L438.8 32.5L446.6 32.9L446.3 33.3L441.0 33.7L445.7 34.1L451.4 34.5L444.9 34.9L448.3 35.3L445.6 35.7L443.7 36.1L443.5 36.5L445.3 36.9L451.2 37.3L449.7 37.7L444.6 38.1L450.5 38.5L446.7 38.9L444.9 39.3L448.8 39.7L444.4 40.1L442.2 40.5L452.1 40.9L441.5 41.3L449.7 41.7L442.8 42.1L447.9 42.5L447.5 42.9L446.7 43.3L440.9 43.7L448.0 44.1L448.4 44.5L445.5 44.9L448.4 45.3L452.1 45.7L446.4 46.1L449.8 46.5L445.1 46.9L450.4 47.3L451.3 47.7L457.6 48.1L452.4 48.5L450.9 48.9L454.2 49.3L446.2 49.7L453.3 50.1L447.9 50.5L447.7 50.9L453.6 51.3L450.8 51.7L454.5 52.1L445.3 52.5L451.1 52.9L448.5 53.3L449.5 53.7L444.0 54.1L453.6 54.5L451.3 54.9L447.4 55.3L446.2 55.7L447.9 56.1L455.5 56.5L450.6 56.9L449.9 57.3L452.7 57.7L451.2 58.1L452.0 58.5L453.8 58.9L452.5 59.3L454.4 59.7L447.6 60.1L451.8 60.5L450.5 60.9L452.1 61.3L451.7 61.7L449.8 62.1L450.8 62.5L455.2 62.9L450.3 63.3L448.0 63.7L454.2 64.1L455.5 64.5L451.5 64.9L452.9 65.3L449.8 65.7L451.9 66.1L456.3 66.5L455.4 66.9L453.3 67.3L452.0 67.7L447.6 68.1L454.1 68.5L454.6 68.9L456.6 69.3L459.9 69.7L454.5 70.1L456.5 70.5L449.8 70.9L457.5 71.3L456.4 71.7L458.1 72.1L456.0 72.5L455.3 72.9L458.7 73.3L451.8 73.7L456.1 74.1L457.7 74.5L451.6 74.9L450.5 75.3L455.8 75.7L454.8 76.1L456.5 76.5L456.7 76.9L452.2 77.3L455.8 77.7L458.5 78.1L453.7 78.5L454.1 78.9L451.4 79.3L457.8 79.7L461.6 80.1L450.9 80.5L457.9 80.9L458.4 81.3L453.7 81.7L454.4 82.1L452.4 82.5L453.3 82.9L456.4 83.3L458.1 83.7L456.5 84.1L458.9 84.5L456.9 84.9L452.6 85.3L461.1 85.7L460.4 86.1L454.3 86.5L462.4 86.9L458.3 87.3L457.3 87.7L463.2 88.1L449.1 88.5L452.0 88.9L459.6 89.3L456.6 89.7L454.4 90.1L462.4 90.5L459.2 90.9L453.7 91.3L455.7 91.7L460.7 92.1L463.8 92.5L451.7 92.9L459.1 93.3L457.1 93.7L452.9 94.1L458.0 94.5L453.5 94.9L457.0 95.3L464.0 95.7L460.6 96.1L461.6 96.5L461.1 96.9L460.4 97.3L462.5 97.7L455.7 98.1L458.4 98.5L462.4 98.9L457.4 99.3L458.5 99.7L463.8 100.1L465.0 100.5L458.3 100.9L457.7 101.3L462.3 101.7L461.4 102.1L458.5 102.5L462.6 102.9L462.6 103.3L461.2 103.7L470.4 104.1L465.5 104.5L463.8 104.9L464.6 105.3L470.9 105.7L465.1 106.1L459.4 106.5L462.8 106.9L462.1 107.3L460.2 107.7L462.9 108.1L463.0 108.5L462.1 108.9L460.9 109.3L465.2 109.7L457.6 110.1L465.4 110.5L462.9 110.9L463.8 111.3L455.6 111.7L468.5 112.1L457.8 112.5L460.7 112.9L465.6 113.3L461.7 113.7L462.5 114.1L456.8 114.5L462.6 114.9L464.8 115.3L466.3 115.7L463.4 116.1L465.1 116.5L465.9 116.9L462.5 117.3L462.4 117.7L471.1 118.1L462.3 118.5L469.0 118.9L465.5 119.3L470.0 119.7L463.5 120.1L467.2 120.5L466.7 120.9L465.1 121.3L466.9 121.7L463.6 122.1L465.9 122.5L465.0 122.9L468.8 123.3L466.2 123.7L462.2 124.1L465.6 124.5L466.5 124.9L464.1 125.3L471.3 125.7L468.5 126.1L470.0 126.5L465.1 126.9L466.3 127.3L470.8 127.7L463.3 128.1L469.1 128.5L468.3 128.9L466.6 129.3L468.6 129.7L465.1 130.1L469.2 130.5L464.9 130.9L464.8 131.3L473.3 131.7L466.9 132.1L462.6 132.5L472.3 132.9L467.0 133.3L458.6 133.7L469.5 134.1L472.7 134.5L471.0 134.9L475.4 135.3L469.8 135.7L472.2 136.1L467.4 136.5L471.1 136.9L475.5 137.3L472.4 137.7L471.5 138.1L465.1 138.5L470.1 138.9L467.5 139.3L474.0 139.7L469.4 140.1L473.0 140.5L468.9 140.9L477.9 141.3L468.6 141.7L472.8 142.1L480.6 142.5L473.3 142.9L470.1 143.3L474.8 143.7L476.1 144.1L475.9 144.5L467.3 144.9L474.2 145.3L467.1 145.7L479.6 146.1L474.1 146.5L472.7 146.9L476.3 147.3L475.8 147.7L470.9 148.1L479.6 148.5L474.0 148.9L469.5 149.3L479.3 149.7L479.8 150.1L479.1 150.5L477.1 150.9L472.9 151.3L478.6 151.7L481.5 152.1L478.5 152.5L481.0 152.9L473.9 153.3L479.5 153.7L479.4 154.1L472.2 154.5L471.9 154.9L474.8 155.3L477.4 155.7L478.6 156.1L476.7 156.5L477.3 156.9L477.3 157.3L478.1 157.7L479.7 158.1L479.6 158.5L478.1 158.9L479.1 159.3L477.1 159.7L481.0 160.1L477.3 160.5L483.8 160.9L479.0 161.3L480.0 161.7L477.0 162.1L478.4 162.5L480.1 162.9L479.8 163.3L478.0 163.7L476.5 164.1L480.2 164.5L480.7 164.9L482.0 165.3L484.2 165.7L479.7 166.1L474.8 166.5L480.4 166.9L475.5 167.3L477.3 167.7L484.3 168.1L483.0 168.5L479.6 168.9L479.7 169.3L481.5 169.7L476.6 170.1L483.4 170.5L481.0 170.9L487.7 171.3L479.2 171.7L485.4 172.1L480.5 172.5L485.7 172.9L479.9 173.3L485.1 173.7L481.7 174.1L480.7 174.5L482.8 174.9L484.8 175.3L484.7 175.7L488.2 176.1L486.1 176.5L476.1 176.9L482.8 177.3L478.2 177.7L483.1 178.1L486.1 178.5L480.5 178.9L481.1 179.3L485.1 179.7L483.9 180.1L489.5 180.5L486.0 180.9L486.7 181.3L490.4 181.7L484.0 182.1L485.5 182.5L482.8 182.9L486.6 183.3L488.9 183.7L490.0 184.1L486.1 184.5L484.2 184.9L484.2 185.3L482.5 185.7L487.0 186.1L490.8 186.5L480.1 186.9L480.8 187.3L491.3 187.7L482.7 188.1L488.4 188.5L483.9 188.9L490.0 189.3L490.1 189.7L488.5 190.1L490.5 190.5L488.4 190.9L490.0 191.3L493.7 191.7L491.8 192.1L486.9 192.5L486.6 192.9L488.3 193.3L488.5 193.7L489.5 194.1L487.7 194.5L491.4 194.9L489.8 195.3L490.9 195.7L490.0 196.1L491.9 196.5L486.8 196.9L494.9 197.3L491.5 197.7L491.9 198.1L492.5 198.5L494.0 198.9L493.2 199.3L491.9 199.7L490.9 200.1L486.8 200.5L492.3 200.9L490.9 201.3L491.1 201.7L498.9 202.1L487.0 202.5L492.6 202.9L496.0 203.3L495.4 203.7L496.4 204.1L489.4 204.5L490.5 204.9L495.1 205.3L492.7 205.7L498.5 206.1L494.5 206.5L494.5 206.9L495.4 207.3L493.5 207.7L494.8 208.1L492.8 208.5L494.7 208.9L493.6 209.3L495.9 209.7L491.4 210.1L491.3 210.5L497.0 210.9L496.5 211.3L493.4 211.7L495.6 212.1L493.6 212.5L502.3 212.9L492.5 213.3L501.8 213.7L495.0 214.1L498.6 214.5L497.0 214.9L496.9 215.3L500.7 215.7L500.6 216.1L497.8 216.5L496.3 216.9L504.7 217.3L503.1 217.7L499.9 218.1L498.9 218.5L500.7 218.9L500.4 219.3L503.6 219.7L498.0 220.1L500.9 220.5L499.0 220.9L504.8 221.3L506.4 221.7L501.6 222.1L503.5 222.5L506.0 222.9L501.7 223.3L500.2 223.7L505.7 224.1L504.5 224.5L502.9 224.9L507.5 225.3L504.5 225.7L499.4 226.1L505.3 226.5L504.4 226.9L509.7 227.3L505.0 227.7L504.7 228.1L506.6 228.5L506.3 228.9L502.2 229.3L506.4 229.7L505.4 230.1L510.2 230.5L512.9 230.9L504.0 231.3L504.6 231.7L505.1 232.1L505.8 232.5L505.9 232.9L508.0 233.3L510.9 233.7L505.0 234.1L504.5 234.5L504.0 234.9L511.7 235.3L512.5 235.7L505.4 236.1L505.3 236.5L510.0 236.9L512.6 237.3L512.6 237.7L510.7 238.1L512.2 238.5L511.5 238.9L509.5 239.3L515.8 239.7L511.2 240.1L508.7 240.5L510.5 240.9L508.0 241.3L512.1 241.7L515.0 242.1L509.3 242.5L515.5 242.9L518.0 243.3L514.0 243.7L510.4 244.1L511.3 244.5L512.8 244.9L510.7 245.3L511.0 245.7L513.6 246.1L514.0 246.5L516.1 246.9L511.9 247.3L519.6 247.7L517.9 248.1L517.6 248.5L514.1 248.9L520.1 249.3L515.3 249.7L520.7 250.1L519.1 250.5L514.6 250.9L515.9 251.3L521.7 251.7L519.8 252.1L517.2 252.5L518.3 252.9L518.5 253.3L516.4 253.7L518.0 254.1L517.1 254.5L517.9 254.9L520.2 255.3L517.1 255.7L521.3 256.1L520.0 256.5L521.8 256.9L522.3 257.3L523.4 257.7L522.1 258.1L522.5 258.5L520.7 258.9L522.7 259.3L519.5 259.7L521.2 260.1L523.7 260.5L522.1 260.9L523.5 261.3L520.3 261.7L526.1 262.1L521.8 262.5L524.3 262.9L523.6 263.3L526.0 263.7L523.2 264.1L522.0 264.5L520.2 264.9L524.1 265.3L522.3 265.7L526.5 266.1L528.8 266.5L520.7 266.9L523.1 267.3L526.9 267.7L529.3 268.1L527.4 268.5L527.7 268.9L528.4 269.3L528.8 269.7L531.4 270.1L529.3 270.5L525.5 270.9L527.4 271.3L529.2 271.7L527.2 272.1L528.7 272.5L528.4 272.9L528.3 273.3L531.6 273.7L529.5 274.1L528.3 274.5L529.4 274.9L531.3 275.3L536.1 275.7L532.4 276.1L535.3 276.5L533.5 276.9L528.1 277.3L533.8 277.7L531.5 278.1L530.7 278.5L531.6 278.9L538.1 279.3L531.1 279.7L533.5 280.1L537.6 280.5L536.9 280.9L532.1 281.3L535.8 281.7L535.3 282.1L536.3 282.5L538.6 282.9L536.1 283.3L536.9 283.7L541.0 284.1L534.3 284.5L537.7 284.9L539.8 285.3L536.5 285.7L538.1 286.1L536.9 286.5L540.3 286.9L538.9 287.3L542.1 287.7L542.9 288.1L541.2 288.5L540.6 288.9L542.2 289.3L542.0 289.7L539.7 290.1L544.6 290.5L543.1 290.9L544.5 291.3L540.4 291.7L545.2 292.1L547.9 292.5L545.1 292.9L541.2 293.3L544.4 293.7L544.4 294.1L545.2 294.5L544.5 294.9L546.2 295.3L544.5 295.7L546.1 296.1L544.4 296.5L546.2 296.9L548.2 297.3L545.5 297.7L547.9 298.1L545.1 298.5L546.3 298.9L546.8 299.3L549.9 299.7L546.1 300.1L550.2 300.5L545.1 300.9L547.8 301.3L550.1 301.7L549.9 302.1L546.7 302.5L546.5 302.9L550.7 303.3L546.7 303.7L550.4 304.1L548.5 304.5L549.6 304.9L554.2 305.3L552.9 305.7L551.7 306.1L547.6 306.5L550.9 306.9L550.6 307.3L550.4 307.7L553.3 308.1L547.7 308.5L551.7 308.9L551.4 309.3L549.9 309.7L554.6 310.1L549.1 310.5L551.6 310.9L551.7 311.3L547.5 311.7L548.8 312.1L549.4 312.5L552.4 312.9L552.3 313.3L551.3 313.7L550.2 314.1L545.2 314.5L549.0 314.9L547.1 315.3L549.5 315.7L549.2 316.1L550.1 316.5L546.8 316.9L546.4 317.3L542.7 317.7L543.9 318.1L541.2 318.5L544.1 318.9L540.1 319.3L541.0 319.7L539.4 320.1L539.3 320.5L540.0 320.9L537.7 321.3L538.1 321.7L535.4 322.1L538.1 322.5L534.2 322.9L535.5 323.3L536.0 323.7L528.6 324.1L529.3 324.5L529.0 324.9L529.2 325.3L525.3 325.7L524.6 326.1L521.1 326.5L520.6 326.9L516.1 327.3L516.1 327.7L509.0 328.1L507.4 328.5L508.0 328.9L502.1 329.3L496.4 329.7L495.0 330.1L489.2 330.5L484.8 330.9L479.3 331.3L476.6 331.7L473.0 332.1L467.7 332.5L466.2 332.9L462.1 333.3L459.6 333.7L455.7 334.1L450.1 334.5L445.6 334.9L441.2 335.3L436.2 335.7L430.1 336.1L424.5 336.5L419.0 336.9L412.8 337.3L406.9 337.7L399.5 338.1L391.8 338.5L384.6 338.9L379.5 339.3" fill="none" stroke="#e04444" stroke-width="1.2" stroke-opacity="0.95" stroke-dasharray="1.1 1.5" clip-path="url(#cb)"/>
<path d="M450.7 20.1L450.8 20.5L451.2 20.9L446.8 21.3L451.1 21.7L443.4 22.1L451.4 22.5L449.7 22.9L459.7 23.3L454.8 23.7L452.6 24.1L454.1 24.5L456.2 24.9L451.0 25.3L453.0 25.7L452.7 26.1L463.0 26.5L454.5 26.9L447.3 27.3L457.3 27.7L463.8 28.1L451.2 28.5L467.3 28.9L454.7 29.3L458.6 29.7L453.1 30.1L454.3 30.5L450.9 30.9L451.6 31.3L447.8 31.7L459.8 32.1L451.6 32.5L457.2 32.9L457.1 33.3L453.7 33.7L456.3 34.1L455.9 34.5L454.6 34.9L456.6 35.3L456.7 35.7L453.0 36.1L452.1 36.5L453.8 36.9L457.4 37.3L462.1 37.7L462.5 38.1L458.4 38.5L460.8 38.9L457.9 39.3L461.6 39.7L458.2 40.1L459.2 40.5L456.9 40.9L458.0 41.3L465.0 41.7L453.9 42.1L458.4 42.5L456.4 42.9L462.1 43.3L465.3 43.7L457.7 44.1L449.0 44.5L461.3 44.9L461.4 45.3L453.3 45.7L458.6 46.1L459.4 46.5L451.4 46.9L462.3 47.3L461.6 47.7L461.0 48.1L456.4 48.5L457.8 48.9L458.2 49.3L462.4 49.7L457.2 50.1L466.2 50.5L462.4 50.9L453.2 51.3L467.4 51.7L462.0 52.1L459.5 52.5L462.0 52.9L455.1 53.3L462.6 53.7L453.1 54.1L458.4 54.5L467.2 54.9L466.9 55.3L461.2 55.7L459.1 56.1L466.1 56.5L462.6 56.9L463.7 57.3L465.3 57.7L459.2 58.1L466.1 58.5L455.6 58.9L468.7 59.3L457.8 59.7L461.3 60.1L461.3 60.5L466.4 60.9L466.6 61.3L465.2 61.7L466.0 62.1L465.8 62.5L463.9 62.9L457.3 63.3L455.9 63.7L456.0 64.1L464.2 64.5L463.6 64.9L464.0 65.3L465.4 65.7L463.8 66.1L461.0 66.5L459.2 66.9L457.9 67.3L469.3 67.7L468.2 68.1L460.0 68.5L464.0 68.9L466.6 69.3L470.9 69.7L462.9 70.1L465.8 70.5L469.4 70.9L458.9 71.3L462.6 71.7L465.2 72.1L462.7 72.5L473.1 72.9L468.6 73.3L466.2 73.7L462.0 74.1L468.7 74.5L467.9 74.9L463.7 75.3L464.1 75.7L460.4 76.1L465.5 76.5L469.0 76.9L469.5 77.3L468.0 77.7L468.9 78.1L463.8 78.5L464.3 78.9L470.4 79.3L467.7 79.7L463.2 80.1L468.0 80.5L469.3 80.9L468.8 81.3L466.7 81.7L464.5 82.1L467.9 82.5L472.7 82.9L467.1 83.3L464.1 83.7L467.9 84.1L462.2 84.5L467.6 84.9L465.7 85.3L470.3 85.7L467.3 86.1L470.8 86.5L475.4 86.9L466.3 87.3L464.1 87.7L468.9 88.1L466.9 88.5L467.8 88.9L465.2 89.3L469.5 89.7L467.8 90.1L459.7 90.5L466.8 90.9L468.9 91.3L472.1 91.7L465.7 92.1L465.0 92.5L472.1 92.9L465.8 93.3L468.5 93.7L469.9 94.1L470.9 94.5L468.3 94.9L464.3 95.3L472.1 95.7L466.9 96.1L466.7 96.5L475.9 96.9L471.9 97.3L464.9 97.7L467.1 98.1L468.0 98.5L466.3 98.9L462.1 99.3L472.1 99.7L472.0 100.1L470.2 100.5L467.9 100.9L470.2 101.3L471.8 101.7L465.8 102.1L468.4 102.5L467.7 102.9L472.3 103.3L470.8 103.7L465.2 104.1L467.8 104.5L476.5 104.9L466.6 105.3L470.8 105.7L468.0 106.1L474.9 106.5L470.2 106.9L468.9 107.3L466.3 107.7L469.8 108.1L473.8 108.5L473.3 108.9L466.1 109.3L476.6 109.7L470.2 110.1L467.3 110.5L471.7 110.9L469.0 111.3L469.3 111.7L469.1 112.1L471.2 112.5L469.8 112.9L465.5 113.3L473.6 113.7L469.9 114.1L476.2 114.5L473.9 114.9L474.3 115.3L472.8 115.7L476.9 116.1L471.1 116.5L468.7 116.9L473.7 117.3L462.6 117.7L471.2 118.1L473.4 118.5L471.2 118.9L477.3 119.3L475.4 119.7L473.4 120.1L471.6 120.5L477.1 120.9L470.7 121.3L471.7 121.7L476.0 122.1L475.6 122.5L480.8 122.9L472.8 123.3L466.8 123.7L476.1 124.1L478.3 124.5L473.2 124.9L479.6 125.3L480.4 125.7L471.7 126.1L472.4 126.5L469.7 126.9L476.3 127.3L477.0 127.7L476.7 128.1L470.1 128.5L471.9 128.9L469.6 129.3L469.1 129.7L470.1 130.1L469.4 130.5L474.5 130.9L476.7 131.3L477.6 131.7L475.4 132.1L473.1 132.5L475.6 132.9L477.8 133.3L474.8 133.7L476.1 134.1L474.9 134.5L474.3 134.9L476.4 135.3L472.4 135.7L480.1 136.1L471.0 136.5L478.2 136.9L471.9 137.3L482.1 137.7L479.9 138.1L474.1 138.5L475.5 138.9L473.2 139.3L477.0 139.7L478.7 140.1L486.3 140.5L472.7 140.9L481.8 141.3L475.5 141.7L478.6 142.1L480.7 142.5L479.6 142.9L479.3 143.3L477.1 143.7L477.8 144.1L478.4 144.5L482.1 144.9L472.9 145.3L476.3 145.7L473.7 146.1L474.7 146.5L475.2 146.9L481.8 147.3L485.4 147.7L482.7 148.1L473.9 148.5L478.3 148.9L474.1 149.3L479.5 149.7L482.3 150.1L480.0 150.5L481.0 150.9L477.5 151.3L471.3 151.7L471.2 152.1L477.7 152.5L480.0 152.9L482.3 153.3L476.8 153.7L478.3 154.1L478.9 154.5L481.6 154.9L477.8 155.3L474.3 155.7L481.7 156.1L479.4 156.5L479.3 156.9L473.7 157.3L478.0 157.7L472.2 158.1L471.3 158.5L477.2 158.9L476.5 159.3L479.9 159.7L482.8 160.1L477.9 160.5L484.0 160.9L476.0 161.3L480.5 161.7L473.8 162.1L478.4 162.5L476.9 162.9L477.3 163.3L480.0 163.7L471.7 164.1L478.3 164.5L475.2 164.9L478.1 165.3L478.9 165.7L476.2 166.1L476.1 166.5L473.3 166.9L478.7 167.3L474.4 167.7L477.8 168.1L471.4 168.5L480.3 168.9L472.1 169.3L479.0 169.7L473.4 170.1L476.4 170.5L473.8 170.9L476.2 171.3L473.6 171.7L477.5 172.1L475.2 172.5L474.9 172.9L477.9 173.3L469.5 173.7L476.0 174.1L471.5 174.5L465.9 174.9L472.3 175.3L469.7 175.7L475.9 176.1L468.2 176.5L469.8 176.9L470.2 177.3L462.5 177.7L470.7 178.1L465.2 178.5L473.3 178.9L474.0 179.3L467.9 179.7L462.2 180.1L468.1 180.5L467.8 180.9L469.5 181.3L465.6 181.7L462.1 182.1L465.5 182.5L462.4 182.9L471.7 183.3L462.5 183.7L462.4 184.1L464.2 184.5L459.5 184.9L461.9 185.3L462.7 185.7L461.0 186.1L461.4 186.5L466.5 186.9L463.1 187.3L456.1 187.7L459.0 188.1L462.9 188.5L457.2 188.9L459.5 189.3L458.6 189.7L460.2 190.1L457.0 190.5L456.6 190.9L453.3 191.3L457.5 191.7L451.9 192.1L461.8 192.5L454.4 192.9L453.0 193.3L456.4 193.7L452.4 194.1L452.5 194.5L451.4 194.9L448.1 195.3L446.7 195.7L447.0 196.1L453.8 196.5L446.0 196.9L446.3 197.3L445.4 197.7L449.4 198.1L454.0 198.5L441.3 198.9L446.6 199.3L444.0 199.7L441.4 200.1L443.9 200.5L435.7 200.9L443.4 201.3L440.0 201.7L434.1 202.1L443.8 202.5L439.9 202.9L440.3 203.3L428.6 203.7L432.6 204.1L430.7 204.5L434.5 204.9L436.7 205.3L422.5 205.7L429.6 206.1L428.2 206.5L432.1 206.9L427.2 207.3L421.5 207.7L425.3 208.1L421.3 208.5L421.8 208.9L424.6 209.3L421.9 209.7L424.5 210.1L416.7 210.5L431.4 210.9L426.6 211.3L423.7 211.7L415.3 212.1L411.4 212.5L415.5 212.9L416.9 213.3L424.8 213.7L420.1 214.1L412.2 214.5L416.7 214.9L415.1 215.3L409.3 215.7L411.5 216.1L406.8 216.5L401.8 216.9L398.5 217.3L400.1 217.7L402.0 218.1L393.2 218.5L391.1 218.9L395.3 219.3L385.8 219.7L394.4 220.1L388.0 220.5L388.4 220.9L388.1 221.3L382.7 221.7L382.0 222.1" fill="none" stroke="#3f49b4" stroke-width="1.2" stroke-opacity="0.95" stroke-dasharray="1.1 1.5" clip-path="url(#cb)"/>
<path d="M452.5 20.1L444.9 20.4L445.5 20.7L446.7 21.0L449.4 21.4L450.3 21.7L446.7 22.0L445.4 22.3L446.4 22.6L447.6 23.0L450.7 23.3L447.2 23.6L452.5 23.9L444.4 24.2L448.7 24.6L452.5 24.9L451.2 25.2L448.3 25.5L444.6 25.8L445.2 26.2L447.0 26.5L448.5 26.8L446.9 27.1L443.2 27.4L445.5 27.8L449.4 28.1L450.4 28.4L443.6 28.7L446.8 29.0L442.9 29.4L446.3 29.7L459.0 30.0L448.4 30.3L447.2 30.6L446.5 31.0L444.6 31.3L442.7 31.6L448.3 31.9L447.6 32.2L453.0 32.6L443.5 32.9L449.9 33.2L452.7 33.5L442.7 33.8L450.7 34.2L443.8 34.5L450.4 34.8L453.4 35.1L448.9 35.4L449.8 35.8L446.9 36.1L449.9 36.4L452.5 36.7L448.6 37.0L448.7 37.4L450.4 37.7L451.8 38.0L444.3 38.3L449.6 38.6L447.3 39.0L451.0 39.3L452.7 39.6L450.6 39.9L453.6 40.2L446.7 40.6L448.5 40.9L446.8 41.2L450.1 41.5L450.3 41.8L449.4 42.2L446.4 42.5L450.0 42.8L448.9 43.1L452.2 43.4L449.6 43.8L454.1 44.1L451.3 44.4L445.0 44.7L450.3 45.0L446.5 45.4L454.0 45.7L455.5 46.0L451.1 46.3L452.6 46.6L446.9 47.0L444.6 47.3L449.9 47.6L450.9 47.9L447.1 48.2L452.2 48.6L452.9 48.9L454.1 49.2L456.9 49.5L454.8 49.8L451.3 50.2L452.8 50.5L454.5 50.8L449.5 51.1L456.9 51.4L455.7 51.8L452.3 52.1L451.2 52.4L464.9 52.7L455.9 53.0L456.3 53.4L459.0 53.7L456.6 54.0L454.4 54.3L456.0 54.6L451.1 55.0L456.2 55.3L449.4 55.6L455.5 55.9L456.0 56.2L449.6 56.6L460.3 56.9L451.0 57.2L457.8 57.5L453.1 57.8L455.7 58.2L452.8 58.5L462.6 58.8L458.1 59.1L460.6 59.4L457.5 59.8L457.3 60.1L455.7 60.4L454.5 60.7L457.2 61.0L455.9 61.4L455.0 61.7L451.2 62.0L454.6 62.3L457.4 62.6L454.1 63.0L456.7 63.3L455.2 63.6L452.5 63.9L452.9 64.2L453.4 64.6L454.8 64.9L454.9 65.2L459.2 65.5L452.4 65.8L449.5 66.2L457.9 66.5L454.4 66.8L455.5 67.1L463.7 67.4L460.4 67.8L457.7 68.1L458.8 68.4L456.3 68.7L458.9 69.0L454.1 69.4L453.8 69.7L454.5 70.0L460.8 70.3L460.8 70.6L454.1 71.0L459.6 71.3L455.5 71.6L459.4 71.9L455.1 72.2L459.0 72.6L455.7 72.9L455.2 73.2L456.0 73.5L456.6 73.8L454.3 74.2L451.9 74.5L461.4 74.8L455.0 75.1L450.6 75.4L449.2 75.8L447.6 76.1L454.3 76.4L460.4 76.7L451.2 77.0L455.3 77.4L450.6 77.7L459.7 78.0L457.4 78.3L457.3 78.6L460.5 79.0L461.4 79.3L459.5 79.6L454.6 79.9L452.3 80.2L453.2 80.6L451.0 80.9L462.0 81.2L455.9 81.5L456.9 81.8L457.1 82.2L462.7 82.5L454.8 82.8L460.2 83.1L457.5 83.4L456.1 83.8L450.7 84.1L459.5 84.4L454.4 84.7L455.3 85.0L457.5 85.4L457.1 85.7L460.3 86.0L454.8 86.3L457.4 86.6L457.8 87.0L457.1 87.3L459.2 87.6L456.3 87.9L460.9 88.2L455.0 88.6L452.8 88.9L457.2 89.2L461.1 89.5L455.9 89.8L455.6 90.2L456.5 90.5L458.2 90.8L457.2 91.1L458.8 91.4L452.6 91.8L462.6 92.1L459.8 92.4L455.4 92.7L462.4 93.0L459.6 93.4L462.9 93.7L454.8 94.0L463.6 94.3L458.7 94.6L452.3 95.0L461.0 95.3L457.9 95.6L455.7 95.9L458.3 96.2L453.0 96.6L460.9 96.9L458.5 97.2L458.5 97.5L463.7 97.8L459.6 98.2L457.5 98.5L456.7 98.8L459.5 99.1L463.1 99.4L458.1 99.8L456.7 100.1L462.9 100.4L460.3 100.7L460.1 101.0L466.7 101.4L456.6 101.7L461.1 102.0L455.0 102.3L459.7 102.6L462.5 103.0L464.2 103.3L456.9 103.6L463.5 103.9L463.4 104.2L460.7 104.6L468.7 104.9L461.2 105.2L458.6 105.5L462.7 105.8L455.7 106.2L466.3 106.5L464.6 106.8L460.4 107.1L463.6 107.4L463.5 107.8L467.9 108.1L460.1 108.4L458.1 108.7L455.9 109.0L461.3 109.4L457.5 109.7L461.8 110.0L463.7 110.3L461.2 110.6L459.7 111.0L466.4 111.3L462.2 111.6L463.6 111.9L465.9 112.2L459.0 112.6L460.3 112.9L470.9 113.2L462.8 113.5L460.2 113.8L462.7 114.2L461.8 114.5L459.9 114.8L462.5 115.1L463.8 115.4L463.9 115.8L465.6 116.1L458.7 116.4L459.5 116.7L466.7 117.0L462.9 117.4L468.1 117.7L465.4 118.0L460.2 118.3L466.3 118.6L461.6 119.0L465.6 119.3L468.7 119.6L471.5 119.9L464.8 120.2L467.2 120.6L466.1 120.9L467.7 121.2L457.4 121.5L464.2 121.8L466.3 122.2L466.9 122.5L463.2 122.8L468.2 123.1L469.1 123.4L466.0 123.8L465.1 124.1L464.8 124.4L466.4 124.7L469.6 125.0L470.7 125.4L464.6 125.7L463.3 126.0L463.8 126.3L469.3 126.6L467.0 127.0L467.3 127.3L467.9 127.6L467.6 127.9L466.1 128.2L463.4 128.6L464.7 128.9L467.0 129.2L467.9 129.5L465.6 129.8L465.5 130.2L471.0 130.5L465.5 130.8L467.6 131.1L466.0 131.4L464.4 131.8L462.5 132.1L465.5 132.4L464.7 132.7L469.8 133.0L463.8 133.4L466.0 133.7L469.3 134.0L467.0 134.3L468.9 134.6L470.0 135.0L462.5 135.3L466.3 135.6L464.7 135.9L471.7 136.2L467.3 136.6L469.2 136.9L472.8 137.2L466.7 137.5L468.0 137.8L469.1 138.2L467.1 138.5L471.7 138.8L470.4 139.1L471.0 139.4L468.2 139.8L467.0 140.1L467.0 140.4L467.0 140.7L463.3 141.0L469.3 141.4L470.6 141.7L468.2 142.0L466.8 142.3L468.4 142.6L469.0 143.0L469.3 143.3L473.7 143.6L465.9 143.9L469.5 144.2L470.5 144.6L468.7 144.9L467.8 145.2L465.5 145.5L466.8 145.8L470.6 146.2L472.8 146.5L466.7 146.8L470.0 147.1L470.2 147.4L471.6 147.8L469.4 148.1L470.0 148.4L471.3 148.7L465.4 149.0L468.9 149.4L463.7 149.7L463.1 150.0L466.4 150.3L464.4 150.6L470.3 151.0L471.7 151.3L468.0 151.6L468.5 151.9L468.2 152.2L468.2 152.6L469.3 152.9L470.0 153.2L467.6 153.5L466.7 153.8L467.5 154.2L471.3 154.5L467.8 154.8L473.2 155.1L468.3 155.4L472.9 155.8L465.7 156.1L467.1 156.4L470.4 156.7L470.5 157.0L468.6 157.4L474.9 157.7L469.3 158.0L469.9 158.3L467.5 158.6L473.8 159.0L471.5 159.3L470.3 159.6L464.5 159.9L470.1 160.2L467.8 160.6L470.2 160.9L471.6 161.2L466.9 161.5L469.6 161.8L471.4 162.2L469.4 162.5L468.0 162.8L465.9 163.1L466.9 163.4L465.2 163.8L471.5 164.1L469.0 164.4L465.2 164.7L468.6 165.0L464.9 165.4L459.3 165.7L471.8 166.0L471.7 166.3L464.2 166.6L466.2 167.0L468.8 167.3L467.1 167.6L465.7 167.9L466.6 168.2L467.2 168.6L466.2 168.9L468.2 169.2L466.8 169.5L465.2 169.8L467.2 170.2L462.2 170.5L470.8 170.8L461.6 171.1L466.0 171.4L467.0 171.8L466.9 172.1L466.3 172.4L468.8 172.7L461.9 173.0L464.6 173.4L465.0 173.7L463.0 174.0L462.5 174.3L467.5 174.6L461.7 175.0L462.2 175.3L462.6 175.6L462.6 175.9L463.5 176.2L462.4 176.6L463.9 176.9L463.1 177.2L464.0 177.5L466.6 177.8L460.0 178.2L467.3 178.5L461.0 178.8L464.3 179.1L462.7 179.4L461.2 179.8L455.9 180.1L467.0 180.4L459.4 180.7L459.2 181.0L465.1 181.4L461.7 181.7L467.6 182.0L466.8 182.3L463.4 182.6L461.6 183.0L463.0 183.3L455.5 183.6L460.0 183.9L459.4 184.2L456.7 184.6L458.6 184.9L452.0 185.2L459.9 185.5L460.8 185.8L451.0 186.2L455.8 186.5L460.7 186.8L456.1 187.1L450.2 187.4L449.9 187.8L456.7 188.1L460.2 188.4L448.3 188.7L452.3 189.0L448.6 189.4L450.2 189.7L452.1 190.0L450.2 190.3L447.0 190.6L458.3 191.0L448.1 191.3L447.5 191.6L452.5 191.9L447.1 192.2L445.5 192.6L450.0 192.9L440.5 193.2L447.8 193.5L448.4 193.8L446.1 194.2L441.6 194.5L441.7 194.8L433.2 195.1L439.7 195.4L441.0 195.8L442.9 196.1L438.9 196.4L435.7 196.7L432.9 197.0L435.8 197.4L435.9 197.7L440.1 198.0L433.7 198.3L430.6 198.6L431.6 199.0L429.1 199.3L429.5 199.6L419.3 199.9L421.4 200.2L422.5 200.6L429.6 200.9L426.2 201.2L426.4 201.5L430.5 201.8L419.0 202.2L428.7 202.5L424.2 202.8L418.0 203.1L427.9 203.4L412.9 203.8L413.5 204.1L417.1 204.4L419.3 204.7L415.6 205.0L405.2 205.4L413.4 205.7L413.7 206.0L425.8 206.3L419.2 206.6L412.3 207.0L405.6 207.3L411.7 207.6L403.7 207.9L409.5 208.2L409.5 208.6L405.1 208.9L407.5 209.2L404.1 209.5L402.4 209.8L411.6 210.2L406.6 210.5L401.9 210.8L399.3 211.1L403.2 211.4L404.4 211.8L405.3 212.1L407.6 212.4L402.5 212.7L394.9 213.0L408.6 213.4L404.2 213.7L402.2 214.0L403.8 214.3L391.1 214.6L395.4 215.0L394.3 215.3L400.4 215.6L390.6 215.9L393.3 216.2L399.5 216.6L395.6 216.9L391.3 217.2L398.3 217.5L387.1 217.8L392.2 218.2L389.4 218.5L390.9 218.8L388.0 219.1L385.8 219.4L388.1 219.8L383.7 220.1L387.8 220.4L385.4 220.7L387.3 221.0L384.4 221.4L383.7 221.7L384.1 222.0L383.6 222.3L380.8 222.6L380.3 223.0" fill="none" stroke="#2b36a8" stroke-width="1.7" stroke-opacity="1.0" stroke-linejoin="round" clip-path="url(#cb)"/>
<path d="M433.5 20.1L427.6 20.4L429.4 20.7L434.0 21.0L429.8 21.4L430.4 21.7L437.5 22.0L429.8 22.3L430.1 22.6L425.9 23.0L429.6 23.3L429.4 23.6L438.2 23.9L436.8 24.2L429.6 24.6L439.2 24.9L435.8 25.2L433.1 25.5L436.1 25.8L434.9 26.2L431.6 26.5L428.8 26.8L431.4 27.1L434.2 27.4L433.2 27.8L432.2 28.1L437.4 28.4L431.4 28.7L437.3 29.0L433.3 29.4L435.2 29.7L431.6 30.0L435.0 30.3L432.8 30.6L430.0 31.0L435.2 31.3L435.2 31.6L437.9 31.9L436.4 32.2L432.6 32.6L433.9 32.9L428.4 33.2L432.5 33.5L439.8 33.8L440.5 34.2L438.3 34.5L437.1 34.8L438.0 35.1L437.8 35.4L431.3 35.8L433.9 36.1L440.1 36.4L440.2 36.7L437.5 37.0L435.9 37.4L435.8 37.7L435.4 38.0L434.3 38.3L431.4 38.6L437.7 39.0L436.0 39.3L436.8 39.6L442.6 39.9L439.3 40.2L435.6 40.6L439.5 40.9L433.4 41.2L441.0 41.5L438.8 41.8L437.5 42.2L439.9 42.5L442.6 42.8L437.0 43.1L435.5 43.4L444.8 43.8L438.7 44.1L443.1 44.4L436.8 44.7L440.0 45.0L437.1 45.4L441.0 45.7L438.3 46.0L437.3 46.3L444.0 46.6L440.4 47.0L433.5 47.3L438.9 47.6L437.0 47.9L436.2 48.2L438.2 48.6L438.6 48.9L440.2 49.2L437.8 49.5L434.7 49.8L438.8 50.2L443.1 50.5L436.5 50.8L442.5 51.1L442.1 51.4L439.5 51.8L441.8 52.1L438.8 52.4L439.9 52.7L438.1 53.0L442.6 53.4L445.4 53.7L439.4 54.0L445.1 54.3L435.2 54.6L439.0 55.0L438.8 55.3L447.0 55.6L440.2 55.9L444.3 56.2L436.0 56.6L442.5 56.9L443.9 57.2L442.2 57.5L434.3 57.8L443.0 58.2L445.0 58.5L446.6 58.8L443.9 59.1L437.7 59.4L442.2 59.8L445.6 60.1L440.6 60.4L444.8 60.7L441.7 61.0L443.5 61.4L445.5 61.7L441.2 62.0L452.0 62.3L443.9 62.6L444.5 63.0L441.4 63.3L443.8 63.6L442.9 63.9L439.4 64.2L439.2 64.6L444.7 64.9L443.6 65.2L436.1 65.5L437.6 65.8L443.1 66.2L443.9 66.5L446.0 66.8L440.5 67.1L446.0 67.4L443.4 67.8L442.8 68.1L444.0 68.4L447.4 68.7L446.1 69.0L447.2 69.4L442.5 69.7L443.7 70.0L441.2 70.3L443.0 70.6L443.5 71.0L443.4 71.3L446.9 71.6L446.1 71.9L447.2 72.2L445.3 72.6L448.2 72.9L445.3 73.2L447.9 73.5L446.6 73.8L447.3 74.2L445.0 74.5L441.5 74.8L440.9 75.1L451.2 75.4L446.5 75.8L446.7 76.1L444.9 76.4L444.1 76.7L454.1 77.0L442.2 77.4L445.4 77.7L445.5 78.0L442.3 78.3L441.9 78.6L443.6 79.0L444.8 79.3L444.4 79.6L448.3 79.9L442.4 80.2L447.2 80.6L450.4 80.9L448.7 81.2L442.7 81.5L437.3 81.8L448.7 82.2L447.8 82.5L444.6 82.8L450.2 83.1L445.2 83.4L446.8 83.8L443.4 84.1L447.5 84.4L445.4 84.7L445.2 85.0L450.0 85.4L447.5 85.7L442.4 86.0L449.0 86.3L449.5 86.6L444.6 87.0L445.9 87.3L447.3 87.6L446.5 87.9L447.7 88.2L449.3 88.6L446.0 88.9L453.7 89.2L445.4 89.5L446.0 89.8L453.5 90.2L454.8 90.5L447.9 90.8L447.3 91.1L444.8 91.4L451.4 91.8L448.6 92.1L445.7 92.4L449.4 92.7L452.4 93.0L450.4 93.4L455.0 93.7L451.9 94.0L449.9 94.3L448.6 94.6L450.4 95.0L452.4 95.3L451.4 95.6L452.1 95.9L449.7 96.2L451.4 96.6L452.7 96.9L448.8 97.2L445.5 97.5L454.5 97.8L451.2 98.2L448.3 98.5L450.3 98.8L449.0 99.1L444.8 99.4L449.3 99.8L445.8 100.1L450.6 100.4L449.8 100.7L453.5 101.0L449.9 101.4L451.4 101.7L449.5 102.0L449.4 102.3L446.5 102.6L453.5 103.0L451.2 103.3L449.1 103.6L451.5 103.9L449.8 104.2L448.9 104.6L451.9 104.9L454.7 105.2L450.5 105.5L447.2 105.8L449.7 106.2L456.7 106.5L449.3 106.8L455.1 107.1L451.1 107.4L454.0 107.8L451.6 108.1L447.5 108.4L450.9 108.7L458.3 109.0L451.9 109.4L454.0 109.7L451.5 110.0L452.1 110.3L453.5 110.6L454.1 111.0L459.1 111.3L452.8 111.6L452.4 111.9L451.1 112.2L449.3 112.6L448.6 112.9L455.2 113.2L448.0 113.5L457.5 113.8L456.0 114.2L452.8 114.5L450.4 114.8L453.9 115.1L453.9 115.4L457.2 115.8L451.9 116.1L453.0 116.4L454.0 116.7L453.5 117.0L452.6 117.4L449.6 117.7L449.9 118.0L452.7 118.3L454.1 118.6L457.6 119.0L461.4 119.3L459.8 119.6L456.1 119.9L460.4 120.2L454.9 120.6L453.8 120.9L461.9 121.2L452.4 121.5L454.3 121.8L454.8 122.2L459.8 122.5L454.1 122.8L458.0 123.1L454.8 123.4L452.6 123.8L456.7 124.1L456.6 124.4L453.0 124.7L453.9 125.0L454.2 125.4L459.2 125.7L457.8 126.0L457.3 126.3L458.1 126.6L455.4 127.0L458.2 127.3L455.2 127.6L453.3 127.9L455.1 128.2L457.8 128.6L457.5 128.9L460.3 129.2L452.7 129.5L456.9 129.8L458.7 130.2L455.0 130.5L458.4 130.8L456.7 131.1L454.8 131.4L461.1 131.8L454.2 132.1L460.9 132.4L457.1 132.7L455.7 133.0L455.9 133.4L456.4 133.7L456.2 134.0L459.3 134.3L453.5 134.6L462.2 135.0L461.1 135.3L462.7 135.6L456.3 135.9L452.7 136.2L457.4 136.6L458.8 136.9L460.2 137.2L458.0 137.5L459.3 137.8L460.0 138.2L455.4 138.5L464.7 138.8L456.7 139.1L460.6 139.4L462.9 139.8L457.9 140.1L460.1 140.4L464.7 140.7L459.5 141.0L463.2 141.4L461.2 141.7L461.2 142.0L462.6 142.3L460.1 142.6L460.2 143.0L463.5 143.3L461.6 143.6L462.4 143.9L457.9 144.2L461.2 144.6L464.5 144.9L463.8 145.2L462.4 145.5L460.1 145.8L459.9 146.2L462.9 146.5L465.6 146.8L461.9 147.1L465.4 147.4L461.2 147.8L465.3 148.1L459.5 148.4L462.7 148.7L459.4 149.0L464.2 149.4L464.0 149.7L460.0 150.0L460.6 150.3L461.5 150.6L458.8 151.0L460.4 151.3L460.6 151.6L465.1 151.9L466.8 152.2L462.0 152.6L462.5 152.9L463.9 153.2L462.1 153.5L462.8 153.8L465.8 154.2L464.3 154.5L463.5 154.8L462.3 155.1L467.8 155.4L462.4 155.8L464.4 156.1L461.4 156.4L462.7 156.7L464.6 157.0L463.4 157.4L465.9 157.7L464.8 158.0L461.0 158.3L458.6 158.6L467.4 159.0L463.4 159.3L468.9 159.6L465.1 159.9L463.1 160.2L466.7 160.6L464.6 160.9L465.4 161.2L463.0 161.5L467.2 161.8L468.5 162.2L464.3 162.5L470.4 162.8L464.4 163.1L466.6 163.4L461.7 163.8L461.1 164.1L471.7 164.4L470.0 164.7L469.3 165.0L462.0 165.4L467.1 165.7L467.7 166.0L466.9 166.3L467.5 166.6L464.4 167.0L466.5 167.3L464.0 167.6L466.1 167.9L468.1 168.2L465.2 168.6L466.6 168.9L466.3 169.2L467.5 169.5L469.9 169.8L468.2 170.2L468.7 170.5L464.0 170.8L466.9 171.1L470.0 171.4L465.8 171.8L466.9 172.1L465.6 172.4L471.6 172.7L467.1 173.0L466.5 173.4L470.0 173.7L471.3 174.0L469.9 174.3L471.2 174.6L469.3 175.0L468.5 175.3L467.8 175.6L467.7 175.9L467.6 176.2L470.1 176.6L469.0 176.9L469.6 177.2L471.0 177.5L469.4 177.8L466.1 178.2L467.7 178.5L466.9 178.8L465.0 179.1L470.2 179.4L467.0 179.8L466.9 180.1L467.5 180.4L472.6 180.7L469.7 181.0L473.1 181.4L470.4 181.7L469.7 182.0L472.3 182.3L472.5 182.6L471.4 183.0L468.6 183.3L470.2 183.6L468.5 183.9L470.9 184.2L471.9 184.6L475.6 184.9L475.5 185.2L473.8 185.5L474.6 185.8L472.9 186.2L479.5 186.5L476.5 186.8L479.4 187.1L473.9 187.4L474.1 187.8L475.8 188.1L473.8 188.4L474.3 188.7L471.2 189.0L476.1 189.4L474.3 189.7L476.1 190.0L473.7 190.3L469.9 190.6L475.8 191.0L477.6 191.3L471.6 191.6L472.5 191.9L474.3 192.2L474.6 192.6L471.2 192.9L479.9 193.2L478.2 193.5L474.3 193.8L471.5 194.2L477.0 194.5L481.1 194.8L478.4 195.1L479.4 195.4L474.3 195.8L477.4 196.1L473.3 196.4L482.0 196.7L478.6 197.0L472.2 197.4L473.0 197.7L478.9 198.0L478.2 198.3L477.2 198.6L479.7 199.0L483.2 199.3L479.4 199.6L474.2 199.9L478.4 200.2L475.7 200.6L477.1 200.9L480.0 201.2L479.0 201.5L476.9 201.8L479.6 202.2L477.8 202.5L481.3 202.8L479.5 203.1L481.2 203.4L479.8 203.8L482.4 204.1L480.4 204.4L480.8 204.7L479.6 205.0L481.5 205.4L477.0 205.7L487.9 206.0L479.9 206.3L481.9 206.6L480.7 207.0L480.8 207.3L483.1 207.6L481.0 207.9L481.3 208.2L479.2 208.6L480.4 208.9L479.9 209.2L487.2 209.5L479.8 209.8L480.5 210.2L483.7 210.5L486.7 210.8L479.4 211.1L479.8 211.4L483.9 211.8L484.5 212.1L480.4 212.4L479.6 212.7L481.7 213.0L485.9 213.4L484.1 213.7L486.0 214.0L484.1 214.3L484.3 214.6L486.0 215.0L484.3 215.3L485.2 215.6L482.6 215.9L483.4 216.2L486.0 216.6L484.4 216.9L483.3 217.2L486.7 217.5L486.6 217.8L485.3 218.2L483.7 218.5L487.7 218.8L491.5 219.1L483.8 219.4L482.2 219.8L484.1 220.1L483.8 220.4L483.2 220.7L483.5 221.0L488.4 221.4L488.5 221.7L490.1 222.0L488.5 222.3L485.7 222.6L489.5 223.0L485.7 223.3L486.5 223.6L484.7 223.9L490.5 224.2L490.2 224.6L486.9 224.9L487.5 225.2L488.5 225.5L489.1 225.8L490.8 226.2L489.2 226.5L490.2 226.8L486.0 227.1L489.0 227.4L485.8 227.8L494.3 228.1L493.7 228.4L492.4 228.7L493.6 229.0L495.9 229.4L493.7 229.7L488.1 230.0L491.6 230.3L486.9 230.6L490.7 231.0L490.0 231.3L493.1 231.6L494.3 231.9L491.5 232.2L493.3 232.6L494.9 232.9L494.1 233.2L494.3 233.5L489.5 233.8L494.3 234.2L497.3 234.5L496.4 234.8L492.7 235.1L495.7 235.4L497.1 235.8L494.6 236.1L498.5 236.4L495.4 236.7L496.7 237.0L497.4 237.4L502.9 237.7L497.4 238.0L497.0 238.3L500.1 238.6L497.6 239.0L499.3 239.3L493.9 239.6L499.8 239.9L499.3 240.2L496.5 240.6L502.6 240.9L499.2 241.2L499.4 241.5L497.0 241.8L496.4 242.2L498.9 242.5L496.9 242.8L501.5 243.1L502.5 243.4L499.2 243.8L497.1 244.1L499.9 244.4L498.6 244.7L501.4 245.0L501.5 245.4L500.3 245.7L501.5 246.0L503.7 246.3L505.3 246.6L500.4 247.0L503.3 247.3L501.3 247.6L499.5 247.9L504.8 248.2L503.0 248.6L502.5 248.9L503.1 249.2L502.1 249.5L500.2 249.8L506.6 250.2L504.7 250.5L503.5 250.8L505.1 251.1L506.0 251.4L502.8 251.8L504.7 252.1L502.9 252.4L505.1 252.7L503.3 253.0L509.4 253.4L503.4 253.7L505.5 254.0L505.6 254.3L504.0 254.6L507.0 255.0L504.9 255.3L504.4 255.6L505.5 255.9L504.1 256.2L508.5 256.6L507.4 256.9L508.4 257.2L503.6 257.5L507.3 257.8L505.3 258.2L507.3 258.5L510.1 258.8L508.1 259.1L507.4 259.4L510.4 259.8L510.4 260.1" fill="none" stroke="#dc2a2a" stroke-width="1.7" stroke-opacity="1.0" stroke-linejoin="round" clip-path="url(#cb)"/>
<path d="M512.0 259.8L504.3 260.1L509.2 260.4L507.8 260.7L507.1 261.1L509.4 261.4L506.9 261.7L504.9 262.0L508.0 262.3L509.5 262.7L514.2 263.0L509.0 263.3L508.3 263.6L506.9 263.9L510.5 264.3L511.0 264.6L512.0 264.9L508.9 265.2L510.6 265.5L507.7 265.9L512.9 266.2L509.6 266.5L507.4 266.8L515.6 267.1L514.5 267.5L514.4 267.8L514.6 268.1L512.0 268.4L516.5 268.7L512.4 269.1L518.6 269.4L515.4 269.7L511.4 270.0L517.1 270.3L519.5 270.7L515.2 271.0L518.0 271.3L515.6 271.6L515.0 271.9L511.2 272.3L519.1 272.6L515.9 272.9L517.7 273.2L514.9 273.5L515.5 273.9L519.7 274.2L516.9 274.5L517.0 274.8L515.5 275.1L518.6 275.5L519.9 275.8L517.6 276.1L518.3 276.4L516.4 276.7L521.7 277.1L517.9 277.4L519.0 277.7L522.8 278.0L519.2 278.3L516.8 278.7L518.2 279.0L519.4 279.3L523.8 279.6L520.9 279.9L520.2 280.3L522.4 280.6L523.5 280.9L519.6 281.2L524.0 281.5L523.1 281.9L522.4 282.2L517.2 282.5L522.3 282.8L524.7 283.1L521.7 283.5L526.8 283.8L522.7 284.1L520.8 284.4L524.0 284.7L523.6 285.1L524.8 285.4L523.0 285.7L526.0 286.0L522.7 286.3L524.1 286.7L521.7 287.0L522.7 287.3L524.8 287.6L523.3 287.9L523.9 288.3L524.5 288.6L525.5 288.9L526.7 289.2L526.8 289.5L527.5 289.9L526.1 290.2L524.9 290.5L523.2 290.8L525.7 291.1L525.0 291.5L523.3 291.8L529.9 292.1L523.7 292.4L527.9 292.7L528.4 293.1L527.2 293.4L532.5 293.7L528.0 294.0L526.8 294.3L531.6 294.7L527.2 295.0L526.3 295.3L527.3 295.6L528.2 295.9L529.6 296.3L530.4 296.6L527.4 296.9L530.9 297.2L534.5 297.5L529.6 297.9L530.8 298.2L532.5 298.5L533.7 298.8L530.7 299.1L530.4 299.5L530.6 299.8L534.4 300.1L534.3 300.4L529.4 300.7L529.7 301.1L531.4 301.4L531.2 301.7L534.7 302.0L534.6 302.3L537.7 302.7L535.9 303.0L535.0 303.3L537.0 303.6L533.7 303.9L533.1 304.3L535.6 304.6L537.2 304.9L533.2 305.2L537.4 305.5L537.5 305.9L535.4 306.2L536.6 306.5L536.1 306.8L536.7 307.1L538.0 307.5L535.6 307.8L538.6 308.1L538.4 308.4L538.6 308.7L534.2 309.1L534.5 309.4L538.5 309.7L536.5 310.0L536.4 310.3L536.3 310.7L535.4 311.0L536.8 311.3L536.0 311.6L535.9 311.9L537.2 312.3L534.4 312.6L537.4 312.9L532.2 313.2L538.5 313.5L532.5 313.9L534.8 314.2L534.8 314.5L533.1 314.8L533.6 315.1L532.0 315.5L529.3 315.8L531.8 316.1L532.4 316.4L529.7 316.7L527.7 317.1L528.7 317.4L529.5 317.7L528.9 318.0L529.5 318.3L528.2 318.7L527.6 319.0L523.9 319.3L528.7 319.6L525.4 319.9L525.9 320.3L523.8 320.6L523.4 320.9L523.1 321.2L524.3 321.5L523.6 321.9L521.9 322.2L522.8 322.5L519.4 322.8L519.8 323.1L518.0 323.5L519.2 323.8L517.1 324.1L517.3 324.4L517.3 324.7L512.3 325.1L516.0 325.4L513.1 325.7L511.4 326.0L508.7 326.3L509.3 326.7L506.0 327.0L507.2 327.3L505.6 327.6L506.1 327.9L502.5 328.3L502.3 328.6L500.8 328.9L499.9 329.2L496.0 329.5L495.1 329.9L491.2 330.2L489.7 330.5L488.4 330.8L486.6 331.1L483.5 331.5L482.1 331.8L480.7 332.1L477.3 332.4L474.8 332.7L471.3 333.1L469.8 333.4L467.0 333.7L462.7 334.0L459.4 334.3L457.7 334.7L454.3 335.0L451.1 335.3L448.2 335.6L446.1 335.9L444.9 336.3L440.3 336.6L438.6 336.9L433.0 337.2L427.7 337.5L422.1 337.9L414.6 338.2L407.6 338.5L399.8 338.8L392.6 339.1L386.0 339.5L380.2 339.8" fill="none" stroke="#dc2a2a" stroke-width="2.1" stroke-opacity="1.0" stroke-linejoin="round" clip-path="url(#cb)"/>
<path d="M418.6 20.1L414.8 20.4L422.4 20.7L420.5 21.0L420.3 21.4L419.4 21.7L414.4 22.0L426.3 22.3L420.1 22.6L423.3 23.0L426.0 23.3L425.3 23.6L422.6 23.9L422.0 24.2L423.1 24.6L425.0 24.9L424.1 25.2L421.0 25.5L423.8 25.8L423.7 26.2L424.7 26.5L423.3 26.8L427.0 27.1L423.5 27.4L425.7 27.8L423.1 28.1L421.3 28.4L420.2 28.7L422.7 29.0L424.9 29.4L427.3 29.7L423.1 30.0L421.9 30.3L422.0 30.6L427.6 31.0L424.0 31.3L422.2 31.6L426.1 31.9L419.8 32.2L424.3 32.6L423.9 32.9L423.7 33.2L420.6 33.5L427.2 33.8L429.5 34.2L420.3 34.5L424.8 34.8L426.5 35.1L431.5 35.4L423.3 35.8L421.7 36.1L424.7 36.4L431.0 36.7L425.1 37.0L425.7 37.4L430.5 37.7L418.5 38.0L418.5 38.3L428.0 38.6L427.7 39.0L421.1 39.3L427.0 39.6L425.6 39.9L426.3 40.2L423.2 40.6L424.3 40.9L423.1 41.2L426.1 41.5L425.3 41.8L431.2 42.2L428.1 42.5L421.4 42.8L427.6 43.1L430.8 43.4L427.4 43.8L429.9 44.1L426.6 44.4L428.9 44.7L424.0 45.0L429.4 45.4L422.8 45.7L431.1 46.0L422.6 46.3L420.8 46.6L429.0 47.0L427.0 47.3L427.9 47.6L429.0 47.9L427.7 48.2L425.1 48.6L428.6 48.9L429.1 49.2L429.7 49.5L434.3 49.8L426.1 50.2L428.6 50.5L430.2 50.8L427.2 51.1L425.0 51.4L427.1 51.8L432.2 52.1L428.2 52.4L431.0 52.7L426.9 53.0L430.7 53.4L427.3 53.7L426.9 54.0L429.9 54.3L429.8 54.6L434.3 55.0L424.9 55.3L431.5 55.6L435.0 55.9L434.3 56.2L429.1 56.6L428.2 56.9L428.9 57.2L431.4 57.5L431.2 57.8L431.8 58.2L432.6 58.5L427.6 58.8L427.5 59.1L427.3 59.4L427.0 59.8L430.9 60.1L432.3 60.4L439.2 60.7L433.1 61.0L431.6 61.4L436.0 61.7L429.5 62.0L432.9 62.3L434.9 62.6L434.4 63.0L433.3 63.3L431.1 63.6L428.4 63.9L431.9 64.2L430.6 64.6L434.6 64.9L432.2 65.2L434.4 65.5L427.8 65.8L435.8 66.2L430.3 66.5L428.2 66.8L428.8 67.1L431.2 67.4L436.7 67.8L435.5 68.1L429.7 68.4L433.7 68.7L433.2 69.0L428.8 69.4L430.6 69.7L427.5 70.0L431.1 70.3L425.7 70.6L431.5 71.0L431.1 71.3L431.6 71.6L431.6 71.9L437.8 72.2L433.2 72.6L435.1 72.9L436.8 73.2L437.3 73.5L436.7 73.8L433.0 74.2L431.4 74.5L432.4 74.8L433.4 75.1L435.0 75.4L434.8 75.8L438.5 76.1L434.9 76.4L440.8 76.7L438.5 77.0L433.9 77.4L438.1 77.7L426.7 78.0L439.9 78.3L437.0 78.6L437.0 79.0L430.7 79.3L443.7 79.6L435.2 79.9L435.7 80.2L439.6 80.6L435.7 80.9L433.7 81.2L438.4 81.5L433.4 81.8L438.8 82.2L437.1 82.5L440.2 82.8L433.1 83.1L440.7 83.4L437.9 83.8L443.1 84.1L435.1 84.4L442.9 84.7L439.5 85.0L439.8 85.4L435.2 85.7L439.3 86.0L439.7 86.3L435.2 86.6L434.3 87.0L435.5 87.3L442.4 87.6L438.6 87.9L441.0 88.2L439.1 88.6L438.7 88.9L439.1 89.2L437.3 89.5L442.3 89.8L439.2 90.2L439.5 90.5L434.7 90.8L439.9 91.1L437.0 91.4L437.7 91.8L442.4 92.1L436.1 92.4L438.8 92.7L441.4 93.0L443.1 93.4L438.2 93.7L440.8 94.0L440.8 94.3L436.6 94.6L433.7 95.0L434.4 95.3L442.1 95.6L440.7 95.9L436.5 96.2L438.7 96.6L439.5 96.9L439.7 97.2L440.8 97.5L447.6 97.8L438.7 98.2L441.6 98.5L439.0 98.8L439.5 99.1L438.8 99.4L440.9 99.8L440.0 100.1L442.8 100.4L442.5 100.7L439.3 101.0L447.8 101.4L438.7 101.7L443.3 102.0L448.8 102.3L440.3 102.6L446.5 103.0L446.9 103.3L443.8 103.6L437.4 103.9L447.2 104.2L443.3 104.6L441.5 104.9L447.0 105.2L441.2 105.5L446.6 105.8L441.9 106.2L445.2 106.5L440.6 106.8L442.7 107.1L441.2 107.4L441.9 107.8L444.7 108.1L443.7 108.4L444.9 108.7L448.2 109.0L444.2 109.4L439.1 109.7L443.9 110.0L445.0 110.3L447.9 110.6L448.0 111.0L447.9 111.3L444.5 111.6L447.2 111.9L441.2 112.2L449.3 112.6L446.8 112.9L447.1 113.2L444.6 113.5L446.0 113.8L444.0 114.2L447.7 114.5L442.3 114.8L449.0 115.1L447.9 115.4L452.3 115.8L446.4 116.1L446.3 116.4L447.2 116.7L446.9 117.0L446.5 117.4L443.7 117.7L443.8 118.0L445.5 118.3L446.4 118.6L443.8 119.0L444.0 119.3L446.6 119.6L449.7 119.9L447.1 120.2L449.7 120.6L450.6 120.9L450.1 121.2L446.7 121.5L446.9 121.8L442.7 122.2L446.2 122.5L449.6 122.8L445.2 123.1L452.3 123.4L452.6 123.8L447.5 124.1L451.3 124.4L444.7 124.7L445.8 125.0L447.8 125.4L449.0 125.7L448.5 126.0L446.6 126.3L454.8 126.6L450.1 127.0L450.1 127.3L451.3 127.6L450.0 127.9L448.9 128.2L448.0 128.6L445.0 128.9L454.0 129.2L447.2 129.5L445.2 129.8L447.7 130.2L445.5 130.5L455.8 130.8L451.2 131.1L454.2 131.4L454.4 131.8L452.0 132.1L452.1 132.4L448.5 132.7L450.4 133.0L449.0 133.4L450.8 133.7L448.8 134.0L454.4 134.3L453.1 134.6L450.7 135.0L446.4 135.3L453.1 135.6L453.7 135.9L451.1 136.2L447.8 136.6L452.6 136.9L454.4 137.2L446.2 137.5L453.2 137.8L446.6 138.2L451.9 138.5L456.7 138.8L452.1 139.1L453.3 139.4L451.1 139.8L452.0 140.1L458.7 140.4L455.9 140.7L451.4 141.0L451.2 141.4L452.4 141.7L458.5 142.0L453.1 142.3L455.6 142.6L451.6 143.0L449.2 143.3L456.4 143.6L452.6 143.9L450.7 144.2L451.0 144.6L451.1 144.9L451.4 145.2L448.9 145.5L456.5 145.8L454.3 146.2L456.0 146.5L452.4 146.8L454.4 147.1L453.9 147.4L456.7 147.8L455.8 148.1L454.6 148.4L451.9 148.7L450.5 149.0L451.6 149.4L452.1 149.7L452.4 150.0L450.6 150.3L458.6 150.6L454.8 151.0L448.6 151.3L451.2 151.6L450.6 151.9L454.9 152.2L457.3 152.6L451.7 152.9L456.1 153.2L453.8 153.5L457.7 153.8L458.3 154.2L455.5 154.5L456.7 154.8L454.8 155.1L453.8 155.4L451.7 155.8L455.8 156.1L454.8 156.4L454.0 156.7L454.9 157.0L454.6 157.4L452.4 157.7L453.8 158.0L458.3 158.3L454.7 158.6L459.1 159.0L452.3 159.3L451.8 159.6L455.8 159.9L457.6 160.2L453.8 160.6L457.3 160.9L458.2 161.2L458.6 161.5L455.5 161.8L455.7 162.2L451.4 162.5L455.9 162.8L456.7 163.1L459.7 163.4L452.6 163.8L453.8 164.1L453.4 164.4L458.5 164.7L449.4 165.0L453.3 165.4L461.6 165.7L458.0 166.0L452.8 166.3L456.2 166.6L458.6 167.0L457.9 167.3L455.9 167.6L454.4 167.9L458.7 168.2L456.6 168.6L458.8 168.9L457.8 169.2L455.6 169.5L460.6 169.8L455.6 170.2L458.1 170.5L455.4 170.8L456.5 171.1L456.5 171.4L455.5 171.8L457.9 172.1L460.8 172.4L462.3 172.7L461.2 173.0L457.1 173.4L461.4 173.7L458.8 174.0L462.5 174.3L454.6 174.6L461.8 175.0L456.5 175.3L461.1 175.6L457.0 175.9L460.6 176.2L457.6 176.6L453.6 176.9L456.0 177.2L457.9 177.5L458.7 177.8L453.0 178.2L455.7 178.5L457.0 178.8L458.4 179.1L459.6 179.4L457.0 179.8L455.3 180.1L460.1 180.4L458.5 180.7L461.7 181.0L458.2 181.4L461.2 181.7L457.4 182.0L460.4 182.3L460.1 182.6L461.1 183.0L457.6 183.3L459.8 183.6L458.0 183.9L459.8 184.2L461.9 184.6L468.0 184.9L460.6 185.2L462.4 185.5L460.9 185.8L463.6 186.2L462.0 186.5L463.5 186.8L461.9 187.1L467.1 187.4L464.6 187.8L456.9 188.1L462.1 188.4L461.6 188.7L455.9 189.0L459.4 189.4L460.5 189.7L459.9 190.0L462.2 190.3L457.4 190.6L463.9 191.0L464.0 191.3L463.1 191.6L461.5 191.9L462.4 192.2L461.3 192.6L465.4 192.9L463.9 193.2L467.7 193.5L462.0 193.8L466.6 194.2L461.6 194.5L462.8 194.8L460.7 195.1L464.7 195.4L463.4 195.8L465.1 196.1L467.4 196.4L463.7 196.7L464.9 197.0L466.3 197.4L464.1 197.7L463.0 198.0L465.3 198.3L465.8 198.6L466.6 199.0L466.9 199.3L463.3 199.6L466.2 199.9L468.2 200.2L464.2 200.6L466.4 200.9L464.1 201.2L466.2 201.5L470.1 201.8L466.4 202.2L463.8 202.5L467.1 202.8L466.9 203.1L469.3 203.4L463.3 203.8L464.6 204.1L466.7 204.4L463.3 204.7L470.0 205.0L462.4 205.4L465.4 205.7L464.0 206.0L466.1 206.3L469.8 206.6L469.4 207.0L470.3 207.3L469.7 207.6L463.4 207.9L469.2 208.2L464.1 208.6L467.5 208.9L467.9 209.2L467.6 209.5L470.2 209.8L467.2 210.2L473.4 210.5L470.8 210.8L472.3 211.1L471.4 211.4L471.8 211.8L469.6 212.1L474.5 212.4L467.4 212.7L471.1 213.0L470.1 213.4L469.7 213.7L471.1 214.0L468.6 214.3L472.6 214.6L472.5 215.0L470.9 215.3L472.5 215.6L468.4 215.9L466.7 216.2L469.7 216.6L470.6 216.9L477.1 217.2L470.8 217.5L473.9 217.8L473.5 218.2L476.6 218.5L472.0 218.8L473.3 219.1L471.4 219.4L470.0 219.8L469.7 220.1L470.3 220.4L475.7 220.7L473.1 221.0L472.1 221.4L472.7 221.7L471.4 222.0L472.8 222.3L472.9 222.6L474.6 223.0L475.3 223.3L469.5 223.6L474.0 223.9L476.8 224.2L471.3 224.6L473.2 224.9L474.3 225.2L476.6 225.5L475.6 225.8L473.8 226.2L475.6 226.5L477.0 226.8L475.6 227.1L479.2 227.4L476.0 227.8L472.7 228.1L473.5 228.4L475.1 228.7L475.1 229.0L477.2 229.4L476.7 229.7L480.0 230.0L478.0 230.3L479.7 230.6L474.7 231.0L475.6 231.3L478.4 231.6L477.1 231.9L478.5 232.2L477.8 232.6L476.0 232.9L481.5 233.2L480.3 233.5L474.3 233.8L476.6 234.2L478.2 234.5L479.9 234.8L478.3 235.1L475.6 235.4L480.7 235.8L478.5 236.1L481.9 236.4L480.0 236.7L481.7 237.0L481.5 237.4L481.8 237.7L478.8 238.0L482.4 238.3L480.7 238.6L477.6 239.0L479.7 239.3L480.0 239.6L481.9 239.9L482.6 240.2L478.7 240.6L483.0 240.9L481.4 241.2L479.3 241.5L483.7 241.8L480.3 242.2L479.5 242.5L484.0 242.8L484.5 243.1L481.2 243.4L485.2 243.8L485.2 244.1L482.0 244.4L487.8 244.7L483.3 245.0L484.1 245.4L478.5 245.7L485.4 246.0L482.8 246.3L485.3 246.6L480.7 247.0L487.2 247.3L488.1 247.6L489.2 247.9L478.6 248.2L486.6 248.6L486.3 248.9L479.0 249.2L484.2 249.5L485.8 249.8L489.3 250.2L484.5 250.5L487.0 250.8L486.6 251.1L487.7 251.4L486.2 251.8L489.2 252.1L489.5 252.4L484.6 252.7L490.2 253.0L486.3 253.4L487.5 253.7L490.7 254.0L488.6 254.3L489.8 254.6L490.5 255.0L490.2 255.3L487.9 255.6L487.2 255.9L490.9 256.2L491.2 256.6L490.5 256.9L489.5 257.2L491.9 257.5L490.2 257.8L487.5 258.2L491.2 258.5L491.9 258.8L492.6 259.1L489.2 259.4L489.7 259.8L492.2 260.1" fill="none" stroke="#f5a11c" stroke-width="1.7" stroke-opacity="1.0" stroke-linejoin="round" clip-path="url(#cb)"/>
<path d="M490.4 259.8L491.3 260.1L493.6 260.4L492.7 260.7L495.8 261.1L492.8 261.4L495.9 261.7L494.8 262.0L498.0 262.3L492.9 262.7L492.9 263.0L495.9 263.3L492.3 263.6L492.6 263.9L494.3 264.3L494.7 264.6L491.2 264.9L494.8 265.2L493.8 265.5L494.6 265.9L495.2 266.2L494.6 266.5L497.4 266.8L496.4 267.1L495.2 267.5L495.9 267.8L498.0 268.1L497.7 268.4L498.8 268.7L496.2 269.1L496.9 269.4L500.9 269.7L496.9 270.0L500.6 270.3L499.1 270.7L496.7 271.0L494.9 271.3L499.2 271.6L496.7 271.9L496.9 272.3L495.0 272.6L501.0 272.9L499.0 273.2L499.1 273.5L500.0 273.9L499.8 274.2L499.7 274.5L500.7 274.8L499.4 275.1L495.0 275.5L501.7 275.8L501.3 276.1L500.6 276.4L503.9 276.7L498.2 277.1L495.5 277.4L504.2 277.7L502.3 278.0L498.5 278.3L501.0 278.7L503.2 279.0L499.8 279.3L503.4 279.6L506.6 279.9L505.4 280.3L502.8 280.6L503.7 280.9L501.5 281.2L503.7 281.5L503.0 281.9L501.9 282.2L501.5 282.5L507.8 282.8L504.5 283.1L502.6 283.5L504.0 283.8L507.7 284.1L508.2 284.4L504.2 284.7L505.9 285.1L507.4 285.4L505.3 285.7L503.9 286.0L504.5 286.3L506.6 286.7L505.3 287.0L504.6 287.3L506.7 287.6L509.1 287.9L508.8 288.3L507.4 288.6L511.5 288.9L506.8 289.2L508.3 289.5L506.2 289.9L510.3 290.2L508.9 290.5L506.3 290.8L508.1 291.1L513.1 291.5L511.4 291.8L510.5 292.1L512.1 292.4L508.0 292.7L509.6 293.1L509.0 293.4L510.1 293.7L511.2 294.0L513.1 294.3L514.2 294.7L514.5 295.0L517.8 295.3L512.4 295.6L513.6 295.9L514.8 296.3L512.8 296.6L514.1 296.9L515.6 297.2L513.7 297.5L516.4 297.9L518.1 298.2L514.4 298.5L512.7 298.8L517.2 299.1L515.6 299.5L518.1 299.8L517.4 300.1L519.1 300.4L520.9 300.7L520.7 301.1L519.1 301.4L518.1 301.7L516.2 302.0L517.1 302.3L519.9 302.7L521.8 303.0L520.9 303.3L521.5 303.6L520.1 303.9L520.5 304.3L520.7 304.6L525.2 304.9L521.1 305.2L526.1 305.5L523.8 305.9L526.6 306.2L526.5 306.5L527.8 306.8L528.9 307.1L526.0 307.5L526.1 307.8L527.4 308.1L527.2 308.4L530.0 308.7L529.1 309.1L529.7 309.4L530.7 309.7L529.6 310.0L532.6 310.3L528.1 310.7L531.9 311.0L532.7 311.3L531.0 311.6L531.5 311.9L534.5 312.3L532.8 312.6L530.5 312.9L531.8 313.2L536.0 313.5L533.2 313.9L537.2 314.2L537.6 314.5L535.4 314.8L536.9 315.1L535.0 315.5L536.0 315.8L535.9 316.1L538.3 316.4L535.6 316.7L537.8 317.1L538.4 317.4L539.5 317.7L535.6 318.0L536.5 318.3L538.3 318.7L539.7 319.0L540.6 319.3L541.0 319.6L544.3 319.9L542.4 320.3L542.7 320.6L541.3 320.9L543.7 321.2L543.9 321.5L544.2 321.9L543.3 322.2L544.8 322.5L546.6 322.8L543.3 323.1L541.6 323.5L546.6 323.8L546.9 324.1L545.8 324.4L545.8 324.7L551.2 325.1L546.6 325.4L545.8 325.7L547.4 326.0L549.4 326.3L548.1 326.7L548.9 327.0L550.5 327.3L549.8 327.6L551.2 327.9L551.5 328.3L550.4 328.6L552.7 328.9L551.4 329.2L555.2 329.5L552.9 329.9L554.5 330.2L552.7 330.5L555.3 330.8L554.7 331.1L559.4 331.5L557.5 331.8L559.1 332.1L556.2 332.4L557.5 332.7L559.6 333.1L558.4 333.4L562.6 333.7L560.8 334.0L562.1 334.3L562.8 334.7L562.5 335.0L564.3 335.3L562.5 335.6L564.4 335.9L566.0 336.3L564.9 336.6L565.1 336.9L564.8 337.2L565.7 337.5L566.9 337.9L565.9 338.2L564.1 338.5L567.1 338.8L567.0 339.1L568.2 339.5L567.9 339.8L570.4 340.1L566.7 340.4L567.3 340.7L569.9 341.1L567.8 341.4L570.0 341.7L569.8 342.0L567.3 342.3L571.3 342.7L572.6 343.0L571.2 343.3L569.2 343.6L572.5 343.9L570.2 344.3L571.7 344.6L572.7 344.9L571.2 345.2L570.2 345.5L572.5 345.9L572.9 346.2L572.0 346.5L572.3 346.8L574.5 347.1L573.6 347.5L573.2 347.8L573.2 348.1L574.4 348.4L574.5 348.7L574.3 349.1L572.8 349.4L574.3 349.7L574.2 350.0L575.2 350.3L576.9 350.7L576.7 351.0L576.5 351.3L575.9 351.6L575.5 351.9L576.5 352.3L575.6 352.6L575.9 352.9L575.4 353.2L576.6 353.5L576.7 353.9L579.3 354.2L577.7 354.5L576.6 354.8L578.2 355.1L576.7 355.5L578.7 355.8L578.4 356.1L581.2 356.4L576.2 356.7L577.5 357.1L577.5 357.4L578.0 357.7L578.5 358.0L576.4 358.3L576.5 358.7L577.4 359.0L577.7 359.3L574.7 359.6L573.5 359.9L576.0 360.3L574.8 360.6L574.3 360.9L571.1 361.2L571.1 361.5L570.7 361.9L570.1 362.2L568.6 362.5L567.8 362.8L568.1 363.1L565.5 363.5L564.4 363.8L563.5 364.1L562.3 364.4L561.9 364.7L560.4 365.1L558.9 365.4L559.6 365.7L557.2 366.0L555.3 366.3L555.6 366.7L552.5 367.0L551.8 367.3L550.3 367.6L548.4 367.9L547.2 368.3L546.1 368.6L543.1 368.9L542.6 369.2L541.6 369.5L540.0 369.9L538.5 370.2L538.7 370.5L535.6 370.8L533.3 371.1L531.8 371.5L530.4 371.8L529.3 372.1L527.4 372.4L527.6 372.7L524.4 373.1L524.6 373.4L523.3 373.7L520.9 374.0L520.8 374.3L519.3 374.7L516.8 375.0L516.9 375.3L513.6 375.6L510.0 375.9L505.9 376.3L500.8 376.6L495.9 376.9L489.8 377.2L483.0 377.5L477.5 377.9L472.3 378.2L467.9 378.5L463.7 378.8L459.6 379.1L455.9 379.5L451.4 379.8L445.5 380.1L438.2 380.4L429.5 380.7L413.5 381.1L395.5 381.4L382.3 381.7L374.9 382.0" fill="none" stroke="#f5a11c" stroke-width="2.1" stroke-opacity="1.0" stroke-linejoin="round" clip-path="url(#cb)"/>
<path d="M386.1 20.1L379.6 20.4L402.3 20.7L393.8 21.0L401.0 21.4L395.8 21.7L396.9 22.0L408.6 22.3L389.5 22.6L398.5 23.0L390.6 23.3L399.4 23.6L402.6 23.9L404.0 24.2L400.5 24.6L389.2 24.9L401.4 25.2L406.4 25.5L407.3 25.8L415.9 26.2L404.4 26.5L392.8 26.8L396.6 27.1L401.2 27.4L408.5 27.8L392.5 28.1L407.8 28.4L406.0 28.7L394.9 29.0L405.9 29.4L396.0 29.7L401.7 30.0L399.7 30.3L403.7 30.6L393.5 31.0L406.1 31.3L386.6 31.6L399.6 31.9L398.6 32.2L414.3 32.6L406.9 32.9L399.6 33.2L396.8 33.5L403.6 33.8L399.0 34.2L419.8 34.5L383.7 34.8L404.4 35.1L386.3 35.4L411.7 35.8L398.5 36.1L416.0 36.4L400.7 36.7L412.5 37.0L406.3 37.4L413.5 37.7L405.3 38.0L384.0 38.3L400.2 38.6L394.4 39.0L412.4 39.3L409.6 39.6L406.0 39.9L409.3 40.2L407.6 40.6L402.2 40.9L420.3 41.2L408.3 41.5L405.3 41.8L396.4 42.2L402.6 42.5L407.2 42.8L406.0 43.1L404.0 43.4L407.1 43.8L399.7 44.1L407.8 44.4L397.0 44.7L402.0 45.0L403.0 45.4L414.4 45.7L411.8 46.0L409.1 46.3L400.6 46.6L406.0 47.0L414.5 47.3L417.8 47.6L398.9 47.9L406.3 48.2L410.2 48.6L412.0 48.9L409.8 49.2L414.5 49.5L400.0 49.8L420.9 50.2L402.4 50.5L410.8 50.8L414.1 51.1L418.7 51.4L417.0 51.8L416.9 52.1L419.8 52.4L410.1 52.7L416.5 53.0L422.0 53.4L406.4 53.7L402.1 54.0L405.0 54.3L421.6 54.6L420.6 55.0L409.8 55.3L414.0 55.6L415.7 55.9L419.7 56.2L399.9 56.6L409.0 56.9L411.2 57.2L415.2 57.5L413.7 57.8L411.1 58.2L415.4 58.5L396.1 58.8L434.4 59.1L419.3 59.4L419.8 59.8L409.5 60.1L416.9 60.4L428.0 60.7L426.5 61.0L414.9 61.4L406.2 61.7L415.7 62.0L412.7 62.3L420.5 62.6L406.3 63.0L413.7 63.3L416.9 63.6L412.1 63.9L422.3 64.2L407.8 64.6L407.2 64.9L413.2 65.2L421.1 65.5L413.7 65.8L411.9 66.2L421.2 66.5L417.4 66.8L412.5 67.1L416.9 67.4L414.6 67.8L420.2 68.1L417.3 68.4L411.1 68.7L413.3 69.0L413.8 69.4L419.0 69.7L419.1 70.0L411.3 70.3L415.6 70.6L418.9 71.0L424.1 71.3L418.7 71.6L429.8 71.9L417.3 72.2L422.0 72.6L415.2 72.9L410.9 73.2L418.1 73.5L420.6 73.8L419.7 74.2L418.6 74.5L415.6 74.8L412.5 75.1L415.9 75.4L420.9 75.8L424.1 76.1L397.0 76.4L422.0 76.7L425.1 77.0L426.3 77.4L420.8 77.7L422.7 78.0L415.7 78.3L418.0 78.6L422.0 79.0L411.8 79.3L413.8 79.6L420.1 79.9L410.5 80.2L419.3 80.6L409.7 80.9L420.4 81.2L419.4 81.5L415.8 81.8L413.5 82.2L416.3 82.5L405.6 82.8L417.2 83.1L420.5 83.4L427.4 83.8L416.8 84.1L418.9 84.4L428.8 84.7L431.0 85.0L417.3 85.4L426.9 85.7L427.8 86.0L423.8 86.3L414.6 86.6L414.9 87.0L424.5 87.3L435.4 87.6L420.0 87.9L430.9 88.2L433.0 88.6L413.7 88.9L417.8 89.2L430.9 89.5L427.7 89.8L425.2 90.2L421.9 90.5L425.9 90.8L418.3 91.1L437.6 91.4L415.3 91.8L411.4 92.1L423.5 92.4L431.6 92.7L419.8 93.0L422.6 93.4L416.8 93.7L422.7 94.0L417.0 94.3L417.2 94.6L414.5 95.0L420.2 95.3L435.1 95.6L423.5 95.9L425.1 96.2L437.7 96.6L420.3 96.9L418.2 97.2L427.6 97.5L417.0 97.8L426.6 98.2L431.7 98.5L418.3 98.8L421.8 99.1L435.4 99.4L418.7 99.8L421.1 100.1L426.8 100.4L423.6 100.7L420.4 101.0L435.4 101.4L422.3 101.7L427.9 102.0L423.6 102.3L424.8 102.6L418.0 103.0L431.9 103.3L423.9 103.6L434.2 103.9L419.7 104.2L423.9 104.6L429.8 104.9L427.6 105.2L423.1 105.5L426.4 105.8L419.5 106.2L427.7 106.5L411.6 106.8L428.6 107.1L435.8 107.4L433.1 107.8L433.0 108.1L425.5 108.4L431.0 108.7L425.8 109.0L427.7 109.4L427.8 109.7L408.4 110.0L434.1 110.3L431.4 110.6L433.8 111.0L423.2 111.3L433.1 111.6L431.9 111.9L415.9 112.2L418.8 112.6L429.7 112.9L425.5 113.2L429.4 113.5L425.9 113.8L438.6 114.2L418.6 114.5L421.9 114.8L424.3 115.1L422.1 115.4L426.8 115.8L430.1 116.1L422.5 116.4L432.7 116.7L438.3 117.0L437.1 117.4L442.6 117.7L437.6 118.0L430.8 118.3L441.5 118.6L435.3 119.0L442.3 119.3L430.3 119.6L419.2 119.9L424.8 120.2L432.7 120.6L435.0 120.9L430.7 121.2L437.8 121.5L425.4 121.8L428.1 122.2L438.0 122.5L432.7 122.8L433.1 123.1L440.8 123.4L439.1 123.8L428.2 124.1L434.1 124.4L423.1 124.7L433.0 125.0L435.5 125.4L423.3 125.7L442.4 126.0L445.0 126.3L436.5 126.6L439.0 127.0L442.4 127.3L432.9 127.6L440.0 127.9L436.3 128.2L425.5 128.6L429.2 128.9L431.2 129.2L440.6 129.5L435.2 129.8L440.3 130.2L432.2 130.5L427.7 130.8L446.7 131.1L450.5 131.4L437.4 131.8L434.2 132.1L442.1 132.4L429.3 132.7L434.5 133.0L427.7 133.4L438.6 133.7L437.3 134.0L433.8 134.3L432.5 134.6L427.8 135.0L431.8 135.3L443.3 135.6L434.6 135.9L443.6 136.2L432.0 136.6L436.4 136.9L434.4 137.2L435.6 137.5L441.4 137.8L426.0 138.2L441.4 138.5L441.3 138.8L437.6 139.1L438.1 139.4L436.6 139.8L441.7 140.1L438.3 140.4L433.5 140.7L439.0 141.0L443.5 141.4L440.4 141.7L438.7 142.0L439.7 142.3L436.0 142.6L436.3 143.0L428.8 143.3L438.0 143.6L444.4 143.9L437.1 144.2L434.5 144.6L444.2 144.9L440.4 145.2L440.4 145.5L442.2 145.8L443.5 146.2L439.7 146.5L435.6 146.8L449.3 147.1L440.5 147.4L436.2 147.8L441.4 148.1L446.8 148.4L433.2 148.7L447.6 149.0L440.1 149.4L451.3 149.7L444.5 150.0L440.6 150.3L447.8 150.6L448.0 151.0L439.7 151.3L442.8 151.6L439.1 151.9L446.6 152.2L434.8 152.6L441.2 152.9L431.3 153.2L445.3 153.5L431.0 153.8L437.1 154.2L444.0 154.5L440.9 154.8L440.6 155.1L438.0 155.4L440.7 155.8L434.3 156.1L444.8 156.4L447.3 156.7L447.2 157.0L443.3 157.4L449.7 157.7L445.9 158.0L448.5 158.3L445.7 158.6L444.0 159.0L440.1 159.3L430.9 159.6L447.2 159.9L443.5 160.2L453.9 160.6L434.4 160.9L448.4 161.2L439.6 161.5L444.3 161.8L440.0 162.2L446.1 162.5L444.3 162.8L448.7 163.1L445.2 163.4L446.9 163.8L450.8 164.1L447.1 164.4L444.0 164.7L450.7 165.0L444.2 165.4L446.7 165.7L443.3 166.0L441.7 166.3L430.5 166.6L448.2 167.0L439.5 167.3L448.5 167.6L453.6 167.9L438.8 168.2L449.3 168.6L444.7 168.9L447.4 169.2L439.6 169.5L445.5 169.8L446.1 170.2L452.1 170.5L455.5 170.8L447.0 171.1L443.8 171.4L455.9 171.8L445.2 172.1L445.4 172.4L446.2 172.7L447.9 173.0L449.1 173.4L443.2 173.7L445.4 174.0L454.6 174.3L453.4 174.6L448.1 175.0L447.4 175.3L445.1 175.6L450.9 175.9L444.0 176.2L446.9 176.6L444.3 176.9L443.6 177.2L446.7 177.5L446.6 177.8L444.0 178.2L446.4 178.5L447.0 178.8L444.7 179.1L443.9 179.4L446.2 179.8L450.0 180.1L451.8 180.4L447.8 180.7L445.8 181.0L447.0 181.4L455.5 181.7L451.2 182.0L443.1 182.3L447.0 182.6L445.0 183.0L445.8 183.3L440.1 183.6L447.6 183.9L441.7 184.2L445.0 184.6L454.1 184.9L451.9 185.2L444.0 185.5L443.3 185.8L443.9 186.2L439.8 186.5L443.7 186.8L446.8 187.1L443.5 187.4L451.2 187.8L447.8 188.1L445.9 188.4L455.5 188.7L451.2 189.0L448.5 189.4L456.0 189.7L453.8 190.0L445.5 190.3L449.8 190.6L446.7 191.0L442.6 191.3L456.4 191.6L454.8 191.9L443.5 192.2L450.8 192.6L442.1 192.9L453.3 193.2L448.7 193.5L447.8 193.8L454.1 194.2L449.2 194.5L448.1 194.8L452.9 195.1L448.1 195.4L452.9 195.8L449.5 196.1L452.8 196.4L452.1 196.7L452.8 197.0L445.7 197.4L457.3 197.7L449.3 198.0L456.9 198.3L447.7 198.6L449.1 199.0L449.2 199.3L454.8 199.6L448.7 199.9L452.1 200.2L444.5 200.6L448.8 200.9L451.6 201.2L450.4 201.5L443.7 201.8L452.9 202.2L447.4 202.5L458.6 202.8L450.5 203.1L460.0 203.4L454.0 203.8L453.3 204.1L449.8 204.4L451.3 204.7L453.5 205.0L444.5 205.4L455.7 205.7L447.7 206.0L451.2 206.3L442.0 206.6L454.0 207.0L455.2 207.3L453.6 207.6L453.8 207.9L451.3 208.2L453.3 208.6L457.3 208.9L451.3 209.2L454.8 209.5L455.7 209.8L452.3 210.2L454.1 210.5L454.1 210.8L451.6 211.1L462.3 211.4L451.9 211.8L459.8 212.1L457.5 212.4L446.4 212.7L454.7 213.0L457.6 213.4L456.9 213.7L450.8 214.0L455.0 214.3L449.8 214.6L450.5 215.0L453.4 215.3L455.0 215.6L460.1 215.9L455.8 216.2L458.3 216.6L450.4 216.9L450.6 217.2L453.0 217.5L461.0 217.8L450.2 218.2L449.4 218.5L454.8 218.8L459.3 219.1L449.5 219.4L454.4 219.8L450.6 220.1L460.5 220.4L457.9 220.7L456.5 221.0L455.5 221.4L454.9 221.7L456.3 222.0L453.7 222.3L452.9 222.6L452.3 223.0L456.2 223.3L453.5 223.6L459.4 223.9L449.3 224.2L458.5 224.6L458.5 224.9L460.9 225.2L456.0 225.5L451.9 225.8L454.0 226.2L461.0 226.5L456.3 226.8L456.1 227.1L455.6 227.4L457.5 227.8L457.0 228.1L452.7 228.4L456.0 228.7L461.5 229.0L463.1 229.4L458.0 229.7L456.8 230.0L463.2 230.3L458.2 230.6L455.0 231.0L458.6 231.3L461.5 231.6L464.4 231.9L457.8 232.2L461.3 232.6L458.6 232.9L463.6 233.2L460.8 233.5L460.9 233.8L457.0 234.2L459.3 234.5L459.4 234.8L449.0 235.1L463.5 235.4L460.8 235.8L460.3 236.1L460.0 236.4L461.3 236.7L462.2 237.0L457.3 237.4L462.0 237.7L462.1 238.0L462.0 238.3L457.3 238.6L461.7 239.0L458.2 239.3L463.5 239.6L466.6 239.9L465.3 240.2L461.6 240.6L461.1 240.9L461.2 241.2L464.1 241.5L461.1 241.8L461.6 242.2L455.6 242.5L460.9 242.8L461.2 243.1L462.0 243.4L467.5 243.8L459.7 244.1L459.9 244.4L465.9 244.7L461.2 245.0L463.8 245.4L465.0 245.7L464.6 246.0L462.3 246.3L467.5 246.6L469.4 247.0L462.0 247.3L464.3 247.6L468.0 247.9L464.7 248.2L462.4 248.6L464.2 248.9L468.1 249.2L462.8 249.5L466.6 249.8L467.1 250.2L464.2 250.5L467.9 250.8L468.3 251.1L469.4 251.4L469.3 251.8L462.4 252.1L469.5 252.4L468.7 252.7L470.0 253.0L464.8 253.4L470.0 253.7L468.6 254.0L464.3 254.3L471.5 254.6L465.7 255.0L465.2 255.3L469.4 255.6L466.7 255.9L469.6 256.2L468.0 256.6L469.7 256.9L471.3 257.2L469.1 257.5L471.8 257.8L471.9 258.2L467.2 258.5L472.2 258.8L471.7 259.1L470.5 259.4L473.4 259.8L475.1 260.1L472.7 260.4L466.6 260.7L472.2 261.0L470.7 261.4L470.5 261.7L472.4 262.0L470.7 262.3L476.3 262.6L472.7 263.0L472.1 263.3L474.4 263.6L474.6 263.9L475.9 264.2L474.5 264.6L472.8 264.9L473.4 265.2L467.2 265.5L469.3 265.8L476.4 266.2L472.8 266.5L478.9 266.8L479.0 267.1L470.8 267.4L475.2 267.8L482.5 268.1L472.5 268.4L476.0 268.7L474.4 269.0L474.5 269.4L474.6 269.7L475.5 270.0L477.7 270.3L473.6 270.6L477.3 271.0L474.2 271.3L477.7 271.6L477.3 271.9L474.5 272.2L477.1 272.6" fill="none" stroke="#17891a" stroke-width="1.7" stroke-opacity="1.0" stroke-linejoin="round" clip-path="url(#cb)"/>
<path d="M474.7 272.4L474.5 272.7L480.1 273.0L472.2 273.3L478.8 273.7L479.3 274.0L476.0 274.3L480.6 274.6L480.3 274.9L474.5 275.3L479.6 275.6L479.5 275.9L476.5 276.2L480.1 276.5L480.7 276.9L476.9 277.2L473.7 277.5L480.2 277.8L477.3 278.1L474.9 278.5L478.6 278.8L473.4 279.1L479.0 279.4L484.0 279.7L472.6 280.1L481.5 280.4L478.0 280.7L479.5 281.0L478.4 281.3L482.6 281.7L481.0 282.0L479.2 282.3L477.9 282.6L480.4 282.9L484.7 283.3L478.6 283.6L483.0 283.9L483.0 284.2L477.0 284.5L485.3 284.9L482.5 285.2L488.5 285.5L487.4 285.8L482.4 286.1L482.8 286.5L480.7 286.8L479.9 287.1L485.7 287.4L483.2 287.7L482.9 288.1L483.7 288.4L486.1 288.7L486.9 289.0L484.6 289.3L484.3 289.7L485.2 290.0L490.4 290.3L480.0 290.6L482.5 290.9L486.9 291.3L486.2 291.6L489.1 291.9L489.5 292.2L491.4 292.5L484.5 292.9L488.3 293.2L486.3 293.5L489.5 293.8L487.7 294.1L489.7 294.5L485.8 294.8L488.2 295.1L486.7 295.4L487.5 295.7L487.2 296.1L486.0 296.4L491.6 296.7L489.7 297.0L491.9 297.3L486.9 297.7L484.7 298.0L488.2 298.3L489.6 298.6L492.2 298.9L493.0 299.3L493.6 299.6L494.6 299.9L492.8 300.2L491.5 300.5L489.5 300.9L493.3 301.2L490.6 301.5L490.1 301.8L493.7 302.1L493.1 302.5L494.8 302.8L491.2 303.1L496.1 303.4L494.3 303.7L493.2 304.1L492.0 304.4L491.5 304.7L491.0 305.0L498.0 305.3L491.3 305.7L496.6 306.0L494.7 306.3L494.1 306.6L494.6 306.9L495.8 307.3L498.4 307.6L497.9 307.9L496.7 308.2L493.7 308.5L493.0 308.9L502.0 309.2L495.3 309.5L494.3 309.8L501.0 310.1L495.0 310.5L500.6 310.8L501.3 311.1L500.0 311.4L501.9 311.7L496.6 312.1L497.3 312.4L500.0 312.7L500.8 313.0L500.9 313.3L502.5 313.7L500.0 314.0L497.0 314.3L503.3 314.6L502.1 314.9L504.9 315.3L508.2 315.6L503.9 315.9L505.4 316.2L502.3 316.5L506.8 316.9L505.8 317.2L506.0 317.5L507.9 317.8L503.5 318.1L507.8 318.5L507.9 318.8L510.9 319.1L503.4 319.4L507.7 319.7L513.4 320.1L507.8 320.4L508.1 320.7L513.7 321.0L515.7 321.3L510.7 321.7L509.2 322.0L509.9 322.3L510.8 322.6L510.2 322.9L510.7 323.3L513.3 323.6L513.5 323.9L514.9 324.2L514.2 324.5L511.8 324.9L516.6 325.2L515.9 325.5L514.4 325.8L515.4 326.1L517.1 326.5L516.9 326.8L516.8 327.1L519.1 327.4L520.2 327.7L517.4 328.1L518.4 328.4L516.3 328.7L518.7 329.0L520.5 329.3L521.7 329.7L520.5 330.0L520.2 330.3L519.2 330.6L521.6 330.9L519.0 331.3L522.0 331.6L522.1 331.9L520.4 332.2L523.4 332.5L522.6 332.9L524.7 333.2L522.6 333.5L525.0 333.8L527.7 334.1L525.0 334.5L526.7 334.8L523.9 335.1L524.9 335.4L521.9 335.7L526.0 336.1L524.3 336.4L527.3 336.7L523.0 337.0L525.9 337.3L528.3 337.7L529.4 338.0L525.3 338.3L528.4 338.6L535.1 338.9L531.7 339.3L530.7 339.6L524.8 339.9L529.1 340.2L532.6 340.5L532.3 340.9L533.1 341.2L534.5 341.5L533.0 341.8L534.9 342.1L529.6 342.5L539.0 342.8L533.4 343.1L532.9 343.4L537.7 343.7L536.0 344.1L537.0 344.4L533.8 344.7L535.9 345.0L537.0 345.3L533.3 345.7L535.5 346.0L535.6 346.3L535.8 346.6L535.2 346.9L534.2 347.3L538.1 347.6L538.0 347.9L540.3 348.2L538.1 348.5L537.4 348.9L536.5 349.2L540.5 349.5L540.6 349.8L546.4 350.1L548.0 350.5L547.6 350.8L543.4 351.1L543.4 351.4L546.8 351.7L546.3 352.1L551.9 352.4L549.8 352.7L549.2 353.0L550.5 353.3L553.5 353.7L549.3 354.0L552.6 354.3L549.3 354.6L551.9 354.9L551.3 355.3L553.6 355.6L553.5 355.9L556.0 356.2L555.2 356.5L552.8 356.9L551.5 357.2L552.8 357.5L553.8 357.8L554.5 358.1L553.6 358.5L557.6 358.8L557.5 359.1L555.2 359.4L554.9 359.7L555.7 360.1L556.3 360.4L556.5 360.7L553.5 361.0L556.1 361.3L553.4 361.7L557.5 362.0L559.0 362.3L555.7 362.6L558.4 362.9L557.1 363.3L557.2 363.6L562.8 363.9L560.9 364.2L560.4 364.5L558.8 364.9L560.9 365.2L560.0 365.5L561.6 365.8L559.3 366.1L561.3 366.5L561.0 366.8L559.4 367.1L566.0 367.4L564.7 367.7L561.9 368.1L560.9 368.4L562.9 368.7L563.1 369.0L563.9 369.3L562.6 369.7L564.4 370.0L566.6 370.3L567.7 370.6L563.3 370.9L567.7 371.3L566.1 371.6L566.4 371.9L568.2 372.2L567.8 372.5L570.9 372.9L571.3 373.2L569.7 373.5L569.4 373.8L574.6 374.1L575.1 374.5L572.5 374.8L571.8 375.1L574.4 375.4L575.7 375.7L572.1 376.1L577.1 376.4L573.6 376.7L576.4 377.0L573.6 377.3L575.1 377.7L574.4 378.0L575.7 378.3L578.0 378.6L574.6 378.9L576.2 379.3L578.2 379.6L576.6 379.9L581.9 380.2L575.4 380.5L583.7 380.9L577.8 381.2L581.4 381.5L583.0 381.8L581.2 382.1L577.8 382.5L580.3 382.8L581.5 383.1L582.9 383.4L584.1 383.7L584.7 384.1L585.8 384.4L581.4 384.7L585.6 385.0L580.6 385.3L584.7 385.7L582.7 386.0L581.7 386.3L587.4 386.6L585.9 386.9L588.3 387.3L583.6 387.6L584.7 387.9L587.3 388.2L586.6 388.5L588.4 388.9L587.4 389.2L588.3 389.5L587.1 389.8L592.3 390.1L589.5 390.5L588.2 390.8L592.2 391.1L592.2 391.4L592.1 391.7L592.4 392.1L591.6 392.4L592.4 392.7L588.6 393.0L590.3 393.3L591.3 393.7L594.6 394.0L596.9 394.3L594.5 394.6L594.6 394.9L597.7 395.3L595.1 395.6L597.5 395.9L597.4 396.2L594.3 396.5L597.9 396.9L598.0 397.2L595.7 397.5L596.2 397.8L596.1 398.1L601.7 398.5L603.5 398.8L601.1 399.1L603.1 399.4L597.7 399.7L603.5 400.1L604.9 400.4L604.5 400.7L599.8 401.0L604.1 401.3L602.0 401.7L604.7 402.0L601.6 402.3L603.2 402.6L602.3 402.9L604.7 403.3L603.8 403.6L606.5 403.9L606.2 404.2L605.7 404.5L605.0 404.9L604.7 405.2L605.6 405.5L607.3 405.8L606.3 406.1L606.8 406.5L606.4 406.8L606.5 407.1L605.5 407.4L603.4 407.7L608.5 408.1L608.6 408.4L605.8 408.7L611.8 409.0L605.9 409.3L610.4 409.7L609.1 410.0L609.4 410.3L611.2 410.6L611.0 410.9L609.4 411.3L607.4 411.6L607.2 411.9L610.1 412.2L612.9 412.5L611.6 412.9L609.9 413.2L610.6 413.5L611.3 413.8L613.3 414.1L608.5 414.5L611.3 414.8L610.4 415.1L608.4 415.4L607.9 415.7L612.1 416.1L610.2 416.4L609.2 416.7L609.6 417.0L611.1 417.3L609.4 417.7L611.9 418.0L608.4 418.3L607.4 418.6L608.4 418.9L606.8 419.3L607.6 419.6L610.2 419.9L610.8 420.2L608.7 420.5L607.7 420.9L605.4 421.2L604.6 421.5L606.3 421.8L605.1 422.1L602.9 422.5L602.2 422.8L604.5 423.1L602.4 423.4L599.8 423.7L599.0 424.1L599.5 424.4L597.0 424.7L595.7 425.0L591.8 425.3L590.7 425.7L589.3 426.0L587.8 426.3L590.2 426.6L589.6 426.9L586.7 427.3L587.6 427.6L586.5 427.9L584.5 428.2L581.3 428.5L584.3 428.9L582.9 429.2L578.8 429.5L581.1 429.8L577.0 430.1L574.4 430.5L573.4 430.8L569.9 431.1L570.3 431.4L567.0 431.7L568.8 432.1L566.1 432.4L562.2 432.7L562.9 433.0L558.5 433.3L559.0 433.7L557.8 434.0L555.7 434.3L552.8 434.6L552.5 434.9L551.0 435.3L550.0 435.6L550.2 435.9L549.1 436.2L547.7 436.5L544.2 436.9L542.8 437.2L542.2 437.5L541.1 437.8L537.3 438.1L537.0 438.5L537.4 438.8L532.9 439.1L531.4 439.4L529.3 439.7L527.9 440.1L524.9 440.4L521.7 440.7L517.4 441.0L514.7 441.3L509.1 441.7L499.7 442.0L487.5 442.3L473.0 442.6L455.7 442.9L440.1 443.3L426.5 443.6L414.3 443.9L400.9 444.2L390.5 444.5L382.5 444.9L379.6 445.2" fill="none" stroke="#17891a" stroke-width="2.1" stroke-opacity="1.0" stroke-linejoin="round" clip-path="url(#cb)"/>
</g>
<circle cx="389" cy="252.4" r="1.4" fill="#000"/>
<circle cx="398.12" cy="252.4" r="1.4" fill="#000"/>
<circle cx="407.25" cy="252.4" r="1.4" fill="#000"/>
<circle cx="416.37" cy="252.4" r="1.4" fill="#000"/>
<circle cx="425.49" cy="252.4" r="1.4" fill="#000"/>
<circle cx="434.62" cy="252.4" r="1.4" fill="#000"/>
<circle cx="443.74" cy="252.4" r="1.4" fill="#000"/>
<circle cx="452.86" cy="252.4" r="1.4" fill="#000"/>
<circle cx="461.98" cy="252.4" r="1.4" fill="#000"/>
<circle cx="471.11" cy="252.4" r="1.4" fill="#000"/>
<circle cx="480.23" cy="252.4" r="1.4" fill="#000"/>
<circle cx="489.35" cy="252.4" r="1.4" fill="#000"/>
<circle cx="498.48" cy="252.4" r="1.4" fill="#000"/>
<circle cx="507.6" cy="252.4" r="1.4" fill="#000"/>
<circle cx="516.72" cy="252.4" r="1.4" fill="#000"/>
<circle cx="525.85" cy="252.4" r="1.4" fill="#000"/>
<circle cx="534.97" cy="252.4" r="1.4" fill="#000"/>
<circle cx="544.09" cy="252.4" r="1.4" fill="#000"/>
<circle cx="553.21" cy="252.4" r="1.4" fill="#000"/>
<circle cx="562.34" cy="252.4" r="1.4" fill="#000"/>
<circle cx="571.46" cy="252.4" r="1.4" fill="#000"/>
<circle cx="580.58" cy="252.4" r="1.4" fill="#000"/>
<circle cx="589.71" cy="252.4" r="1.4" fill="#000"/>
<circle cx="598.83" cy="252.4" r="1.4" fill="#000"/>
<circle cx="607.95" cy="252.4" r="1.4" fill="#000"/>
<circle cx="617.08" cy="252.4" r="1.4" fill="#000"/>
<circle cx="626.2" cy="252.4" r="1.4" fill="#000"/>
<circle cx="635.32" cy="252.4" r="1.4" fill="#000"/>
<circle cx="644.44" cy="252.4" r="1.4" fill="#000"/>
<circle cx="653.57" cy="252.4" r="1.4" fill="#000"/>
<circle cx="662.69" cy="252.4" r="1.4" fill="#000"/>
<rect x="49.5" y="21.5" width="288" height="461.8" fill="none" stroke="#858585" stroke-width="1.1"/>
<line x1="47.3" y1="461.7" x2="49.5" y2="461.7" stroke="#858585" stroke-width="1"/>
<text x="44.6" y="467.1" font-family='"Liberation Sans", sans-serif' font-size="12.8" text-anchor="end" fill="#333333" >80</text>
<line x1="47.3" y1="419.72" x2="49.5" y2="419.72" stroke="#858585" stroke-width="1"/>
<text x="44.6" y="425.12" font-family='"Liberation Sans", sans-serif' font-size="12.8" text-anchor="end" fill="#333333" >90</text>
<line x1="47.3" y1="377.74" x2="49.5" y2="377.74" stroke="#858585" stroke-width="1"/>
<text x="44.6" y="383.14" font-family='"Liberation Sans", sans-serif' font-size="12.8" text-anchor="end" fill="#333333" textLength="23" lengthAdjust="spacingAndGlyphs" >100</text>
<line x1="47.3" y1="335.76" x2="49.5" y2="335.76" stroke="#858585" stroke-width="1"/>
<text x="44.6" y="341.16" font-family='"Liberation Sans", sans-serif' font-size="12.8" text-anchor="end" fill="#333333" textLength="23" lengthAdjust="spacingAndGlyphs" >110</text>
<line x1="47.3" y1="293.78" x2="49.5" y2="293.78" stroke="#858585" stroke-width="1"/>
<text x="44.6" y="299.18" font-family='"Liberation Sans", sans-serif' font-size="12.8" text-anchor="end" fill="#333333" textLength="23" lengthAdjust="spacingAndGlyphs" >120</text>
<line x1="47.3" y1="251.8" x2="49.5" y2="251.8" stroke="#858585" stroke-width="1"/>
<text x="44.6" y="257.2" font-family='"Liberation Sans", sans-serif' font-size="12.8" text-anchor="end" fill="#333333" textLength="23" lengthAdjust="spacingAndGlyphs" >130</text>
<line x1="47.3" y1="209.82" x2="49.5" y2="209.82" stroke="#858585" stroke-width="1"/>
<text x="44.6" y="215.22" font-family='"Liberation Sans", sans-serif' font-size="12.8" text-anchor="end" fill="#333333" textLength="23" lengthAdjust="spacingAndGlyphs" >140</text>
<line x1="47.3" y1="167.84" x2="49.5" y2="167.84" stroke="#858585" stroke-width="1"/>
<text x="44.6" y="173.24" font-family='"Liberation Sans", sans-serif' font-size="12.8" text-anchor="end" fill="#333333" textLength="23" lengthAdjust="spacingAndGlyphs" >150</text>
<line x1="47.3" y1="125.86" x2="49.5" y2="125.86" stroke="#858585" stroke-width="1"/>
<text x="44.6" y="131.26" font-family='"Liberation Sans", sans-serif' font-size="12.8" text-anchor="end" fill="#333333" textLength="23" lengthAdjust="spacingAndGlyphs" >160</text>
<line x1="47.3" y1="83.88" x2="49.5" y2="83.88" stroke="#858585" stroke-width="1"/>
<text x="44.6" y="89.28" font-family='"Liberation Sans", sans-serif' font-size="12.8" text-anchor="end" fill="#333333" textLength="23" lengthAdjust="spacingAndGlyphs" >170</text>
<line x1="47.3" y1="41.9" x2="49.5" y2="41.9" stroke="#858585" stroke-width="1"/>
<text x="44.6" y="47.3" font-family='"Liberation Sans", sans-serif' font-size="12.8" text-anchor="end" fill="#333333" textLength="23" lengthAdjust="spacingAndGlyphs" >180</text>
<line x1="103.6" y1="483.3" x2="103.6" y2="485.7" stroke="#858585" stroke-width="1"/>
<text x="105.2" y="498.5" font-family='"Liberation Sans", sans-serif' font-size="13.2" text-anchor="end" fill="#333333" textLength="15" lengthAdjust="spacingAndGlyphs" >10</text>
<text x="105.6" y="492.3" font-family='"Liberation Sans", sans-serif' font-size="8.6" fill="#333333" textLength="12.4" lengthAdjust="spacingAndGlyphs" >−4</text>
<line x1="182.4" y1="483.3" x2="182.4" y2="485.7" stroke="#858585" stroke-width="1"/>
<text x="184" y="498.5" font-family='"Liberation Sans", sans-serif' font-size="13.2" text-anchor="end" fill="#333333" textLength="15" lengthAdjust="spacingAndGlyphs" >10</text>
<text x="184.4" y="492.3" font-family='"Liberation Sans", sans-serif' font-size="8.6" fill="#333333" textLength="12.4" lengthAdjust="spacingAndGlyphs" >−3</text>
<line x1="260.4" y1="483.3" x2="260.4" y2="485.7" stroke="#858585" stroke-width="1"/>
<text x="262" y="498.5" font-family='"Liberation Sans", sans-serif' font-size="13.2" text-anchor="end" fill="#333333" textLength="15" lengthAdjust="spacingAndGlyphs" >10</text>
<text x="262.4" y="492.3" font-family='"Liberation Sans", sans-serif' font-size="8.6" fill="#333333" textLength="12.4" lengthAdjust="spacingAndGlyphs" >−2</text>
<line x1="337.5" y1="483.3" x2="337.5" y2="485.7" stroke="#858585" stroke-width="1"/>
<text x="339.1" y="498.5" font-family='"Liberation Sans", sans-serif' font-size="13.2" text-anchor="end" fill="#333333" textLength="15" lengthAdjust="spacingAndGlyphs" >10</text>
<text x="339.5" y="492.3" font-family='"Liberation Sans", sans-serif' font-size="8.6" fill="#333333" textLength="12.4" lengthAdjust="spacingAndGlyphs" >−1</text>
<line x1="62.4" y1="483.3" x2="62.4" y2="484.9" stroke="#858585" stroke-width="0.8"/>
<line x1="72.24" y1="483.3" x2="72.24" y2="484.9" stroke="#858585" stroke-width="0.8"/>
<line x1="79.88" y1="483.3" x2="79.88" y2="484.9" stroke="#858585" stroke-width="0.8"/>
<line x1="86.12" y1="483.3" x2="86.12" y2="484.9" stroke="#858585" stroke-width="0.8"/>
<line x1="91.39" y1="483.3" x2="91.39" y2="484.9" stroke="#858585" stroke-width="0.8"/>
<line x1="95.96" y1="483.3" x2="95.96" y2="484.9" stroke="#858585" stroke-width="0.8"/>
<line x1="99.99" y1="483.3" x2="99.99" y2="484.9" stroke="#858585" stroke-width="0.8"/>
<line x1="127.32" y1="483.3" x2="127.32" y2="484.9" stroke="#858585" stroke-width="0.8"/>
<line x1="141.2" y1="483.3" x2="141.2" y2="484.9" stroke="#858585" stroke-width="0.8"/>
<line x1="151.04" y1="483.3" x2="151.04" y2="484.9" stroke="#858585" stroke-width="0.8"/>
<line x1="158.68" y1="483.3" x2="158.68" y2="484.9" stroke="#858585" stroke-width="0.8"/>
<line x1="164.92" y1="483.3" x2="164.92" y2="484.9" stroke="#858585" stroke-width="0.8"/>
<line x1="170.19" y1="483.3" x2="170.19" y2="484.9" stroke="#858585" stroke-width="0.8"/>
<line x1="174.76" y1="483.3" x2="174.76" y2="484.9" stroke="#858585" stroke-width="0.8"/>
<line x1="178.79" y1="483.3" x2="178.79" y2="484.9" stroke="#858585" stroke-width="0.8"/>
<line x1="205.88" y1="483.3" x2="205.88" y2="484.9" stroke="#858585" stroke-width="0.8"/>
<line x1="219.62" y1="483.3" x2="219.62" y2="484.9" stroke="#858585" stroke-width="0.8"/>
<line x1="229.36" y1="483.3" x2="229.36" y2="484.9" stroke="#858585" stroke-width="0.8"/>
<line x1="236.92" y1="483.3" x2="236.92" y2="484.9" stroke="#858585" stroke-width="0.8"/>
<line x1="243.1" y1="483.3" x2="243.1" y2="484.9" stroke="#858585" stroke-width="0.8"/>
<line x1="248.32" y1="483.3" x2="248.32" y2="484.9" stroke="#858585" stroke-width="0.8"/>
<line x1="252.84" y1="483.3" x2="252.84" y2="484.9" stroke="#858585" stroke-width="0.8"/>
<line x1="256.83" y1="483.3" x2="256.83" y2="484.9" stroke="#858585" stroke-width="0.8"/>
<line x1="283.61" y1="483.3" x2="283.61" y2="484.9" stroke="#858585" stroke-width="0.8"/>
<line x1="297.19" y1="483.3" x2="297.19" y2="484.9" stroke="#858585" stroke-width="0.8"/>
<line x1="306.82" y1="483.3" x2="306.82" y2="484.9" stroke="#858585" stroke-width="0.8"/>
<line x1="314.29" y1="483.3" x2="314.29" y2="484.9" stroke="#858585" stroke-width="0.8"/>
<line x1="320.4" y1="483.3" x2="320.4" y2="484.9" stroke="#858585" stroke-width="0.8"/>
<line x1="325.56" y1="483.3" x2="325.56" y2="484.9" stroke="#858585" stroke-width="0.8"/>
<line x1="330.03" y1="483.3" x2="330.03" y2="484.9" stroke="#858585" stroke-width="0.8"/>
<line x1="333.97" y1="483.3" x2="333.97" y2="484.9" stroke="#858585" stroke-width="0.8"/>
<rect x="381.6" y="21.6" width="287" height="461.6" fill="none" stroke="#858585" stroke-width="1.1"/>
<line x1="379.4" y1="461.7" x2="381.6" y2="461.7" stroke="#858585" stroke-width="1"/>
<text x="377" y="467.1" font-family='"Liberation Sans", sans-serif' font-size="12.8" text-anchor="end" fill="#333333" >80</text>
<line x1="379.4" y1="419.72" x2="381.6" y2="419.72" stroke="#858585" stroke-width="1"/>
<text x="377" y="425.12" font-family='"Liberation Sans", sans-serif' font-size="12.8" text-anchor="end" fill="#333333" >90</text>
<line x1="379.4" y1="377.74" x2="381.6" y2="377.74" stroke="#858585" stroke-width="1"/>
<text x="377" y="383.14" font-family='"Liberation Sans", sans-serif' font-size="12.8" text-anchor="end" fill="#333333" textLength="23" lengthAdjust="spacingAndGlyphs" >100</text>
<line x1="379.4" y1="335.76" x2="381.6" y2="335.76" stroke="#858585" stroke-width="1"/>
<text x="377" y="341.16" font-family='"Liberation Sans", sans-serif' font-size="12.8" text-anchor="end" fill="#333333" textLength="23" lengthAdjust="spacingAndGlyphs" >110</text>
<line x1="379.4" y1="293.78" x2="381.6" y2="293.78" stroke="#858585" stroke-width="1"/>
<text x="377" y="299.18" font-family='"Liberation Sans", sans-serif' font-size="12.8" text-anchor="end" fill="#333333" textLength="23" lengthAdjust="spacingAndGlyphs" >120</text>
<line x1="379.4" y1="251.8" x2="381.6" y2="251.8" stroke="#858585" stroke-width="1"/>
<text x="377" y="257.2" font-family='"Liberation Sans", sans-serif' font-size="12.8" text-anchor="end" fill="#333333" textLength="23" lengthAdjust="spacingAndGlyphs" >130</text>
<line x1="379.4" y1="209.82" x2="381.6" y2="209.82" stroke="#858585" stroke-width="1"/>
<text x="377" y="215.22" font-family='"Liberation Sans", sans-serif' font-size="12.8" text-anchor="end" fill="#333333" textLength="23" lengthAdjust="spacingAndGlyphs" >140</text>
<line x1="379.4" y1="167.84" x2="381.6" y2="167.84" stroke="#858585" stroke-width="1"/>
<text x="377" y="173.24" font-family='"Liberation Sans", sans-serif' font-size="12.8" text-anchor="end" fill="#333333" textLength="23" lengthAdjust="spacingAndGlyphs" >150</text>
<line x1="379.4" y1="125.86" x2="381.6" y2="125.86" stroke="#858585" stroke-width="1"/>
<text x="377" y="131.26" font-family='"Liberation Sans", sans-serif' font-size="12.8" text-anchor="end" fill="#333333" textLength="23" lengthAdjust="spacingAndGlyphs" >160</text>
<line x1="379.4" y1="83.88" x2="381.6" y2="83.88" stroke="#858585" stroke-width="1"/>
<text x="377" y="89.28" font-family='"Liberation Sans", sans-serif' font-size="12.8" text-anchor="end" fill="#333333" textLength="23" lengthAdjust="spacingAndGlyphs" >170</text>
<line x1="379.4" y1="41.9" x2="381.6" y2="41.9" stroke="#858585" stroke-width="1"/>
<text x="377" y="47.3" font-family='"Liberation Sans", sans-serif' font-size="12.8" text-anchor="end" fill="#333333" textLength="23" lengthAdjust="spacingAndGlyphs" >180</text>
<line x1="435.5" y1="483.2" x2="435.5" y2="485.6" stroke="#858585" stroke-width="1"/>
<text x="437.1" y="498.4" font-family='"Liberation Sans", sans-serif' font-size="13.2" text-anchor="end" fill="#333333" textLength="15" lengthAdjust="spacingAndGlyphs" >10</text>
<text x="437.5" y="492.2" font-family='"Liberation Sans", sans-serif' font-size="8.6" fill="#333333" textLength="12.4" lengthAdjust="spacingAndGlyphs" >−4</text>
<line x1="513.6" y1="483.2" x2="513.6" y2="485.6" stroke="#858585" stroke-width="1"/>
<text x="515.2" y="498.4" font-family='"Liberation Sans", sans-serif' font-size="13.2" text-anchor="end" fill="#333333" textLength="15" lengthAdjust="spacingAndGlyphs" >10</text>
<text x="515.6" y="492.2" font-family='"Liberation Sans", sans-serif' font-size="8.6" fill="#333333" textLength="12.4" lengthAdjust="spacingAndGlyphs" >−3</text>
<line x1="591.5" y1="483.2" x2="591.5" y2="485.6" stroke="#858585" stroke-width="1"/>
<text x="593.1" y="498.4" font-family='"Liberation Sans", sans-serif' font-size="13.2" text-anchor="end" fill="#333333" textLength="15" lengthAdjust="spacingAndGlyphs" >10</text>
<text x="593.5" y="492.2" font-family='"Liberation Sans", sans-serif' font-size="8.6" fill="#333333" textLength="12.4" lengthAdjust="spacingAndGlyphs" >−2</text>
<line x1="668.6" y1="483.2" x2="668.6" y2="485.6" stroke="#858585" stroke-width="1"/>
<text x="670.2" y="498.4" font-family='"Liberation Sans", sans-serif' font-size="13.2" text-anchor="end" fill="#333333" textLength="15" lengthAdjust="spacingAndGlyphs" >10</text>
<text x="670.6" y="492.2" font-family='"Liberation Sans", sans-serif' font-size="8.6" fill="#333333" textLength="12.4" lengthAdjust="spacingAndGlyphs" >−1</text>
<line x1="394.66" y1="483.2" x2="394.66" y2="484.8" stroke="#858585" stroke-width="0.8"/>
<line x1="404.42" y1="483.2" x2="404.42" y2="484.8" stroke="#858585" stroke-width="0.8"/>
<line x1="411.99" y1="483.2" x2="411.99" y2="484.8" stroke="#858585" stroke-width="0.8"/>
<line x1="418.17" y1="483.2" x2="418.17" y2="484.8" stroke="#858585" stroke-width="0.8"/>
<line x1="423.4" y1="483.2" x2="423.4" y2="484.8" stroke="#858585" stroke-width="0.8"/>
<line x1="427.93" y1="483.2" x2="427.93" y2="484.8" stroke="#858585" stroke-width="0.8"/>
<line x1="431.93" y1="483.2" x2="431.93" y2="484.8" stroke="#858585" stroke-width="0.8"/>
<line x1="459.01" y1="483.2" x2="459.01" y2="484.8" stroke="#858585" stroke-width="0.8"/>
<line x1="472.76" y1="483.2" x2="472.76" y2="484.8" stroke="#858585" stroke-width="0.8"/>
<line x1="482.52" y1="483.2" x2="482.52" y2="484.8" stroke="#858585" stroke-width="0.8"/>
<line x1="490.09" y1="483.2" x2="490.09" y2="484.8" stroke="#858585" stroke-width="0.8"/>
<line x1="496.27" y1="483.2" x2="496.27" y2="484.8" stroke="#858585" stroke-width="0.8"/>
<line x1="501.5" y1="483.2" x2="501.5" y2="484.8" stroke="#858585" stroke-width="0.8"/>
<line x1="506.03" y1="483.2" x2="506.03" y2="484.8" stroke="#858585" stroke-width="0.8"/>
<line x1="510.03" y1="483.2" x2="510.03" y2="484.8" stroke="#858585" stroke-width="0.8"/>
<line x1="537.05" y1="483.2" x2="537.05" y2="484.8" stroke="#858585" stroke-width="0.8"/>
<line x1="550.77" y1="483.2" x2="550.77" y2="484.8" stroke="#858585" stroke-width="0.8"/>
<line x1="560.5" y1="483.2" x2="560.5" y2="484.8" stroke="#858585" stroke-width="0.8"/>
<line x1="568.05" y1="483.2" x2="568.05" y2="484.8" stroke="#858585" stroke-width="0.8"/>
<line x1="574.22" y1="483.2" x2="574.22" y2="484.8" stroke="#858585" stroke-width="0.8"/>
<line x1="579.43" y1="483.2" x2="579.43" y2="484.8" stroke="#858585" stroke-width="0.8"/>
<line x1="583.95" y1="483.2" x2="583.95" y2="484.8" stroke="#858585" stroke-width="0.8"/>
<line x1="587.94" y1="483.2" x2="587.94" y2="484.8" stroke="#858585" stroke-width="0.8"/>
<line x1="614.71" y1="483.2" x2="614.71" y2="484.8" stroke="#858585" stroke-width="0.8"/>
<line x1="628.29" y1="483.2" x2="628.29" y2="484.8" stroke="#858585" stroke-width="0.8"/>
<line x1="637.92" y1="483.2" x2="637.92" y2="484.8" stroke="#858585" stroke-width="0.8"/>
<line x1="645.39" y1="483.2" x2="645.39" y2="484.8" stroke="#858585" stroke-width="0.8"/>
<line x1="651.5" y1="483.2" x2="651.5" y2="484.8" stroke="#858585" stroke-width="0.8"/>
<line x1="656.66" y1="483.2" x2="656.66" y2="484.8" stroke="#858585" stroke-width="0.8"/>
<line x1="661.13" y1="483.2" x2="661.13" y2="484.8" stroke="#858585" stroke-width="0.8"/>
<line x1="665.07" y1="483.2" x2="665.07" y2="484.8" stroke="#858585" stroke-width="0.8"/>
<rect x="214.7" y="27.8" width="117.1" height="79.1" rx="2.5" fill="#fff" fill-opacity="0.8" stroke="#dedede" stroke-width="1"/>
<line x1="218.8" y1="38" x2="242.9" y2="38" stroke="#3b44ae" stroke-width="1.5"/>
<text x="251.4" y="42.2" font-family='"Liberation Sans", sans-serif' font-size="11.6" fill="#333" textLength="68.8" lengthAdjust="spacingAndGlyphs" >E = 1.0 keV</text>
<line x1="218.8" y1="57.07" x2="242.9" y2="57.07" stroke="#e23a3a" stroke-width="1.5"/>
<text x="251.4" y="61.27" font-family='"Liberation Sans", sans-serif' font-size="11.6" fill="#333" textLength="68.8" lengthAdjust="spacingAndGlyphs" >E = 4.0 keV</text>
<line x1="218.8" y1="76.14" x2="242.9" y2="76.14" stroke="#f6aa30" stroke-width="1.5"/>
<text x="251.4" y="80.34" font-family='"Liberation Sans", sans-serif' font-size="11.6" fill="#333" textLength="76.3" lengthAdjust="spacingAndGlyphs" >E = 10.0 keV</text>
<line x1="218.8" y1="95.21" x2="242.9" y2="95.21" stroke="#2f9a2f" stroke-width="1.5"/>
<text x="251.4" y="99.41" font-family='"Liberation Sans", sans-serif' font-size="11.6" fill="#333" textLength="76.3" lengthAdjust="spacingAndGlyphs" >E = 40.0 keV</text>
<rect x="545.6" y="27.8" width="117.1" height="79.1" rx="2.5" fill="#fff" fill-opacity="0.8" stroke="#dedede" stroke-width="1"/>
<line x1="549.7" y1="38" x2="573.8" y2="38" stroke="#3b44ae" stroke-width="1.5"/>
<text x="582.3" y="42.2" font-family='"Liberation Sans", sans-serif' font-size="11.6" fill="#333" textLength="68.8" lengthAdjust="spacingAndGlyphs" >E = 1.0 keV</text>
<line x1="549.7" y1="57.07" x2="573.8" y2="57.07" stroke="#e23a3a" stroke-width="1.5"/>
<text x="582.3" y="61.27" font-family='"Liberation Sans", sans-serif' font-size="11.6" fill="#333" textLength="68.8" lengthAdjust="spacingAndGlyphs" >E = 4.0 keV</text>
<line x1="549.7" y1="76.14" x2="573.8" y2="76.14" stroke="#f6aa30" stroke-width="1.5"/>
<text x="582.3" y="80.34" font-family='"Liberation Sans", sans-serif' font-size="11.6" fill="#333" textLength="76.3" lengthAdjust="spacingAndGlyphs" >E = 10.0 keV</text>
<line x1="549.7" y1="95.21" x2="573.8" y2="95.21" stroke="#2f9a2f" stroke-width="1.5"/>
<text x="582.3" y="99.41" font-family='"Liberation Sans", sans-serif' font-size="11.6" fill="#333" textLength="76.3" lengthAdjust="spacingAndGlyphs" >E = 40.0 keV</text>
<text x="0.2" y="16.4" font-family='"Liberation Serif", serif' font-size="20" fill="#111" textLength="21.2" lengthAdjust="spacingAndGlyphs" >(a)</text>
<text x="48.1" y="15.6" font-family='"Liberation Serif", serif' font-size="14.2" fill="#111" xml:space="preserve" textLength="198.9" lengthAdjust="spacingAndGlyphs">Initial pitch angle:  0 deg@400 km</text>
<text x="348.9" y="14" font-family='"Liberation Serif", serif' font-size="19.6" fill="#111" textLength="23.4" lengthAdjust="spacingAndGlyphs" >(b)</text>
<text x="383.6" y="15.4" font-family='"Liberation Serif", serif' font-size="14.2" fill="#111" textLength="95.2" lengthAdjust="spacingAndGlyphs" >70 deg@400 km</text>
<text transform="translate(16.1,260.2) rotate(-90)" font-family='"Liberation Serif", serif' font-size="14.2" text-anchor="middle" fill="#111">Height [km]</text>
<text x="192.7" y="518" font-family='"Liberation Serif", serif' font-size="14.2" text-anchor="middle" fill="#111" textLength="183.2" lengthAdjust="spacingAndGlyphs" >Collision rate per electron [1/m]</text>
<text x="513.5" y="518" font-family='"Liberation Serif", serif' font-size="14.2" text-anchor="middle" fill="#111" textLength="184.8" lengthAdjust="spacingAndGlyphs" >Collision rate per electron [1/m]</text>
<text x="590.8" y="246.5" font-family='"Liberation Serif", serif' font-size="13.9" fill="#111" textLength="70.4" lengthAdjust="spacingAndGlyphs" >Mirror point</text>
<text x="286" y="564.8" font-family='"Liberation Serif", serif' font-size="18.2" fill="#111" textLength="190.5" lengthAdjust="spacingAndGlyphs" >Total number of collisions</text>
<line x1="227.7" y1="575" x2="227.7" y2="785.6" stroke="#efefef" stroke-width="1.1"/>
<line x1="245.2" y1="575" x2="245.2" y2="785.6" stroke="#c6c6c6" stroke-width="1.5"/>
<line x1="262.71" y1="575" x2="262.71" y2="785.6" stroke="#efefef" stroke-width="1.1"/>
<line x1="280.21" y1="575" x2="280.21" y2="785.6" stroke="#c6c6c6" stroke-width="1.5"/>
<line x1="297.72" y1="575" x2="297.72" y2="785.6" stroke="#efefef" stroke-width="1.1"/>
<line x1="315.22" y1="575" x2="315.22" y2="785.6" stroke="#efefef" stroke-width="1.1"/>
<line x1="332.73" y1="575" x2="332.73" y2="785.6" stroke="#c6c6c6" stroke-width="1.5"/>
<line x1="350.24" y1="575" x2="350.24" y2="785.6" stroke="#e2e2e2" stroke-width="1.2"/>
<line x1="367.74" y1="575" x2="367.74" y2="785.6" stroke="#c6c6c6" stroke-width="1.5"/>
<line x1="385.25" y1="575" x2="385.25" y2="785.6" stroke="#efefef" stroke-width="1.1"/>
<line x1="402.75" y1="575" x2="402.75" y2="785.6" stroke="#e2e2e2" stroke-width="1.2"/>
<line x1="420.25" y1="575" x2="420.25" y2="785.6" stroke="#d4d4d4" stroke-width="1.3"/>
<line x1="437.76" y1="575" x2="437.76" y2="785.6" stroke="#e2e2e2" stroke-width="1.2"/>
<line x1="455.26" y1="575" x2="455.26" y2="785.6" stroke="#d4d4d4" stroke-width="1.3"/>
<line x1="472.77" y1="575" x2="472.77" y2="785.6" stroke="#c6c6c6" stroke-width="1.5"/>
<line x1="490.27" y1="575" x2="490.27" y2="785.6" stroke="#efefef" stroke-width="1.1"/>
<line x1="507.78" y1="575" x2="507.78" y2="785.6" stroke="#d4d4d4" stroke-width="1.3"/>
<line x1="525.28" y1="575" x2="525.28" y2="785.6" stroke="#c6c6c6" stroke-width="1.5"/>
<line x1="542.79" y1="575" x2="542.79" y2="785.6" stroke="#efefef" stroke-width="1.1"/>
<line x1="215.2" y1="775.6" x2="561.3" y2="775.6" stroke="#e2e2e2" stroke-width="1.2"/>
<line x1="215.2" y1="737.67" x2="561.3" y2="737.67" stroke="#d4d4d4" stroke-width="1.3"/>
<line x1="215.2" y1="699.74" x2="561.3" y2="699.74" stroke="#e2e2e2" stroke-width="1.2"/>
<line x1="215.2" y1="661.81" x2="561.3" y2="661.81" stroke="#efefef" stroke-width="1.1"/>
<line x1="215.2" y1="623.88" x2="561.3" y2="623.88" stroke="#c6c6c6" stroke-width="1.5"/>
<line x1="215.2" y1="585.95" x2="561.3" y2="585.95" stroke="#e2e2e2" stroke-width="1.2"/>
<line x1="215.2" y1="574.5" x2="561.3" y2="574.5" stroke="#f1ecec" stroke-width="1.0"/>
<rect x="344.3" y="572.8" width="2.2" height="1" fill="#aaa"/>
<line x1="215.2" y1="575" x2="215.2" y2="785.6" stroke="#8c8c8c" stroke-width="1.2"/>
<line x1="561.3" y1="575" x2="561.3" y2="785.6" stroke="#d2d2d2" stroke-width="1.0"/>
<line x1="215.2" y1="785.6" x2="561.3" y2="785.6" stroke="#555" stroke-width="1.3"/>
<line x1="213" y1="775.6" x2="215.2" y2="775.6" stroke="#666" stroke-width="1.0"/>
<text x="210.7" y="779.9" font-family='"Liberation Sans", sans-serif' font-size="12.2" text-anchor="end" fill="#3a3a3a" >0</text>
<line x1="213" y1="737.67" x2="215.2" y2="737.67" stroke="#666" stroke-width="1.0"/>
<text x="210.7" y="741.97" font-family='"Liberation Sans", sans-serif' font-size="12.2" text-anchor="end" fill="#3a3a3a" >20</text>
<line x1="213" y1="699.74" x2="215.2" y2="699.74" stroke="#666" stroke-width="1.0"/>
<text x="210.7" y="704.04" font-family='"Liberation Sans", sans-serif' font-size="12.2" text-anchor="end" fill="#3a3a3a" >40</text>
<line x1="213" y1="661.81" x2="215.2" y2="661.81" stroke="#666" stroke-width="1.0"/>
<text x="210.7" y="666.11" font-family='"Liberation Sans", sans-serif' font-size="12.2" text-anchor="end" fill="#3a3a3a" >60</text>
<line x1="213" y1="623.88" x2="215.2" y2="623.88" stroke="#666" stroke-width="1.0"/>
<text x="210.7" y="628.18" font-family='"Liberation Sans", sans-serif' font-size="12.2" text-anchor="end" fill="#3a3a3a" >80</text>
<line x1="213" y1="585.95" x2="215.2" y2="585.95" stroke="#666" stroke-width="1.0"/>
<text x="210.7" y="590.25" font-family='"Liberation Sans", sans-serif' font-size="12.2" text-anchor="end" fill="#3a3a3a" textLength="21" lengthAdjust="spacingAndGlyphs" >100</text>
<line x1="227.7" y1="785.6" x2="227.7" y2="787.8" stroke="#555" stroke-width="1.0"/>
<text x="227.9" y="798.5" font-family='"Liberation Sans", sans-serif' font-size="10.4" text-anchor="middle" fill="#3a3a3a" textLength="7.1" lengthAdjust="spacingAndGlyphs" >0</text>
<line x1="245.2" y1="785.6" x2="245.2" y2="787.8" stroke="#555" stroke-width="1.0"/>
<text x="245.4" y="798.5" font-family='"Liberation Sans", sans-serif' font-size="10.4" text-anchor="middle" fill="#3a3a3a" textLength="7.1" lengthAdjust="spacingAndGlyphs" >5</text>
<line x1="262.71" y1="785.6" x2="262.71" y2="787.8" stroke="#555" stroke-width="1.0"/>
<text x="262.91" y="798.5" font-family='"Liberation Sans", sans-serif' font-size="10.4" text-anchor="middle" fill="#3a3a3a" textLength="14.2" lengthAdjust="spacingAndGlyphs" >10</text>
<line x1="280.21" y1="785.6" x2="280.21" y2="787.8" stroke="#555" stroke-width="1.0"/>
<text x="280.41" y="798.5" font-family='"Liberation Sans", sans-serif' font-size="10.4" text-anchor="middle" fill="#3a3a3a" textLength="14.2" lengthAdjust="spacingAndGlyphs" >15</text>
<line x1="297.72" y1="785.6" x2="297.72" y2="787.8" stroke="#555" stroke-width="1.0"/>
<text x="297.92" y="798.5" font-family='"Liberation Sans", sans-serif' font-size="10.4" text-anchor="middle" fill="#3a3a3a" textLength="14.2" lengthAdjust="spacingAndGlyphs" >20</text>
<line x1="315.22" y1="785.6" x2="315.22" y2="787.8" stroke="#555" stroke-width="1.0"/>
<text x="315.42" y="798.5" font-family='"Liberation Sans", sans-serif' font-size="10.4" text-anchor="middle" fill="#3a3a3a" textLength="14.2" lengthAdjust="spacingAndGlyphs" >25</text>
<line x1="332.73" y1="785.6" x2="332.73" y2="787.8" stroke="#555" stroke-width="1.0"/>
<text x="332.93" y="798.5" font-family='"Liberation Sans", sans-serif' font-size="10.4" text-anchor="middle" fill="#3a3a3a" textLength="14.2" lengthAdjust="spacingAndGlyphs" >30</text>
<line x1="350.24" y1="785.6" x2="350.24" y2="787.8" stroke="#555" stroke-width="1.0"/>
<text x="350.44" y="798.5" font-family='"Liberation Sans", sans-serif' font-size="10.4" text-anchor="middle" fill="#3a3a3a" textLength="14.2" lengthAdjust="spacingAndGlyphs" >35</text>
<line x1="367.74" y1="785.6" x2="367.74" y2="787.8" stroke="#555" stroke-width="1.0"/>
<text x="367.94" y="798.5" font-family='"Liberation Sans", sans-serif' font-size="10.4" text-anchor="middle" fill="#3a3a3a" textLength="14.2" lengthAdjust="spacingAndGlyphs" >40</text>
<line x1="385.25" y1="785.6" x2="385.25" y2="787.8" stroke="#555" stroke-width="1.0"/>
<text x="385.44" y="798.5" font-family='"Liberation Sans", sans-serif' font-size="10.4" text-anchor="middle" fill="#3a3a3a" textLength="14.2" lengthAdjust="spacingAndGlyphs" >45</text>
<line x1="402.75" y1="785.6" x2="402.75" y2="787.8" stroke="#555" stroke-width="1.0"/>
<text x="402.95" y="798.5" font-family='"Liberation Sans", sans-serif' font-size="10.4" text-anchor="middle" fill="#3a3a3a" textLength="14.2" lengthAdjust="spacingAndGlyphs" >50</text>
<line x1="420.25" y1="785.6" x2="420.25" y2="787.8" stroke="#555" stroke-width="1.0"/>
<text x="420.45" y="798.5" font-family='"Liberation Sans", sans-serif' font-size="10.4" text-anchor="middle" fill="#3a3a3a" textLength="14.2" lengthAdjust="spacingAndGlyphs" >55</text>
<line x1="437.76" y1="785.6" x2="437.76" y2="787.8" stroke="#555" stroke-width="1.0"/>
<text x="437.96" y="798.5" font-family='"Liberation Sans", sans-serif' font-size="10.4" text-anchor="middle" fill="#3a3a3a" textLength="14.2" lengthAdjust="spacingAndGlyphs" >60</text>
<line x1="455.26" y1="785.6" x2="455.26" y2="787.8" stroke="#555" stroke-width="1.0"/>
<text x="455.46" y="798.5" font-family='"Liberation Sans", sans-serif' font-size="10.4" text-anchor="middle" fill="#3a3a3a" textLength="14.2" lengthAdjust="spacingAndGlyphs" >65</text>
<line x1="472.77" y1="785.6" x2="472.77" y2="787.8" stroke="#555" stroke-width="1.0"/>
<text x="472.97" y="798.5" font-family='"Liberation Sans", sans-serif' font-size="10.4" text-anchor="middle" fill="#3a3a3a" textLength="14.2" lengthAdjust="spacingAndGlyphs" >70</text>
<line x1="490.27" y1="785.6" x2="490.27" y2="787.8" stroke="#555" stroke-width="1.0"/>
<text x="490.47" y="798.5" font-family='"Liberation Sans", sans-serif' font-size="10.4" text-anchor="middle" fill="#3a3a3a" textLength="14.2" lengthAdjust="spacingAndGlyphs" >75</text>
<line x1="507.78" y1="785.6" x2="507.78" y2="787.8" stroke="#555" stroke-width="1.0"/>
<text x="507.98" y="798.5" font-family='"Liberation Sans", sans-serif' font-size="10.4" text-anchor="middle" fill="#3a3a3a" textLength="14.2" lengthAdjust="spacingAndGlyphs" >80</text>
<line x1="525.28" y1="785.6" x2="525.28" y2="787.8" stroke="#555" stroke-width="1.0"/>
<text x="525.49" y="798.5" font-family='"Liberation Sans", sans-serif' font-size="10.4" text-anchor="middle" fill="#3a3a3a" textLength="14.2" lengthAdjust="spacingAndGlyphs" >85</text>
<line x1="542.79" y1="785.6" x2="542.79" y2="787.8" stroke="#555" stroke-width="1.0"/>
<text x="542.99" y="798.5" font-family='"Liberation Sans", sans-serif' font-size="10.4" text-anchor="middle" fill="#3a3a3a" textLength="14.2" lengthAdjust="spacingAndGlyphs" >90</text>
<text x="387.7" y="812.6" font-family='"Liberation Sans", sans-serif' font-size="11.0" text-anchor="middle" fill="#3a3a3a" textLength="171.9" lengthAdjust="spacingAndGlyphs" >Initial pitch angle at 400km [°]</text>
<path d="M231.2 584.4 L245.2 585.0 L262.7 585.8 L280.2 586.5 L297.7 588.2 L315.2 590.1 L329.9 592.4 L347.4 594.7 L364.9 598.1 L382.4 602.4 L392.2 605.3 L399.9 607.4 L406.3 609.7 L417.5 613.1 L428.0 617.4 L435.0 622.2 L449.7 627.9 L458.4 634.5 L472.8 642.5 L484.7 650.2 L497.3 659.9 L510.9 673.9 L523.9 689.7 L531.9 705.4 L535.1 718.7 L537.2 736.9 L541.0 756.6 L544.5 775.0" fill="none" stroke="#e84848" stroke-width="1.3" stroke-linejoin="round"/>
<path d="M231.2 584.4 L245.2 585.0 L262.7 585.8 L280.2 586.5 L297.7 588.4 L315.2 590.7 L329.9 592.6 L347.4 596.4 L364.9 600.4 L382.4 606.1 L392.2 608.7 L399.9 611.4 L404.5 614.4 L410.5 618.2 L421.0 622.7 L428.0 625.8 L431.5 631.8 L432.9 633.4 L438.8 634.9 L447.6 640.8 L456.0 649.5 L465.4 659.9 L472.8 668.6 L481.5 680.6 L490.6 696.7 L496.6 714.5 L502.5 735.2 L508.1 752.8 L515.8 766.1 L524.6 772.2 L530.2 773.6 L537.2 774.7" fill="none" stroke="#4646b8" stroke-width="1.3" stroke-linejoin="round"/>
<rect x="454.8" y="581" width="100.6" height="37.4" rx="2.5" fill="#fff" fill-opacity="0.85" stroke="#e0e0e0" stroke-width="1"/>
<line x1="458" y1="590.3" x2="480.8" y2="590.3" stroke="#f07070" stroke-width="2.0"/>
<line x1="458" y1="607.4" x2="480.8" y2="607.4" stroke="#6a6ad0" stroke-width="2.0"/>
<text x="490" y="594.5" font-family='"Liberation Sans", sans-serif' font-size="11.5" fill="#3a3a3a" textLength="60.5" lengthAdjust="spacingAndGlyphs" >without MF</text>
<text x="490" y="611.6" font-family='"Liberation Sans", sans-serif' font-size="11.5" fill="#3a3a3a" textLength="43.8" lengthAdjust="spacingAndGlyphs" >with MF</text>
<rect x="235.2" y="740.4" width="64.1" height="29.7" fill="#fff" stroke="#000" stroke-width="2"/>
<text x="245.2" y="761.8" font-family='"Liberation Serif", serif' font-size="19.3" fill="#000" textLength="44.4" lengthAdjust="spacingAndGlyphs" >1 keV</text>
<text x="164" y="590" font-family='"Liberation Serif", serif' font-size="20" fill="#111" >(c)</text>
<text transform="translate(182.2,687.8) rotate(-90)" font-family='"Liberation Serif", serif' font-size="14.8" text-anchor="middle" fill="#111" textLength="62" lengthAdjust="spacingAndGlyphs">Percentage</text>
<line x1="227.6" y1="837.2" x2="227.6" y2="1048.5" stroke="#c8c8c8" stroke-width="1.4"/>
<line x1="245.13" y1="837.2" x2="245.13" y2="1048.5" stroke="#c8c8c8" stroke-width="1.4"/>
<line x1="262.67" y1="837.2" x2="262.67" y2="1048.5" stroke="#c8c8c8" stroke-width="1.4"/>
<line x1="280.2" y1="837.2" x2="280.2" y2="1048.5" stroke="#c8c8c8" stroke-width="1.4"/>
<line x1="297.74" y1="837.2" x2="297.74" y2="1048.5" stroke="#c8c8c8" stroke-width="1.4"/>
<line x1="315.27" y1="837.2" x2="315.27" y2="1048.5" stroke="#c8c8c8" stroke-width="1.4"/>
<line x1="332.81" y1="837.2" x2="332.81" y2="1048.5" stroke="#c8c8c8" stroke-width="1.4"/>
<line x1="350.35" y1="837.2" x2="350.35" y2="1048.5" stroke="#c8c8c8" stroke-width="1.4"/>
<line x1="367.88" y1="837.2" x2="367.88" y2="1048.5" stroke="#c8c8c8" stroke-width="1.4"/>
<line x1="385.41" y1="837.2" x2="385.41" y2="1048.5" stroke="#c8c8c8" stroke-width="1.4"/>
<line x1="402.95" y1="837.2" x2="402.95" y2="1048.5" stroke="#c8c8c8" stroke-width="1.4"/>
<line x1="420.49" y1="837.2" x2="420.49" y2="1048.5" stroke="#c8c8c8" stroke-width="1.4"/>
<line x1="438.02" y1="837.2" x2="438.02" y2="1048.5" stroke="#c8c8c8" stroke-width="1.4"/>
<line x1="455.56" y1="837.2" x2="455.56" y2="1048.5" stroke="#c8c8c8" stroke-width="1.4"/>
<line x1="473.09" y1="837.2" x2="473.09" y2="1048.5" stroke="#c8c8c8" stroke-width="1.4"/>
<line x1="490.62" y1="837.2" x2="490.62" y2="1048.5" stroke="#c8c8c8" stroke-width="1.4"/>
<line x1="508.16" y1="837.2" x2="508.16" y2="1048.5" stroke="#c8c8c8" stroke-width="1.4"/>
<line x1="525.7" y1="837.2" x2="525.7" y2="1048.5" stroke="#c8c8c8" stroke-width="1.4"/>
<line x1="543.23" y1="837.2" x2="543.23" y2="1048.5" stroke="#c8c8c8" stroke-width="1.4"/>
<line x1="211.9" y1="1039" x2="562.5" y2="1039" stroke="#dcd6d6" stroke-width="1.2"/>
<line x1="211.9" y1="1000.97" x2="562.5" y2="1000.97" stroke="#dcd6d6" stroke-width="1.2"/>
<line x1="211.9" y1="962.94" x2="562.5" y2="962.94" stroke="#dcd6d6" stroke-width="1.2"/>
<line x1="211.9" y1="924.91" x2="562.5" y2="924.91" stroke="#dcd6d6" stroke-width="1.2"/>
<line x1="211.9" y1="886.88" x2="562.5" y2="886.88" stroke="#dcd6d6" stroke-width="1.2"/>
<line x1="211.9" y1="848.85" x2="562.5" y2="848.85" stroke="#dcd6d6" stroke-width="1.2"/>
<rect x="211.9" y="837.2" width="350.6" height="211.3" fill="none" stroke="#333" stroke-width="1.3"/>
<line x1="208.4" y1="1039" x2="211.9" y2="1039" stroke="#333" stroke-width="1.2"/>
<text x="203.8" y="1043.4" font-family='"Liberation Sans", sans-serif' font-size="10.0" text-anchor="end" fill="#333" textLength="6.4" lengthAdjust="spacingAndGlyphs" font-weight="bold" >0</text>
<line x1="208.4" y1="1000.97" x2="211.9" y2="1000.97" stroke="#333" stroke-width="1.2"/>
<text x="203.8" y="1005.37" font-family='"Liberation Sans", sans-serif' font-size="10.0" text-anchor="end" fill="#333" textLength="12.8" lengthAdjust="spacingAndGlyphs" font-weight="bold" >20</text>
<line x1="208.4" y1="962.94" x2="211.9" y2="962.94" stroke="#333" stroke-width="1.2"/>
<text x="203.8" y="967.34" font-family='"Liberation Sans", sans-serif' font-size="10.0" text-anchor="end" fill="#333" textLength="12.8" lengthAdjust="spacingAndGlyphs" font-weight="bold" >40</text>
<line x1="208.4" y1="924.91" x2="211.9" y2="924.91" stroke="#333" stroke-width="1.2"/>
<text x="203.8" y="929.31" font-family='"Liberation Sans", sans-serif' font-size="10.0" text-anchor="end" fill="#333" textLength="12.8" lengthAdjust="spacingAndGlyphs" font-weight="bold" >60</text>
<line x1="208.4" y1="886.88" x2="211.9" y2="886.88" stroke="#333" stroke-width="1.2"/>
<text x="203.8" y="891.28" font-family='"Liberation Sans", sans-serif' font-size="10.0" text-anchor="end" fill="#333" textLength="12.8" lengthAdjust="spacingAndGlyphs" font-weight="bold" >80</text>
<line x1="208.4" y1="848.85" x2="211.9" y2="848.85" stroke="#333" stroke-width="1.2"/>
<text x="203.8" y="853.25" font-family='"Liberation Sans", sans-serif' font-size="10.0" text-anchor="end" fill="#333" textLength="19.2" lengthAdjust="spacingAndGlyphs" font-weight="bold" >100</text>
<line x1="227.6" y1="1048.5" x2="227.6" y2="1051.7" stroke="#333" stroke-width="1.2"/>
<text x="227.6" y="1063.3" font-family='"Liberation Sans", sans-serif' font-size="10.0" text-anchor="middle" fill="#333" textLength="6.2" lengthAdjust="spacingAndGlyphs" font-weight="bold" >0</text>
<line x1="245.13" y1="1048.5" x2="245.13" y2="1051.7" stroke="#333" stroke-width="1.2"/>
<text x="245.13" y="1063.3" font-family='"Liberation Sans", sans-serif' font-size="10.0" text-anchor="middle" fill="#333" textLength="6.2" lengthAdjust="spacingAndGlyphs" font-weight="bold" >5</text>
<line x1="262.67" y1="1048.5" x2="262.67" y2="1051.7" stroke="#333" stroke-width="1.2"/>
<text x="262.67" y="1063.3" font-family='"Liberation Sans", sans-serif' font-size="10.0" text-anchor="middle" fill="#333" textLength="12.4" lengthAdjust="spacingAndGlyphs" font-weight="bold" >10</text>
<line x1="280.2" y1="1048.5" x2="280.2" y2="1051.7" stroke="#333" stroke-width="1.2"/>
<text x="280.2" y="1063.3" font-family='"Liberation Sans", sans-serif' font-size="10.0" text-anchor="middle" fill="#333" textLength="12.4" lengthAdjust="spacingAndGlyphs" font-weight="bold" >15</text>
<line x1="297.74" y1="1048.5" x2="297.74" y2="1051.7" stroke="#333" stroke-width="1.2"/>
<text x="297.74" y="1063.3" font-family='"Liberation Sans", sans-serif' font-size="10.0" text-anchor="middle" fill="#333" textLength="12.4" lengthAdjust="spacingAndGlyphs" font-weight="bold" >20</text>
<line x1="315.27" y1="1048.5" x2="315.27" y2="1051.7" stroke="#333" stroke-width="1.2"/>
<text x="315.27" y="1063.3" font-family='"Liberation Sans", sans-serif' font-size="10.0" text-anchor="middle" fill="#333" textLength="12.4" lengthAdjust="spacingAndGlyphs" font-weight="bold" >25</text>
<line x1="332.81" y1="1048.5" x2="332.81" y2="1051.7" stroke="#333" stroke-width="1.2"/>
<text x="332.81" y="1063.3" font-family='"Liberation Sans", sans-serif' font-size="10.0" text-anchor="middle" fill="#333" textLength="12.4" lengthAdjust="spacingAndGlyphs" font-weight="bold" >30</text>
<line x1="350.35" y1="1048.5" x2="350.35" y2="1051.7" stroke="#333" stroke-width="1.2"/>
<text x="350.35" y="1063.3" font-family='"Liberation Sans", sans-serif' font-size="10.0" text-anchor="middle" fill="#333" textLength="12.4" lengthAdjust="spacingAndGlyphs" font-weight="bold" >35</text>
<line x1="367.88" y1="1048.5" x2="367.88" y2="1051.7" stroke="#333" stroke-width="1.2"/>
<text x="367.88" y="1063.3" font-family='"Liberation Sans", sans-serif' font-size="10.0" text-anchor="middle" fill="#333" textLength="12.4" lengthAdjust="spacingAndGlyphs" font-weight="bold" >40</text>
<line x1="385.41" y1="1048.5" x2="385.41" y2="1051.7" stroke="#333" stroke-width="1.2"/>
<text x="385.41" y="1063.3" font-family='"Liberation Sans", sans-serif' font-size="10.0" text-anchor="middle" fill="#333" textLength="12.4" lengthAdjust="spacingAndGlyphs" font-weight="bold" >45</text>
<line x1="402.95" y1="1048.5" x2="402.95" y2="1051.7" stroke="#333" stroke-width="1.2"/>
<text x="402.95" y="1063.3" font-family='"Liberation Sans", sans-serif' font-size="10.0" text-anchor="middle" fill="#333" textLength="12.4" lengthAdjust="spacingAndGlyphs" font-weight="bold" >50</text>
<line x1="420.49" y1="1048.5" x2="420.49" y2="1051.7" stroke="#333" stroke-width="1.2"/>
<text x="420.49" y="1063.3" font-family='"Liberation Sans", sans-serif' font-size="10.0" text-anchor="middle" fill="#333" textLength="12.4" lengthAdjust="spacingAndGlyphs" font-weight="bold" >55</text>
<line x1="438.02" y1="1048.5" x2="438.02" y2="1051.7" stroke="#333" stroke-width="1.2"/>
<text x="438.02" y="1063.3" font-family='"Liberation Sans", sans-serif' font-size="10.0" text-anchor="middle" fill="#333" textLength="12.4" lengthAdjust="spacingAndGlyphs" font-weight="bold" >60</text>
<line x1="455.56" y1="1048.5" x2="455.56" y2="1051.7" stroke="#333" stroke-width="1.2"/>
<text x="455.56" y="1063.3" font-family='"Liberation Sans", sans-serif' font-size="10.0" text-anchor="middle" fill="#333" textLength="12.4" lengthAdjust="spacingAndGlyphs" font-weight="bold" >65</text>
<line x1="473.09" y1="1048.5" x2="473.09" y2="1051.7" stroke="#333" stroke-width="1.2"/>
<text x="473.09" y="1063.3" font-family='"Liberation Sans", sans-serif' font-size="10.0" text-anchor="middle" fill="#333" textLength="12.4" lengthAdjust="spacingAndGlyphs" font-weight="bold" >70</text>
<line x1="490.62" y1="1048.5" x2="490.62" y2="1051.7" stroke="#333" stroke-width="1.2"/>
<text x="490.62" y="1063.3" font-family='"Liberation Sans", sans-serif' font-size="10.0" text-anchor="middle" fill="#333" textLength="12.4" lengthAdjust="spacingAndGlyphs" font-weight="bold" >75</text>
<line x1="508.16" y1="1048.5" x2="508.16" y2="1051.7" stroke="#333" stroke-width="1.2"/>
<text x="508.16" y="1063.3" font-family='"Liberation Sans", sans-serif' font-size="10.0" text-anchor="middle" fill="#333" textLength="12.4" lengthAdjust="spacingAndGlyphs" font-weight="bold" >80</text>
<line x1="525.7" y1="1048.5" x2="525.7" y2="1051.7" stroke="#333" stroke-width="1.2"/>
<text x="525.7" y="1063.3" font-family='"Liberation Sans", sans-serif' font-size="10.0" text-anchor="middle" fill="#333" textLength="12.4" lengthAdjust="spacingAndGlyphs" font-weight="bold" >85</text>
<line x1="543.23" y1="1048.5" x2="543.23" y2="1051.7" stroke="#333" stroke-width="1.2"/>
<text x="543.23" y="1063.3" font-family='"Liberation Sans", sans-serif' font-size="10.0" text-anchor="middle" fill="#333" textLength="12.4" lengthAdjust="spacingAndGlyphs" font-weight="bold" >90</text>
<text x="386.6" y="1077" font-family='"Liberation Sans", sans-serif' font-size="10.8" text-anchor="middle" fill="#333" textLength="163.5" lengthAdjust="spacingAndGlyphs" >Initial pitch angle at 400km [°]</text>
<path d="M227.6 848.5 L233.2 845.6 L238.1 847.1 L245.1 846.4 L255.7 848.9 L262.7 848.9 L271.4 848.9 L280.2 850.8 L287.2 854.2 L290.7 849.8 L296.0 853.0 L301.2 851.7 L310.0 854.6 L322.3 856.5 L332.8 859.7 L341.6 863.3 L350.3 863.7 L358.8 865.0 L366.8 868.6 L374.9 871.1 L380.2 872.4 L384.0 871.7 L387.9 875.1 L395.9 876.2 L403.7 880.4 L411.4 883.5 L419.4 888.8 L427.1 889.4 L435.2 896.4 L442.9 897.7 L448.2 903.0 L458.7 908.2 L466.8 913.5 L474.5 917.9 L482.6 924.0 L493.1 934.4 L501.1 942.4 L508.9 948.9 L516.9 958.2 L523.6 970.0 L530.3 976.6 L535.5 991.1 L539.0 1004.2 L541.8 1020.0 L545.3 1039.0" fill="none" stroke="#dc2f2f" stroke-width="2.0" stroke-linejoin="round"/>
<path d="M227.6 848.9 L230.8 851.7 L236.0 852.7 L241.3 853.8 L245.1 850.2 L254.3 851.1 L262.7 851.1 L273.2 854.6 L283.7 851.7 L289.0 854.6 L296.7 857.2 L302.3 854.6 L307.6 856.1 L311.4 853.8 L316.0 861.2 L319.1 858.0 L323.3 862.4 L325.8 858.4 L329.7 863.7 L337.7 861.6 L344.0 866.5 L352.1 868.6 L356.0 866.0 L361.2 871.7 L367.9 874.3 L375.6 877.0 L380.9 877.8 L385.3 883.5 L390.5 884.8 L394.5 888.2 L398.4 886.1 L403.7 890.9 L408.9 896.0 L414.2 896.6 L419.4 899.6 L424.7 904.4 L430.0 914.8 L433.8 912.9 L440.5 918.8 L448.2 926.6 L451.0 928.5 L454.9 939.7 L461.5 950.2 L469.2 967.3 L474.5 993.6 L479.8 1022.5 L484.0 1034.2 L493.1 1038.2 L539.0 1038.2" fill="none" stroke="#2f3aa8" stroke-width="2.0" stroke-linejoin="round"/>
<rect x="461.2" y="841.9" width="95.2" height="32.1" rx="2.5" fill="#fff" fill-opacity="0.85" stroke="#e0e0e0" stroke-width="1"/>
<line x1="464.7" y1="849.2" x2="486.6" y2="849.2" stroke="#dc2f2f" stroke-width="2.0"/>
<line x1="464.7" y1="864.4" x2="486.6" y2="864.4" stroke="#2f3aa8" stroke-width="2.0"/>
<text x="495" y="853.3" font-family='"Liberation Sans", sans-serif' font-size="11.0" fill="#333" textLength="57.2" lengthAdjust="spacingAndGlyphs" >without MF</text>
<text x="495" y="868.5" font-family='"Liberation Sans", sans-serif' font-size="11.0" fill="#333" textLength="41.3" lengthAdjust="spacingAndGlyphs" >with MF</text>
<rect x="239.1" y="1003.3" width="78.8" height="29.7" fill="#fff" stroke="#000" stroke-width="2"/>
<text x="252" y="1023.8" font-family='"Liberation Serif", serif' font-size="18.5" fill="#000" textLength="53.3" lengthAdjust="spacingAndGlyphs" >40 keV</text>
<text x="160.6" y="849.6" font-family='"Liberation Serif", serif' font-size="20" fill="#111" >(d)</text>
<text transform="translate(179,949.3) rotate(-90)" font-family='"Liberation Serif", serif' font-size="14.8" text-anchor="middle" fill="#111" textLength="62" lengthAdjust="spacingAndGlyphs">Percentage</text>
<rect x="589.3" y="565.3" width="1.2" height="2.8" fill="#c4c4c4"/>
<rect x="160" y="820.5" width="1.6" height="1" fill="#e4e4e4"/>
<rect x="172.2" y="820.5" width="1.6" height="1" fill="#e4e4e4"/>
<rect x="184.4" y="820.5" width="1.6" height="1" fill="#e4e4e4"/>
<rect x="191.5" y="820.5" width="1.6" height="1" fill="#e4e4e4"/>
<rect x="203.7" y="820.5" width="1.6" height="1" fill="#e4e4e4"/>
<rect x="215.9" y="820.5" width="1.6" height="1" fill="#e4e4e4"/>
<rect x="223" y="820.5" width="1.6" height="1" fill="#e4e4e4"/>
<rect x="235.2" y="820.5" width="1.6" height="1" fill="#e4e4e4"/>
<rect x="247.4" y="820.5" width="1.6" height="1" fill="#e4e4e4"/>
<rect x="254.5" y="820.5" width="1.6" height="1" fill="#e4e4e4"/>
<rect x="266.7" y="820.5" width="1.6" height="1" fill="#e4e4e4"/>
<rect x="278.9" y="820.5" width="1.6" height="1" fill="#e4e4e4"/>
<rect x="286" y="820.5" width="1.6" height="1" fill="#e4e4e4"/>
<rect x="298.2" y="820.5" width="1.6" height="1" fill="#e4e4e4"/>
<rect x="310.4" y="820.5" width="1.6" height="1" fill="#e4e4e4"/>
<rect x="317.5" y="820.5" width="1.6" height="1" fill="#e4e4e4"/>
<rect x="329.7" y="820.5" width="1.6" height="1" fill="#e4e4e4"/>
<rect x="341.9" y="820.5" width="1.6" height="1" fill="#e4e4e4"/>
<rect x="349" y="820.5" width="1.6" height="1" fill="#e4e4e4"/>
<rect x="361.2" y="820.5" width="1.6" height="1" fill="#e4e4e4"/>
<rect x="373.4" y="820.5" width="1.6" height="1" fill="#e4e4e4"/>
<rect x="380.5" y="820.5" width="1.6" height="1" fill="#e4e4e4"/>
<rect x="392.7" y="820.5" width="1.6" height="1" fill="#e4e4e4"/>
<rect x="404.9" y="820.5" width="1.6" height="1" fill="#e4e4e4"/>
<rect x="412" y="820.5" width="1.6" height="1" fill="#e4e4e4"/>
<rect x="424.2" y="820.5" width="1.6" height="1" fill="#e4e4e4"/>
<rect x="436.4" y="820.5" width="1.6" height="1" fill="#e4e4e4"/>
<rect x="443.5" y="820.5" width="1.6" height="1" fill="#e4e4e4"/>
<rect x="455.7" y="820.5" width="1.6" height="1" fill="#e4e4e4"/>
<rect x="467.9" y="820.5" width="1.6" height="1" fill="#e4e4e4"/>
<rect x="475" y="820.5" width="1.6" height="1" fill="#e4e4e4"/>
<rect x="487.2" y="820.5" width="1.6" height="1" fill="#e4e4e4"/>
<rect x="499.4" y="820.5" width="1.6" height="1" fill="#e4e4e4"/>
<rect x="506.5" y="820.5" width="1.6" height="1" fill="#e4e4e4"/>
<rect x="518.7" y="820.5" width="1.6" height="1" fill="#e4e4e4"/>
<rect x="530.9" y="820.5" width="1.6" height="1" fill="#e4e4e4"/>
<rect x="538" y="820.5" width="1.6" height="1" fill="#e4e4e4"/>
<rect x="550.2" y="820.5" width="1.6" height="1" fill="#e4e4e4"/>
<rect x="562.4" y="820.5" width="1.6" height="1" fill="#e4e4e4"/>
<rect x="569.5" y="820.5" width="1.6" height="1" fill="#e4e4e4"/>
</svg>
</body></html>
